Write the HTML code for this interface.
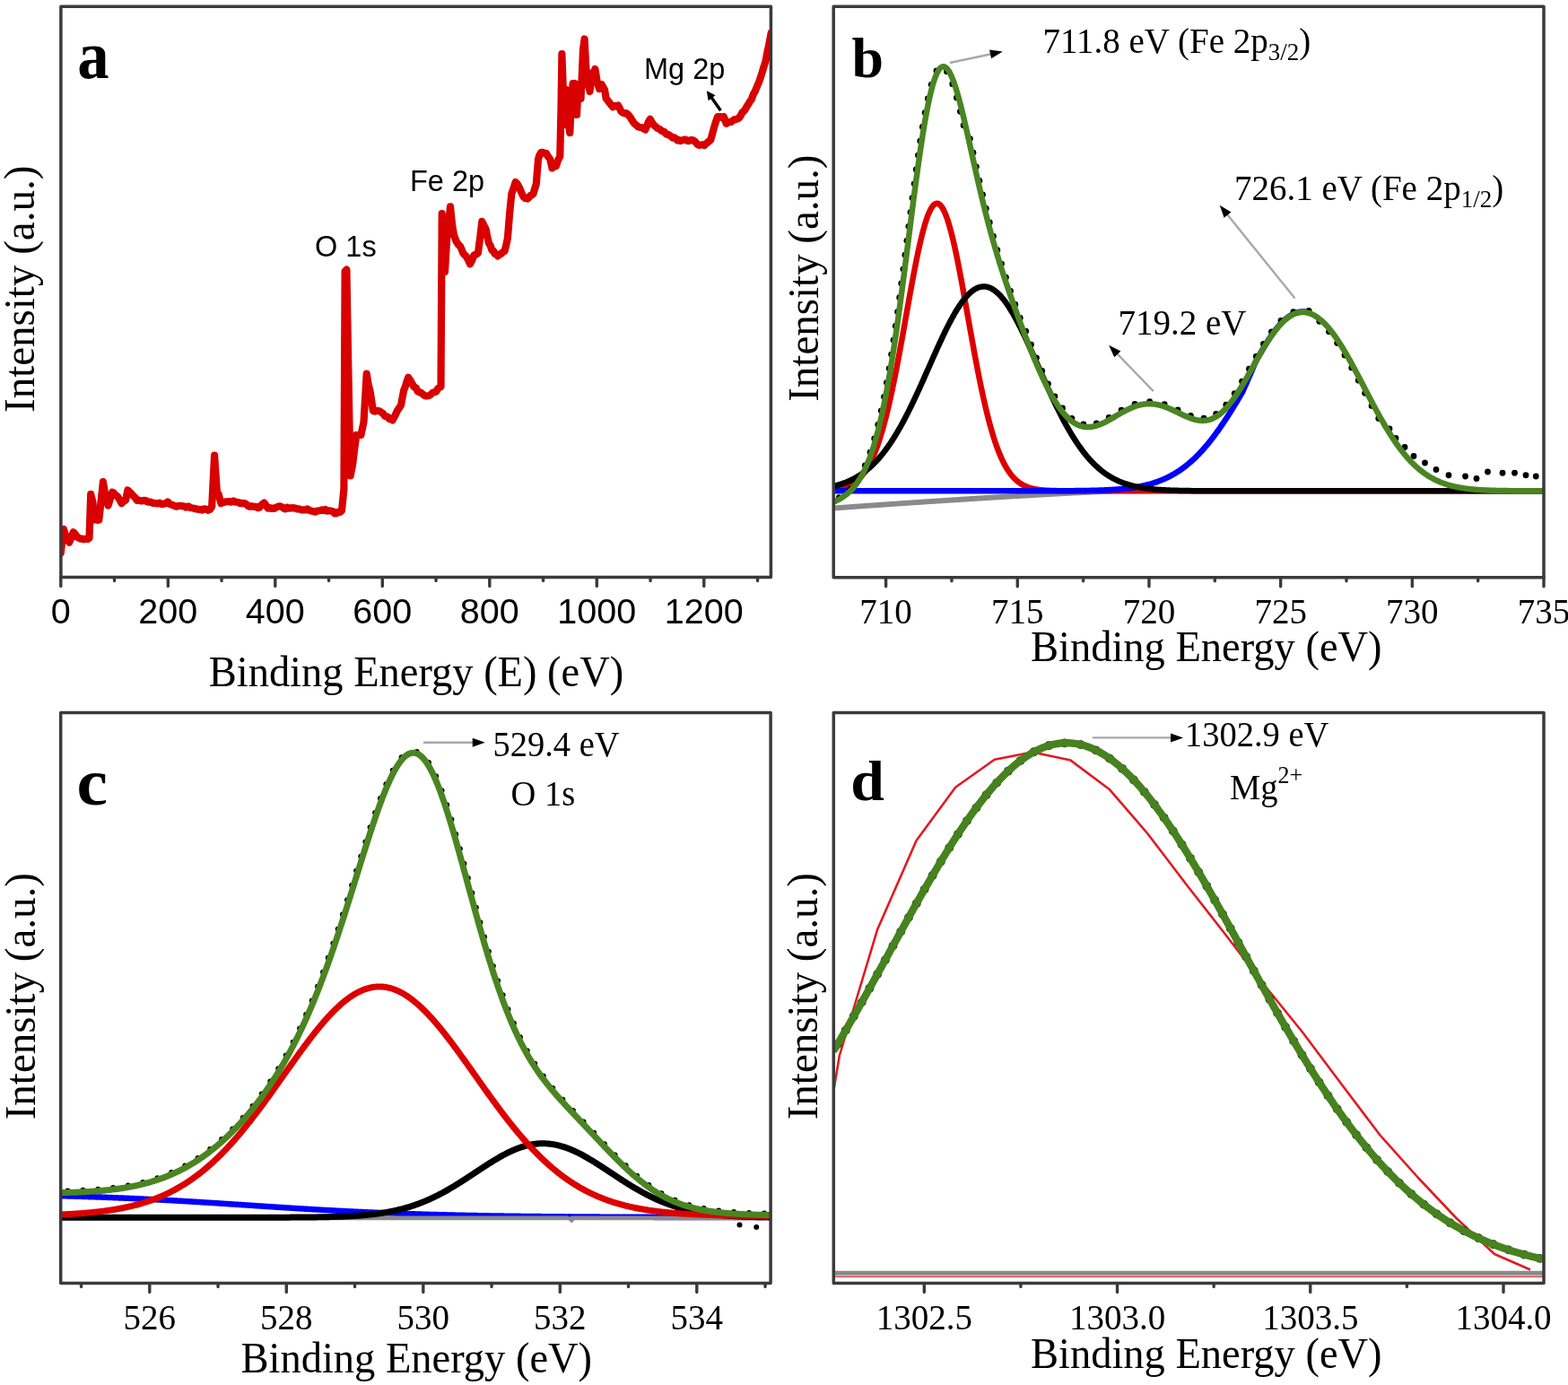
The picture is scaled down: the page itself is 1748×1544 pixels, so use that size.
<!DOCTYPE html>
<html><head><meta charset="utf-8"><title>XPS spectra</title>
<style>html,body{margin:0;padding:0;background:#fff;}body{width:1748px;height:1544px;overflow:hidden;}svg{display:block;}</style>
</head><body>
<svg width="1748" height="1544" viewBox="0 0 1748 1544">
<rect width="1748" height="1544" fill="#fff"/>
<path d="M67.8,643.6 V653.6 M187.3,643.6 V653.6 M306.8,643.6 V653.6 M426.3,643.6 V653.6 M545.8,643.6 V653.6 M665.3,643.6 V653.6 M784.8,643.6 V653.6 M127.55,643.6 V647.6 M247.05,643.6 V647.6 M366.55,643.6 V647.6 M486.05,643.6 V647.6 M605.55,643.6 V647.6 M725.05,643.6 V647.6 M844.55,643.6 V647.6" stroke="#3a3a3a" stroke-width="3.4" fill="none" stroke-linecap="round"/>
<text x="67.8" y="695" font-family="'Liberation Sans',Arial,sans-serif" font-size="39.5" text-anchor="middle">0</text>
<text x="187.3" y="695" font-family="'Liberation Sans',Arial,sans-serif" font-size="39.5" text-anchor="middle">200</text>
<text x="306.8" y="695" font-family="'Liberation Sans',Arial,sans-serif" font-size="39.5" text-anchor="middle">400</text>
<text x="426.3" y="695" font-family="'Liberation Sans',Arial,sans-serif" font-size="39.5" text-anchor="middle">600</text>
<text x="545.8" y="695" font-family="'Liberation Sans',Arial,sans-serif" font-size="39.5" text-anchor="middle">800</text>
<text x="665.3" y="695" font-family="'Liberation Sans',Arial,sans-serif" font-size="39.5" text-anchor="middle">1000</text>
<text x="784.8" y="695" font-family="'Liberation Sans',Arial,sans-serif" font-size="39.5" text-anchor="middle">1200</text>
<path d="M987.6,643.7 V653.7 M1134.28,643.7 V653.7 M1280.96,643.7 V653.7 M1427.64,643.7 V653.7 M1574.32,643.7 V653.7 M1721,643.7 V653.7 M1060.94,643.7 V647.7 M1207.62,643.7 V647.7 M1354.3,643.7 V647.7 M1500.98,643.7 V647.7 M1647.66,643.7 V647.7" stroke="#3a3a3a" stroke-width="3.4" fill="none" stroke-linecap="round"/>
<text transform="translate(987.6,695) scale(1,1.05)" font-family="'Liberation Serif','Times New Roman',serif" font-size="39" text-anchor="middle">710</text>
<text transform="translate(1134.28,695) scale(1,1.05)" font-family="'Liberation Serif','Times New Roman',serif" font-size="39" text-anchor="middle">715</text>
<text transform="translate(1280.96,695) scale(1,1.05)" font-family="'Liberation Serif','Times New Roman',serif" font-size="39" text-anchor="middle">720</text>
<text transform="translate(1427.64,695) scale(1,1.05)" font-family="'Liberation Serif','Times New Roman',serif" font-size="39" text-anchor="middle">725</text>
<text transform="translate(1574.32,695) scale(1,1.05)" font-family="'Liberation Serif','Times New Roman',serif" font-size="39" text-anchor="middle">730</text>
<text transform="translate(1721,695) scale(1,1.05)" font-family="'Liberation Serif','Times New Roman',serif" font-size="39" text-anchor="middle">735</text>
<path d="M166.8,1430.6 V1440.6 M319.3,1430.6 V1440.6 M471.8,1430.6 V1440.6 M624.3,1430.6 V1440.6 M776.8,1430.6 V1440.6 M90.55,1430.6 V1434.6 M243.05,1430.6 V1434.6 M395.55,1430.6 V1434.6 M548.05,1430.6 V1434.6 M700.55,1430.6 V1434.6 M853.05,1430.6 V1434.6" stroke="#3a3a3a" stroke-width="3.4" fill="none" stroke-linecap="round"/>
<text transform="translate(166.8,1482.3) scale(1,1.05)" font-family="'Liberation Serif','Times New Roman',serif" font-size="39" text-anchor="middle">526</text>
<text transform="translate(319.3,1482.3) scale(1,1.05)" font-family="'Liberation Serif','Times New Roman',serif" font-size="39" text-anchor="middle">528</text>
<text transform="translate(471.8,1482.3) scale(1,1.05)" font-family="'Liberation Serif','Times New Roman',serif" font-size="39" text-anchor="middle">530</text>
<text transform="translate(624.3,1482.3) scale(1,1.05)" font-family="'Liberation Serif','Times New Roman',serif" font-size="39" text-anchor="middle">532</text>
<text transform="translate(776.8,1482.3) scale(1,1.05)" font-family="'Liberation Serif','Times New Roman',serif" font-size="39" text-anchor="middle">534</text>
<path d="M1030.3,1430.6 V1440.6 M1245.53,1430.6 V1440.6 M1460.77,1430.6 V1440.6 M1676.01,1430.6 V1440.6 M1137.92,1430.6 V1434.6 M1353.15,1430.6 V1434.6 M1568.39,1430.6 V1434.6" stroke="#3a3a3a" stroke-width="3.4" fill="none" stroke-linecap="round"/>
<text transform="translate(1030.3,1482.3) scale(1,1.05)" font-family="'Liberation Serif','Times New Roman',serif" font-size="39" text-anchor="middle">1302.5</text>
<text transform="translate(1245.53,1482.3) scale(1,1.05)" font-family="'Liberation Serif','Times New Roman',serif" font-size="39" text-anchor="middle">1303.0</text>
<text transform="translate(1460.77,1482.3) scale(1,1.05)" font-family="'Liberation Serif','Times New Roman',serif" font-size="39" text-anchor="middle">1303.5</text>
<text transform="translate(1676.01,1482.3) scale(1,1.05)" font-family="'Liberation Serif','Times New Roman',serif" font-size="39" text-anchor="middle">1304.0</text>
<text transform="translate(464,765) scale(1,1.05)" font-family="'Liberation Serif','Times New Roman',serif" font-size="46.5" text-anchor="middle">Binding Energy (E) (eV)</text>
<text transform="translate(1149,736.5) scale(1,1.05)" font-family="'Liberation Serif','Times New Roman',serif" font-size="46.5" text-anchor="start">Binding Energy (eV)</text>
<text transform="translate(268.5,1529.5) scale(1,1.05)" font-family="'Liberation Serif','Times New Roman',serif" font-size="46.5" text-anchor="start">Binding Energy (eV)</text>
<text transform="translate(1149,1524.5) scale(1,1.05)" font-family="'Liberation Serif','Times New Roman',serif" font-size="46.5" text-anchor="start">Binding Energy (eV)</text>
<text transform="translate(37.5,460) rotate(-90) scale(1,1.05)" font-family="'Liberation Serif','Times New Roman',serif" font-size="47">Intensity (a.u.)</text>
<text transform="translate(912.3,447.8) rotate(-90) scale(1,1.05)" font-family="'Liberation Serif','Times New Roman',serif" font-size="47">Intensity (a.u.)</text>
<text transform="translate(38.8,1248.3) rotate(-90) scale(1,1.05)" font-family="'Liberation Serif','Times New Roman',serif" font-size="47">Intensity (a.u.)</text>
<text transform="translate(910.7,1248.3) rotate(-90) scale(1,1.05)" font-family="'Liberation Serif','Times New Roman',serif" font-size="47">Intensity (a.u.)</text>
<text transform="translate(86.2,86.8) scale(1.14,1.22)" font-family="'Liberation Serif','Times New Roman',serif" font-size="62" font-weight="bold">a</text>
<text transform="translate(949.5,86) scale(1.03,1.03)" font-family="'Liberation Serif','Times New Roman',serif" font-size="62" font-weight="bold">b</text>
<text transform="translate(85.6,897) scale(1.25,1.19)" font-family="'Liberation Serif','Times New Roman',serif" font-size="62" font-weight="bold">c</text>
<text transform="translate(948.2,892) scale(1.09,1.03)" font-family="'Liberation Serif','Times New Roman',serif" font-size="62" font-weight="bold">d</text>
<defs>
<clipPath id="clipa"><rect x="67.9" y="7.3" width="791.5" height="636.3"/></clipPath>
<clipPath id="clipb"><rect x="929.2" y="7.3" width="791.8" height="636.4"/></clipPath>
<clipPath id="clipc"><rect x="67.7" y="794.5" width="791.4" height="636.1"/></clipPath>
<clipPath id="clipd"><rect x="929.3" y="794.5" width="791.7" height="636.1"/></clipPath>
</defs>
<g clip-path="url(#clipa)"><path d="M67.8,616.2 L70.9,589.8 L73.5,598 L75.19,600.6 L77.2,604.7 L79.5,599.54 L81.7,593.3 L83.96,595.42 L86.3,599 L87.82,599.54 L89.52,600.57 L91.49,600.53 L93.2,601.3 L95.35,600.78 L97.67,600.93 L99.5,600.1 L101.2,550.9 L103.5,560 L105.2,579.5 L106.99,579.11 L108.48,579.85 L110.3,579.5 L112.5,560 L114.9,537.2 L117.8,554.4 L120.6,563.5 L123.18,555.15 L125.2,548.6 L126.99,549.77 L129.05,552.37 L130.9,553.2 L133.36,557.15 L135.5,561.2 L137.92,558.65 L140.1,557.8 L142.4,546.4 L144.45,548.42 L147,550.9 L149.16,553.49 L150.88,554.97 L152.7,557.8 L154.45,557.44 L155.73,558.2 L157.59,558.39 L159.29,558.13 L160.7,557.8 L162.57,558.1 L163.89,559.33 L165.77,559.7 L167.34,559.46 L169.14,560.28 L170.84,561.02 L172.63,560.89 L174.4,561.2 L175.94,561.46 L177.99,560.74 L179.6,561.83 L181.1,562.2 L183,561.5 L184.8,561.13 L187,559.5 L189.07,561.84 L191,562.5 L193.38,563.43 L195.37,564.48 L197.3,564.7 L198.85,563.9 L200.37,563.95 L202.4,564.18 L203.69,564.03 L205.65,564.69 L207.2,565.54 L208.7,564.7 L210.45,564.61 L211.88,565.92 L213.8,566.3 L215.7,566.56 L217.34,567.13 L218.87,567.35 L220.55,567.67 L222.5,568.1 L224.15,568.07 L225.69,568.59 L227.4,567.24 L229.16,567.57 L230.57,567.9 L232.21,568.84 L233.9,568.1 L236.2,564.7 L239.1,507.5 L241.9,548.6 L243.7,551 L246.4,561.1 L248.14,560.23 L249.82,559.87 L251.9,559.3 L253.79,559.2 L255.33,559.05 L257.03,559.56 L258.65,559.02 L260.1,558.4 L261.8,559.65 L263.71,559.72 L265.69,560 L267.5,561.1 L269.4,560.77 L270.93,561.25 L273,561.1 L274.73,562.23 L276.35,563.94 L278.4,564.8 L280.24,564.2 L282.17,564.63 L283.9,564.8 L285.55,564.8 L287.41,566.18 L289.4,565.7 L290.97,563.33 L292.64,561.94 L294.5,560.5 L296.81,563.62 L298.6,566.6 L300.38,565.93 L302.5,566.9 L304.1,566.6 L306.02,566.8 L308.6,565.27 L310.5,564.5 L312.39,564.4 L314.33,565.31 L316,566.6 L318.16,567.39 L320.01,565.72 L322.4,566.6 L324.43,566.45 L326.15,566.13 L327.73,566.43 L329.7,566.6 L331.18,567.42 L333.06,567.27 L334.67,567.94 L336.1,568.4 L337.54,568.43 L339.6,568.3 L341.3,568.52 L342.56,567.5 L344.3,568.4 L346.25,569.52 L348.06,569.78 L349.8,570.3 L351.75,570.6 L353.52,569.63 L355.21,569.46 L357.23,569.08 L359,568.4 L360.81,569.11 L362.66,567.95 L364.54,569.64 L366.21,569.46 L368.1,569.4 L369.86,569.92 L371.57,570.19 L373.25,572.4 L374.6,572.5 L376.5,570.81 L378.81,571.14 L381,569.4 L383.4,545 L384.6,302.5 L386.4,300.7 L388.2,404 L390.6,530.5 L393.1,518 L395.13,501.09 L397.3,485 L398.8,485.29 L400.8,484.98 L402.4,485 L405.5,470.5 L408.7,416.6 L410.46,427.4 L412.8,437.4 L415.9,458 L417.93,458.56 L420.07,457.88 L422.1,458 L423.99,458.86 L425.45,460 L427.15,461.18 L428.97,463.76 L430.4,464.3 L432.27,464.67 L433.82,467.06 L435.93,467.22 L437.6,468.4 L439.3,465.36 L441.17,461.72 L442.8,458 L444.99,454.64 L447,451.8 L450.1,435.3 L451.92,430.61 L453.4,425.65 L455.2,420.8 L457.52,424.12 L459.12,427.1 L461.4,431.1 L463.71,432.29 L465.44,436.11 L467.7,437.3 L469.16,437.72 L470.97,439.16 L472.45,440.4 L474.24,441.34 L475.9,441.5 L477.74,441.21 L479.22,440.56 L480.92,439.18 L482.54,437.58 L484.2,437.3 L486.27,436.52 L487.95,433.34 L489.46,432.34 L491.5,431.1 L492.7,238 L494,290 L496,303 L498.5,260 L500.43,244.55 L502,230.4 L504,250 L506,262 L508.6,269 L510.81,272.53 L513,274.4 L514.66,278.09 L516.3,282.2 L518.1,284.44 L519.6,285.5 L521.63,289.12 L524,294.3 L526.25,290.01 L528.5,284.4 L530.87,283.58 L532.9,282.2 L535.1,265.6 L537.3,246.9 L539.64,251.55 L541.7,255.7 L543.19,263.48 L545,271.1 L546.95,274.44 L548.3,278.9 L550.06,279.67 L551.44,282.89 L553.19,283.04 L554.9,285.5 L556.8,283.82 L559.02,282.62 L560.94,280.69 L562.6,280 L564.51,271.98 L565.9,265.6 L568.1,238.1 L570.3,216.1 L572.64,209.2 L574.7,202.9 L576.87,205.31 L579.1,209.5 L581.38,214.77 L583.5,219.4 L585.49,221.05 L587.9,221.6 L589.62,220.05 L591.4,218 L592.7,217.32 L594.5,216.1 L596.24,210.1 L597.8,205.1 L600,177.5 L601.5,172.84 L603.3,169.8 L605.02,169.81 L607.09,170.95 L608.9,170.9 L611.22,174.93 L613.3,177.5 L615.5,187.4 L617.59,185.93 L619.9,185.2 L621.95,179.02 L624.3,174.2 L625.5,120 L626.4,60 L627.8,100 L629.3,139 L630.5,110 L631.5,100 L633,125 L634,140 L635.3,148 L636.5,120 L637.5,110 L638.6,93 L640,100 L641,93 L642,120 L643,128 L644,108 L645,105 L646.5,95 L647.5,110 L648.5,90 L650,55 L651.6,43.5 L653,70 L654,88 L655,80 L656,95 L657.5,102 L658.5,95 L659.5,88 L661,85 L663.4,77 L665.5,90 L668,99 L670.6,94 L672.44,97.19 L674,100 L675.7,110 L677.26,111.63 L679,114 L681.38,117.15 L683.2,119.2 L684.91,117.89 L687.13,118.53 L689.1,117.5 L690.88,120.77 L692.5,124.3 L693.92,125.39 L696.12,126.38 L697.51,126.02 L699.2,126.8 L700.95,128.62 L702.62,130.74 L704.3,133.5 L706.1,136.29 L707.71,138.22 L709.7,139.7 L711.62,141.54 L714,142 L715.93,142.35 L717.37,143.38 L719.4,144.6 L721.38,139.96 L722.73,135.94 L724.8,132.9 L727.12,137.1 L729.1,139.7 L730.53,140.6 L732.51,142.63 L733.97,143.4 L735.85,144.28 L736.93,145.41 L738.8,146.5 L740.47,146.7 L742.11,148.85 L743.53,149.84 L745.13,150.13 L746.74,151.1 L748.5,152.3 L749.92,153.72 L751.9,153.41 L753.3,154.57 L755.27,156.42 L756.46,155.88 L758.3,157.2 L760.69,156.34 L763,155.5 L764.72,155.79 L766.52,156.95 L768,157.2 L770.09,156.14 L772,156 L773.64,156.9 L775.57,158.6 L777.7,161.1 L779.55,161.83 L781.52,161.54 L783.2,161.25 L785.4,162 L787.31,159.98 L788.75,158.81 L790.64,157.23 L792.2,156.2 L794.08,149.31 L796.1,141.7 L797.99,135.86 L800,130 L801.76,130.13 L803.64,130.14 L804.83,130.81 L806.8,130 L809.7,137.8 L811.12,136.86 L813.28,136.12 L814.84,135.95 L816.5,134.9 L818.64,133.18 L820.28,133.15 L822.07,132.49 L824.3,131 L826.17,128.01 L827.48,125.33 L829.53,123.73 L831.1,121.3 L832.52,118.79 L834.62,115.54 L836.02,113 L837.9,110.6 L839.69,105.17 L841.5,102.31 L843.7,97 L846.35,90.8 L848.5,84.4 L850,79.56 L851.54,74.27 L853.4,68.8 L855.21,59.1 L857.3,49.4 L859.6,37" fill="none" stroke="#d80000" stroke-width="8.2" stroke-linejoin="round" stroke-linecap="round"/></g>
<text x="351" y="286" font-family="'Liberation Sans',Arial,sans-serif" font-size="32.5">O 1s</text>
<text x="457" y="212.5" font-family="'Liberation Sans',Arial,sans-serif" font-size="32.5">Fe 2p</text>
<text x="718" y="88.3" font-family="'Liberation Sans',Arial,sans-serif" font-size="32.5">Mg 2p</text>
<path d="M803.4,123.2 L792,107" stroke="#000" stroke-width="3.4" fill="none"/>
<path d="M787.8,101.3 L797.5,106.3 L789.6,112.2 z" fill="#000"/>
<g clip-path="url(#clipb)" fill="none" stroke-linejoin="round">
<path d="M929,566.5 L929.88,566.44 L930.76,566.37 L931.64,566.31 L932.52,566.25 L933.4,566.18 L934.29,566.12 L935.17,566.06 L936.05,566 L936.93,565.93 L937.81,565.87 L938.69,565.81 L939.57,565.74 L940.45,565.68 L941.33,565.62 L942.21,565.56 L943.1,565.49 L943.98,565.43 L944.86,565.37 L945.74,565.3 L946.62,565.24 L947.5,565.18 L948.38,565.12 L949.26,565.05 L950.14,564.99 L951.02,564.93 L951.91,564.87 L952.79,564.81 L953.67,564.74 L954.55,564.68 L955.43,564.62 L956.31,564.56 L957.19,564.49 L958.07,564.43 L958.95,564.37 L959.83,564.31 L960.72,564.25 L961.6,564.18 L962.48,564.12 L963.36,564.06 L964.24,564 L965.12,563.94 L966,563.88 L966.88,563.81 L967.76,563.75 L968.64,563.69 L969.53,563.63 L970.41,563.57 L971.29,563.51 L972.17,563.44 L973.05,563.38 L973.93,563.32 L974.81,563.26 L975.69,563.2 L976.57,563.14 L977.45,563.08 L978.33,563.02 L979.22,562.95 L980.1,562.89 L980.98,562.83 L981.86,562.77 L982.74,562.71 L983.62,562.65 L984.5,562.59 L985.38,562.53 L986.26,562.47 L987.14,562.41 L988.03,562.35 L988.91,562.28 L989.79,562.22 L990.67,562.16 L991.55,562.1 L992.43,562.04 L993.31,561.98 L994.19,561.92 L995.07,561.86 L995.95,561.8 L996.84,561.74 L997.72,561.68 L998.6,561.62 L999.48,561.56 L1000.36,561.5 L1001.24,561.44 L1002.12,561.38 L1003,561.32 L1003.88,561.26 L1004.76,561.2 L1005.65,561.14 L1006.53,561.08 L1007.41,561.02 L1008.29,560.96 L1009.17,560.9 L1010.05,560.84 L1010.93,560.78 L1011.81,560.72 L1012.69,560.66 L1013.57,560.6 L1014.45,560.54 L1015.34,560.48 L1016.22,560.42 L1017.1,560.36 L1017.98,560.31 L1018.86,560.25 L1019.74,560.19 L1020.62,560.13 L1021.5,560.07 L1022.38,560.01 L1023.26,559.95 L1024.15,559.89 L1025.03,559.83 L1025.91,559.77 L1026.79,559.72 L1027.67,559.66 L1028.55,559.6 L1029.43,559.54 L1030.31,559.48 L1031.19,559.42 L1032.07,559.36 L1032.96,559.3 L1033.84,559.25 L1034.72,559.19 L1035.6,559.13 L1036.48,559.07 L1037.36,559.01 L1038.24,558.95 L1039.12,558.9 L1040,558.84 L1040.88,558.78 L1041.77,558.72 L1042.65,558.66 L1043.53,558.61 L1044.41,558.55 L1045.29,558.49 L1046.17,558.43 L1047.05,558.38 L1047.93,558.32 L1048.81,558.26 L1049.69,558.2 L1050.58,558.15 L1051.46,558.09 L1052.34,558.03 L1053.22,557.97 L1054.1,557.92 L1054.98,557.86 L1055.86,557.8 L1056.74,557.74 L1057.62,557.69 L1058.5,557.63 L1059.38,557.57 L1060.27,557.52 L1061.15,557.46 L1062.03,557.4 L1062.91,557.35 L1063.79,557.29 L1064.67,557.23 L1065.55,557.18 L1066.43,557.12 L1067.31,557.06 L1068.19,557.01 L1069.08,556.95 L1069.96,556.89 L1070.84,556.84 L1071.72,556.78 L1072.6,556.72 L1073.48,556.67 L1074.36,556.61 L1075.24,556.56 L1076.12,556.5 L1077,556.44 L1077.89,556.39 L1078.77,556.33 L1079.65,556.28 L1080.53,556.22 L1081.41,556.17 L1082.29,556.11 L1083.17,556.05 L1084.05,556 L1084.93,555.94 L1085.81,555.89 L1086.7,555.83 L1087.58,555.78 L1088.46,555.72 L1089.34,555.67 L1090.22,555.61 L1091.1,555.56 L1091.98,555.5 L1092.86,555.45 L1093.74,555.39 L1094.62,555.34 L1095.51,555.28 L1096.39,555.23 L1097.27,555.17 L1098.15,555.12 L1099.03,555.07 L1099.91,555.01 L1100.79,554.96 L1101.67,554.9 L1102.55,554.85 L1103.43,554.79 L1104.31,554.74 L1105.2,554.69 L1106.08,554.63 L1106.96,554.58 L1107.84,554.52 L1108.72,554.47 L1109.6,554.42 L1110.48,554.36 L1111.36,554.31 L1112.24,554.26 L1113.12,554.2 L1114.01,554.15 L1114.89,554.1 L1115.77,554.04 L1116.65,553.99 L1117.53,553.94 L1118.41,553.89 L1119.29,553.83 L1120.17,553.78 L1121.05,553.73 L1121.93,553.67 L1122.82,553.62 L1123.7,553.57 L1124.58,553.52 L1125.46,553.46 L1126.34,553.41 L1127.22,553.36 L1128.1,553.31 L1128.98,553.26 L1129.86,553.2 L1130.74,553.15 L1131.63,553.1 L1132.51,553.05 L1133.39,553 L1134.27,552.94 L1135.15,552.89 L1136.03,552.84 L1136.91,552.79 L1137.79,552.74 L1138.67,552.69 L1139.55,552.64 L1140.43,552.59 L1141.32,552.53 L1142.2,552.48 L1143.08,552.43 L1143.96,552.38 L1144.84,552.33 L1145.72,552.28 L1146.6,552.23 L1147.48,552.18 L1148.36,552.13 L1149.24,552.08 L1150.13,552.03 L1151.01,551.98 L1151.89,551.93 L1152.77,551.88 L1153.65,551.83 L1154.53,551.78 L1155.41,551.73 L1156.29,551.68 L1157.17,551.63 L1158.05,551.58 L1158.94,551.53 L1159.82,551.48 L1160.7,551.44 L1161.58,551.39 L1162.46,551.34 L1163.34,551.29 L1164.22,551.24 L1165.1,551.19 L1165.98,551.14 L1166.86,551.1 L1167.75,551.05 L1168.63,551 L1169.51,550.95 L1170.39,550.9 L1171.27,550.86 L1172.15,550.81 L1173.03,550.76 L1173.91,550.71 L1174.79,550.67 L1175.67,550.62 L1176.56,550.57 L1177.44,550.52 L1178.32,550.48 L1179.2,550.43 L1180.08,550.38 L1180.96,550.34 L1181.84,550.29 L1182.72,550.24 L1183.6,550.2 L1184.48,550.15 L1185.36,550.11 L1186.25,550.06 L1187.13,550.01 L1188.01,549.97 L1188.89,549.92 L1189.77,549.88 L1190.65,549.83 L1191.53,549.79 L1192.41,549.74 L1193.29,549.7 L1194.17,549.65 L1195.06,549.61 L1195.94,549.56 L1196.82,549.52 L1197.7,549.48 L1198.58,549.43 L1199.46,549.39 L1200.34,549.34 L1201.22,549.3 L1202.1,549.26 L1202.98,549.22 L1203.87,549.17 L1204.75,549.13 L1205.63,549.09 L1206.51,549.04 L1207.39,549 L1208.27,548.96 L1209.15,548.92 L1210.03,548.88 L1210.91,548.83 L1211.79,548.79 L1212.68,548.75 L1213.56,548.71 L1214.44,548.67 L1215.32,548.63 L1216.2,548.59 L1217.08,548.55 L1217.96,548.51 L1218.84,548.47 L1219.72,548.43 L1220.6,548.39 L1221.48,548.35 L1222.37,548.31 L1223.25,548.27 L1224.13,548.24 L1225.01,548.2 L1225.89,548.16 L1226.77,548.12 L1227.65,548.08 L1228.53,548.05 L1229.41,548.01 L1230.29,547.97 L1231.18,547.94 L1232.06,547.9 L1232.94,547.87 L1233.82,547.83 L1234.7,547.8 L1235.58,547.76 L1236.46,547.73 L1237.34,547.7 L1238.22,547.66 L1239.1,547.63 L1239.99,547.6 L1240.87,547.57 L1241.75,547.54 L1242.63,547.51 L1243.51,547.48 L1244.39,547.45 L1245.27,547.42 L1246.15,547.4 L1247.03,547.37 L1247.91,547.35 L1248.8,547.32 L1249.68,547.3 L1250.56,547.3 L1251.44,547.3 L1252.32,547.3 L1253.2,547.3 L1254.08,547.3 L1254.96,547.3 L1255.84,547.3 L1256.72,547.3 L1257.61,547.3 L1258.49,547.3 L1259.37,547.3 L1260.25,547.3 L1261.13,547.3 L1262.01,547.3 L1262.89,547.3 L1263.77,547.3 L1264.65,547.3 L1265.53,547.3 L1266.41,547.3 L1267.3,547.3 L1268.18,547.3 L1269.06,547.3 L1269.94,547.3 L1270.82,547.3 L1271.7,547.3 L1272.58,547.3 L1273.46,547.3 L1274.34,547.3 L1275.22,547.3 L1276.11,547.3 L1276.99,547.3 L1277.87,547.3 L1278.75,547.3 L1279.63,547.3 L1280.51,547.3 L1281.39,547.3 L1282.27,547.3 L1283.15,547.3 L1284.03,547.3 L1284.92,547.3 L1285.8,547.3 L1286.68,547.3 L1287.56,547.3 L1288.44,547.3 L1289.32,547.3 L1290.2,547.3 L1291.08,547.3 L1291.96,547.3 L1292.84,547.3 L1293.73,547.3 L1294.61,547.3 L1295.49,547.3 L1296.37,547.3 L1297.25,547.3 L1298.13,547.3 L1299.01,547.3 L1299.89,547.3 L1300.77,547.3 L1301.65,547.3 L1302.54,547.3 L1303.42,547.3 L1304.3,547.3 L1305.18,547.3 L1306.06,547.3 L1306.94,547.3 L1307.82,547.3 L1308.7,547.3 L1309.58,547.3 L1310.46,547.3 L1311.34,547.3 L1312.23,547.3 L1313.11,547.3 L1313.99,547.3 L1314.87,547.3 L1315.75,547.3 L1316.63,547.3 L1317.51,547.3 L1318.39,547.3 L1319.27,547.3 L1320.15,547.3 L1321.04,547.3 L1321.92,547.3 L1322.8,547.3 L1323.68,547.3 L1324.56,547.3 L1325.44,547.3 L1326.32,547.3 L1327.2,547.3 L1328.08,547.3 L1328.96,547.3 L1329.85,547.3 L1330.73,547.3 L1331.61,547.3 L1332.49,547.3 L1333.37,547.3 L1334.25,547.3 L1335.13,547.3 L1336.01,547.3 L1336.89,547.3 L1337.77,547.3 L1338.66,547.3 L1339.54,547.3 L1340.42,547.3 L1341.3,547.3 L1342.18,547.3 L1343.06,547.3 L1343.94,547.3 L1344.82,547.3 L1345.7,547.3 L1346.58,547.3 L1347.46,547.3 L1348.35,547.3 L1349.23,547.3 L1350.11,547.3 L1350.99,547.3 L1351.87,547.3 L1352.75,547.3 L1353.63,547.3 L1354.51,547.3 L1355.39,547.3 L1356.27,547.3 L1357.16,547.3 L1358.04,547.3 L1358.92,547.3 L1359.8,547.3 L1360.68,547.3 L1361.56,547.3 L1362.44,547.3 L1363.32,547.3 L1364.2,547.3 L1365.08,547.3 L1365.97,547.3 L1366.85,547.3 L1367.73,547.3 L1368.61,547.3 L1369.49,547.3 L1370.37,547.3 L1371.25,547.3 L1372.13,547.3 L1373.01,547.3 L1373.89,547.3 L1374.78,547.3 L1375.66,547.3 L1376.54,547.3 L1377.42,547.3 L1378.3,547.3 L1379.18,547.3 L1380.06,547.3 L1380.94,547.3 L1381.82,547.3 L1382.7,547.3 L1383.59,547.3 L1384.47,547.3 L1385.35,547.3 L1386.23,547.3 L1387.11,547.3 L1387.99,547.3 L1388.87,547.3 L1389.75,547.3 L1390.63,547.3 L1391.51,547.3 L1392.39,547.3 L1393.28,547.3 L1394.16,547.3 L1395.04,547.3 L1395.92,547.3 L1396.8,547.3 L1397.68,547.3 L1398.56,547.3 L1399.44,547.3 L1400.32,547.3 L1401.2,547.3 L1402.09,547.3 L1402.97,547.3 L1403.85,547.3 L1404.73,547.3 L1405.61,547.3 L1406.49,547.3 L1407.37,547.3 L1408.25,547.3 L1409.13,547.3 L1410.01,547.3 L1410.9,547.3 L1411.78,547.3 L1412.66,547.3 L1413.54,547.3 L1414.42,547.3 L1415.3,547.3 L1416.18,547.3 L1417.06,547.3 L1417.94,547.3 L1418.82,547.3 L1419.71,547.3 L1420.59,547.3 L1421.47,547.3 L1422.35,547.3 L1423.23,547.3 L1424.11,547.3 L1424.99,547.3 L1425.87,547.3 L1426.75,547.3 L1427.63,547.3 L1428.52,547.3 L1429.4,547.3 L1430.28,547.3 L1431.16,547.3 L1432.04,547.3 L1432.92,547.3 L1433.8,547.3 L1434.68,547.3 L1435.56,547.3 L1436.44,547.3 L1437.32,547.3 L1438.21,547.3 L1439.09,547.3 L1439.97,547.3 L1440.85,547.3 L1441.73,547.3 L1442.61,547.3 L1443.49,547.3 L1444.37,547.3 L1445.25,547.3 L1446.13,547.3 L1447.02,547.3 L1447.9,547.3 L1448.78,547.3 L1449.66,547.3 L1450.54,547.3 L1451.42,547.3 L1452.3,547.3 L1453.18,547.3 L1454.06,547.3 L1454.94,547.3 L1455.83,547.3 L1456.71,547.3 L1457.59,547.3 L1458.47,547.3 L1459.35,547.3 L1460.23,547.3 L1461.11,547.3 L1461.99,547.3 L1462.87,547.3 L1463.75,547.3 L1464.64,547.3 L1465.52,547.3 L1466.4,547.3 L1467.28,547.3 L1468.16,547.3 L1469.04,547.3 L1469.92,547.3 L1470.8,547.3 L1471.68,547.3 L1472.56,547.3 L1473.44,547.3 L1474.33,547.3 L1475.21,547.3 L1476.09,547.3 L1476.97,547.3 L1477.85,547.3 L1478.73,547.3 L1479.61,547.3 L1480.49,547.3 L1481.37,547.3 L1482.25,547.3 L1483.14,547.3 L1484.02,547.3 L1484.9,547.3 L1485.78,547.3 L1486.66,547.3 L1487.54,547.3 L1488.42,547.3 L1489.3,547.3 L1490.18,547.3 L1491.06,547.3 L1491.95,547.3 L1492.83,547.3 L1493.71,547.3 L1494.59,547.3 L1495.47,547.3 L1496.35,547.3 L1497.23,547.3 L1498.11,547.3 L1498.99,547.3 L1499.87,547.3 L1500.76,547.3 L1501.64,547.3 L1502.52,547.3 L1503.4,547.3 L1504.28,547.3 L1505.16,547.3 L1506.04,547.3 L1506.92,547.3 L1507.8,547.3 L1508.68,547.3 L1509.57,547.3 L1510.45,547.3 L1511.33,547.3 L1512.21,547.3 L1513.09,547.3 L1513.97,547.3 L1514.85,547.3 L1515.73,547.3 L1516.61,547.3 L1517.49,547.3 L1518.37,547.3 L1519.26,547.3 L1520.14,547.3 L1521.02,547.3 L1521.9,547.3 L1522.78,547.3 L1523.66,547.3 L1524.54,547.3 L1525.42,547.3 L1526.3,547.3 L1527.18,547.3 L1528.07,547.3 L1528.95,547.3 L1529.83,547.3 L1530.71,547.3 L1531.59,547.3 L1532.47,547.3 L1533.35,547.3 L1534.23,547.3 L1535.11,547.3 L1535.99,547.3 L1536.88,547.3 L1537.76,547.3 L1538.64,547.3 L1539.52,547.3 L1540.4,547.3 L1541.28,547.3 L1542.16,547.3 L1543.04,547.3 L1543.92,547.3 L1544.8,547.3 L1545.69,547.3 L1546.57,547.3 L1547.45,547.3 L1548.33,547.3 L1549.21,547.3 L1550.09,547.3 L1550.97,547.3 L1551.85,547.3 L1552.73,547.3 L1553.61,547.3 L1554.49,547.3 L1555.38,547.3 L1556.26,547.3 L1557.14,547.3 L1558.02,547.3 L1558.9,547.3 L1559.78,547.3 L1560.66,547.3 L1561.54,547.3 L1562.42,547.3 L1563.3,547.3 L1564.19,547.3 L1565.07,547.3 L1565.95,547.3 L1566.83,547.3 L1567.71,547.3 L1568.59,547.3 L1569.47,547.3 L1570.35,547.3 L1571.23,547.3 L1572.11,547.3 L1573,547.3 L1573.88,547.3 L1574.76,547.3 L1575.64,547.3 L1576.52,547.3 L1577.4,547.3 L1578.28,547.3 L1579.16,547.3 L1580.04,547.3 L1580.92,547.3 L1581.81,547.3 L1582.69,547.3 L1583.57,547.3 L1584.45,547.3 L1585.33,547.3 L1586.21,547.3 L1587.09,547.3 L1587.97,547.3 L1588.85,547.3 L1589.73,547.3 L1590.62,547.3 L1591.5,547.3 L1592.38,547.3 L1593.26,547.3 L1594.14,547.3 L1595.02,547.3 L1595.9,547.3 L1596.78,547.3 L1597.66,547.3 L1598.54,547.3 L1599.42,547.3 L1600.31,547.3 L1601.19,547.3 L1602.07,547.3 L1602.95,547.3 L1603.83,547.3 L1604.71,547.3 L1605.59,547.3 L1606.47,547.3 L1607.35,547.3 L1608.23,547.3 L1609.12,547.3 L1610,547.3 L1610.88,547.3 L1611.76,547.3 L1612.64,547.3 L1613.52,547.3 L1614.4,547.3 L1615.28,547.3 L1616.16,547.3 L1617.04,547.3 L1617.93,547.3 L1618.81,547.3 L1619.69,547.3 L1620.57,547.3 L1621.45,547.3 L1622.33,547.3 L1623.21,547.3 L1624.09,547.3 L1624.97,547.3 L1625.85,547.3 L1626.74,547.3 L1627.62,547.3 L1628.5,547.3 L1629.38,547.3 L1630.26,547.3 L1631.14,547.3 L1632.02,547.3 L1632.9,547.3 L1633.78,547.3 L1634.66,547.3 L1635.55,547.3 L1636.43,547.3 L1637.31,547.3 L1638.19,547.3 L1639.07,547.3 L1639.95,547.3 L1640.83,547.3 L1641.71,547.3 L1642.59,547.3 L1643.47,547.3 L1644.35,547.3 L1645.24,547.3 L1646.12,547.3 L1647,547.3 L1647.88,547.3 L1648.76,547.3 L1649.64,547.3 L1650.52,547.3 L1651.4,547.3 L1652.28,547.3 L1653.16,547.3 L1654.05,547.3 L1654.93,547.3 L1655.81,547.3 L1656.69,547.3 L1657.57,547.3 L1658.45,547.3 L1659.33,547.3 L1660.21,547.3 L1661.09,547.3 L1661.97,547.3 L1662.86,547.3 L1663.74,547.3 L1664.62,547.3 L1665.5,547.3 L1666.38,547.3 L1667.26,547.3 L1668.14,547.3 L1669.02,547.3 L1669.9,547.3 L1670.78,547.3 L1671.67,547.3 L1672.55,547.3 L1673.43,547.3 L1674.31,547.3 L1675.19,547.3 L1676.07,547.3 L1676.95,547.3 L1677.83,547.3 L1678.71,547.3 L1679.59,547.3 L1680.47,547.3 L1681.36,547.3 L1682.24,547.3 L1683.12,547.3 L1684,547.3 L1684.88,547.3 L1685.76,547.3 L1686.64,547.3 L1687.52,547.3 L1688.4,547.3 L1689.28,547.3 L1690.17,547.3 L1691.05,547.3 L1691.93,547.3 L1692.81,547.3 L1693.69,547.3 L1694.57,547.3 L1695.45,547.3 L1696.33,547.3 L1697.21,547.3 L1698.09,547.3 L1698.98,547.3 L1699.86,547.3 L1700.74,547.3 L1701.62,547.3 L1702.5,547.3 L1703.38,547.3 L1704.26,547.3 L1705.14,547.3 L1706.02,547.3 L1706.9,547.3 L1707.79,547.3 L1708.67,547.3 L1709.55,547.3 L1710.43,547.3 L1711.31,547.3 L1712.19,547.3 L1713.07,547.3 L1713.95,547.3 L1714.83,547.3 L1715.71,547.3 L1716.6,547.3 L1717.48,547.3 L1718.36,547.3 L1719.24,547.3 L1720.12,547.3 L1721,547.3" stroke="#8a8a8a" stroke-width="6"/>
<path d="M929,546.12 L929.88,546.01 L930.76,545.9 L931.64,545.78 L932.52,545.65 L933.4,545.5 L934.29,545.35 L935.17,545.19 L936.05,545.01 L936.93,544.82 L937.81,544.61 L938.69,544.39 L939.57,544.16 L940.45,543.91 L941.33,543.63 L942.21,543.35 L943.1,543.04 L943.98,542.7 L944.86,542.35 L945.74,541.97 L946.62,541.57 L947.5,541.14 L948.38,540.69 L949.26,540.2 L950.14,539.69 L951.02,539.14 L951.91,538.56 L952.79,537.94 L953.67,537.29 L954.55,536.59 L955.43,535.86 L956.31,535.08 L957.19,534.26 L958.07,533.4 L958.95,532.49 L959.83,531.52 L960.72,530.51 L961.6,529.44 L962.48,528.31 L963.36,527.13 L964.24,525.89 L965.12,524.59 L966,523.22 L966.88,521.79 L967.76,520.29 L968.64,518.72 L969.53,517.08 L970.41,515.37 L971.29,513.58 L972.17,511.71 L973.05,509.77 L973.93,507.74 L974.81,505.63 L975.69,503.44 L976.57,501.16 L977.45,498.8 L978.33,496.35 L979.22,493.81 L980.1,491.18 L980.98,488.46 L981.86,485.65 L982.74,482.74 L983.62,479.74 L984.5,476.65 L985.38,473.47 L986.26,470.19 L987.14,466.82 L988.03,463.36 L988.91,459.81 L989.79,456.16 L990.67,452.42 L991.55,448.6 L992.43,444.69 L993.31,440.69 L994.19,436.61 L995.07,432.45 L995.95,428.21 L996.84,423.89 L997.72,419.5 L998.6,415.04 L999.48,410.52 L1000.36,405.93 L1001.24,401.28 L1002.12,396.58 L1003,391.83 L1003.88,387.03 L1004.76,382.19 L1005.65,377.32 L1006.53,372.42 L1007.41,367.49 L1008.29,362.54 L1009.17,357.59 L1010.05,352.62 L1010.93,347.66 L1011.81,342.71 L1012.69,337.76 L1013.57,332.84 L1014.45,327.95 L1015.34,323.09 L1016.22,318.27 L1017.1,313.5 L1017.98,308.79 L1018.86,304.14 L1019.74,299.56 L1020.62,295.06 L1021.5,290.65 L1022.38,286.33 L1023.26,282.11 L1024.15,278 L1025.03,274 L1025.91,270.12 L1026.79,266.37 L1027.67,262.76 L1028.55,259.28 L1029.43,255.96 L1030.31,252.79 L1031.19,249.77 L1032.07,246.93 L1032.96,244.25 L1033.84,241.75 L1034.72,239.43 L1035.6,237.29 L1036.48,235.35 L1037.36,233.59 L1038.24,232.03 L1039.12,230.67 L1040,229.51 L1040.88,228.56 L1041.77,227.81 L1042.65,227.26 L1043.53,226.93 L1044.41,226.8 L1045.29,226.88 L1046.17,227.18 L1047.05,227.68 L1047.93,228.38 L1048.81,229.29 L1049.69,230.41 L1050.58,231.73 L1051.46,233.25 L1052.34,234.96 L1053.22,236.87 L1054.1,238.97 L1054.98,241.25 L1055.86,243.71 L1056.74,246.36 L1057.62,249.17 L1058.5,252.14 L1059.38,255.28 L1060.27,258.58 L1061.15,262.02 L1062.03,265.61 L1062.91,269.33 L1063.79,273.18 L1064.67,277.15 L1065.55,281.24 L1066.43,285.44 L1067.31,289.74 L1068.19,294.14 L1069.08,298.62 L1069.96,303.18 L1070.84,307.82 L1071.72,312.52 L1072.6,317.27 L1073.48,322.08 L1074.36,326.93 L1075.24,331.82 L1076.12,336.74 L1077,341.68 L1077.89,346.63 L1078.77,351.59 L1079.65,356.55 L1080.53,361.51 L1081.41,366.46 L1082.29,371.39 L1083.17,376.3 L1084.05,381.18 L1084.93,386.02 L1085.81,390.83 L1086.7,395.59 L1087.58,400.3 L1088.46,404.96 L1089.34,409.57 L1090.22,414.1 L1091.1,418.58 L1091.98,422.98 L1092.86,427.32 L1093.74,431.57 L1094.62,435.75 L1095.51,439.85 L1096.39,443.86 L1097.27,447.79 L1098.15,451.64 L1099.03,455.39 L1099.91,459.05 L1100.79,462.63 L1101.67,466.11 L1102.55,469.5 L1103.43,472.8 L1104.31,476 L1105.2,479.11 L1106.08,482.13 L1106.96,485.05 L1107.84,487.88 L1108.72,490.62 L1109.6,493.27 L1110.48,495.83 L1111.36,498.3 L1112.24,500.68 L1113.12,502.97 L1114.01,505.18 L1114.89,507.31 L1115.77,509.35 L1116.65,511.31 L1117.53,513.19 L1118.41,515 L1119.29,516.73 L1120.17,518.38 L1121.05,519.97 L1121.93,521.48 L1122.82,522.93 L1123.7,524.31 L1124.58,525.62 L1125.46,526.88 L1126.34,528.07 L1127.22,529.21 L1128.1,530.29 L1128.98,531.31 L1129.86,532.29 L1130.74,533.21 L1131.63,534.09 L1132.51,534.92 L1133.39,535.7 L1134.27,536.44 L1135.15,537.14 L1136.03,537.81 L1136.91,538.43 L1137.79,539.02 L1138.67,539.58 L1139.55,540.1 L1140.43,540.59 L1141.32,541.05 L1142.2,541.49 L1143.08,541.89 L1143.96,542.27 L1144.84,542.63 L1145.72,542.97 L1146.6,543.28 L1147.48,543.58 L1148.36,543.85 L1149.24,544.11 L1150.13,544.35 L1151.01,544.57 L1151.89,544.78 L1152.77,544.97 L1153.65,545.15 L1154.53,545.32 L1155.41,545.47 L1156.29,545.62 L1157.17,545.75 L1158.05,545.88 L1158.94,545.99 L1159.82,546.1 L1160.7,546.2 L1161.58,546.29 L1162.46,546.37 L1163.34,546.45 L1164.22,546.52 L1165.1,546.59 L1165.98,546.65 L1166.86,546.71 L1167.75,546.76 L1168.63,546.8 L1169.51,546.85 L1170.39,546.89 L1171.27,546.93 L1172.15,546.96 L1173.03,546.99 L1173.91,547.02 L1174.79,547.04 L1175.67,547.07 L1176.56,547.09 L1177.44,547.11 L1178.32,547.13 L1179.2,547.14 L1180.08,547.16 L1180.96,547.17 L1181.84,547.18 L1182.72,547.2 L1183.6,547.21 L1184.48,547.21 L1185.36,547.22 L1186.25,547.23 L1187.13,547.24 L1188.01,547.24 L1188.89,547.25 L1189.77,547.25 L1190.65,547.26 L1191.53,547.26 L1192.41,547.27 L1193.29,547.27 L1194.17,547.27 L1195.06,547.28 L1195.94,547.28 L1196.82,547.28 L1197.7,547.28 L1198.58,547.29 L1199.46,547.29 L1200.34,547.29 L1201.22,547.29 L1202.1,547.29 L1202.98,547.29 L1203.87,547.29 L1204.75,547.29 L1205.63,547.29 L1206.51,547.29 L1207.39,547.3 L1208.27,547.3 L1209.15,547.3 L1210.03,547.3 L1210.91,547.3 L1211.79,547.3 L1212.68,547.3 L1213.56,547.3 L1214.44,547.3 L1215.32,547.3 L1216.2,547.3 L1217.08,547.3 L1217.96,547.3 L1218.84,547.3 L1219.72,547.3 L1220.6,547.3 L1221.48,547.3 L1222.37,547.3 L1223.25,547.3 L1224.13,547.3 L1225.01,547.3 L1225.89,547.3 L1226.77,547.3 L1227.65,547.3 L1228.53,547.3 L1229.41,547.3 L1230.29,547.3 L1231.18,547.3 L1232.06,547.3 L1232.94,547.3 L1233.82,547.3 L1234.7,547.3 L1235.58,547.3 L1236.46,547.3 L1237.34,547.3 L1238.22,547.3 L1239.1,547.3 L1239.99,547.3 L1240.87,547.3 L1241.75,547.3 L1242.63,547.3 L1243.51,547.3 L1244.39,547.3 L1245.27,547.3 L1246.15,547.3 L1247.03,547.3 L1247.91,547.3 L1248.8,547.3 L1249.68,547.3 L1250.56,547.3 L1251.44,547.3 L1252.32,547.3 L1253.2,547.3 L1254.08,547.3 L1254.96,547.3 L1255.84,547.3 L1256.72,547.3 L1257.61,547.3 L1258.49,547.3 L1259.37,547.3 L1260.25,547.3 L1261.13,547.3 L1262.01,547.3 L1262.89,547.3 L1263.77,547.3 L1264.65,547.3 L1265.53,547.3 L1266.41,547.3 L1267.3,547.3 L1268.18,547.3 L1269.06,547.3 L1269.94,547.3 L1270.82,547.3 L1271.7,547.3 L1272.58,547.3 L1273.46,547.3 L1274.34,547.3 L1275.22,547.3 L1276.11,547.3 L1276.99,547.3 L1277.87,547.3 L1278.75,547.3 L1279.63,547.3 L1280.51,547.3 L1281.39,547.3 L1282.27,547.3 L1283.15,547.3 L1284.03,547.3 L1284.92,547.3 L1285.8,547.3 L1286.68,547.3 L1287.56,547.3 L1288.44,547.3 L1289.32,547.3 L1290.2,547.3 L1291.08,547.3 L1291.96,547.3 L1292.84,547.3 L1293.73,547.3 L1294.61,547.3 L1295.49,547.3 L1296.37,547.3 L1297.25,547.3 L1298.13,547.3 L1299.01,547.3 L1299.89,547.3 L1300.77,547.3 L1301.65,547.3 L1302.54,547.3 L1303.42,547.3 L1304.3,547.3 L1305.18,547.3 L1306.06,547.3 L1306.94,547.3 L1307.82,547.3 L1308.7,547.3 L1309.58,547.3 L1310.46,547.3 L1311.34,547.3 L1312.23,547.3 L1313.11,547.3 L1313.99,547.3 L1314.87,547.3 L1315.75,547.3 L1316.63,547.3 L1317.51,547.3 L1318.39,547.3 L1319.27,547.3 L1320.15,547.3 L1321.04,547.3 L1321.92,547.3 L1322.8,547.3 L1323.68,547.3 L1324.56,547.3 L1325.44,547.3 L1326.32,547.3 L1327.2,547.3 L1328.08,547.3 L1328.96,547.3 L1329.85,547.3 L1330.73,547.3 L1331.61,547.3 L1332.49,547.3 L1333.37,547.3 L1334.25,547.3 L1335.13,547.3 L1336.01,547.3 L1336.89,547.3 L1337.77,547.3 L1338.66,547.3 L1339.54,547.3 L1340.42,547.3 L1341.3,547.3 L1342.18,547.3 L1343.06,547.3 L1343.94,547.3 L1344.82,547.3 L1345.7,547.3 L1346.58,547.3 L1347.46,547.3 L1348.35,547.3 L1349.23,547.3 L1350.11,547.3 L1350.99,547.3 L1351.87,547.3 L1352.75,547.3 L1353.63,547.3 L1354.51,547.3 L1355.39,547.3 L1356.27,547.3 L1357.16,547.3 L1358.04,547.3 L1358.92,547.3 L1359.8,547.3 L1360.68,547.3 L1361.56,547.3 L1362.44,547.3 L1363.32,547.3 L1364.2,547.3 L1365.08,547.3 L1365.97,547.3 L1366.85,547.3 L1367.73,547.3 L1368.61,547.3 L1369.49,547.3 L1370.37,547.3 L1371.25,547.3 L1372.13,547.3 L1373.01,547.3 L1373.89,547.3 L1374.78,547.3 L1375.66,547.3 L1376.54,547.3 L1377.42,547.3 L1378.3,547.3 L1379.18,547.3 L1380.06,547.3 L1380.94,547.3 L1381.82,547.3 L1382.7,547.3 L1383.59,547.3 L1384.47,547.3 L1385.35,547.3 L1386.23,547.3 L1387.11,547.3 L1387.99,547.3 L1388.87,547.3 L1389.75,547.3 L1390.63,547.3 L1391.51,547.3 L1392.39,547.3 L1393.28,547.3 L1394.16,547.3 L1395.04,547.3 L1395.92,547.3 L1396.8,547.3 L1397.68,547.3 L1398.56,547.3 L1399.44,547.3 L1400.32,547.3 L1401.2,547.3 L1402.09,547.3 L1402.97,547.3 L1403.85,547.3 L1404.73,547.3 L1405.61,547.3 L1406.49,547.3 L1407.37,547.3 L1408.25,547.3 L1409.13,547.3 L1410.01,547.3 L1410.9,547.3 L1411.78,547.3 L1412.66,547.3 L1413.54,547.3 L1414.42,547.3 L1415.3,547.3 L1416.18,547.3 L1417.06,547.3 L1417.94,547.3 L1418.82,547.3 L1419.71,547.3 L1420.59,547.3 L1421.47,547.3 L1422.35,547.3 L1423.23,547.3 L1424.11,547.3 L1424.99,547.3 L1425.87,547.3 L1426.75,547.3 L1427.63,547.3 L1428.52,547.3 L1429.4,547.3 L1430.28,547.3 L1431.16,547.3 L1432.04,547.3 L1432.92,547.3 L1433.8,547.3 L1434.68,547.3 L1435.56,547.3 L1436.44,547.3 L1437.32,547.3 L1438.21,547.3 L1439.09,547.3 L1439.97,547.3 L1440.85,547.3 L1441.73,547.3 L1442.61,547.3 L1443.49,547.3 L1444.37,547.3 L1445.25,547.3 L1446.13,547.3 L1447.02,547.3 L1447.9,547.3 L1448.78,547.3 L1449.66,547.3 L1450.54,547.3 L1451.42,547.3 L1452.3,547.3 L1453.18,547.3 L1454.06,547.3 L1454.94,547.3 L1455.83,547.3 L1456.71,547.3 L1457.59,547.3 L1458.47,547.3 L1459.35,547.3 L1460.23,547.3 L1461.11,547.3 L1461.99,547.3 L1462.87,547.3 L1463.75,547.3 L1464.64,547.3 L1465.52,547.3 L1466.4,547.3 L1467.28,547.3 L1468.16,547.3 L1469.04,547.3 L1469.92,547.3 L1470.8,547.3 L1471.68,547.3 L1472.56,547.3 L1473.44,547.3 L1474.33,547.3 L1475.21,547.3 L1476.09,547.3 L1476.97,547.3 L1477.85,547.3 L1478.73,547.3 L1479.61,547.3 L1480.49,547.3 L1481.37,547.3 L1482.25,547.3 L1483.14,547.3 L1484.02,547.3 L1484.9,547.3 L1485.78,547.3 L1486.66,547.3 L1487.54,547.3 L1488.42,547.3 L1489.3,547.3 L1490.18,547.3 L1491.06,547.3 L1491.95,547.3 L1492.83,547.3 L1493.71,547.3 L1494.59,547.3 L1495.47,547.3 L1496.35,547.3 L1497.23,547.3 L1498.11,547.3 L1498.99,547.3 L1499.87,547.3 L1500.76,547.3 L1501.64,547.3 L1502.52,547.3 L1503.4,547.3 L1504.28,547.3 L1505.16,547.3 L1506.04,547.3 L1506.92,547.3 L1507.8,547.3 L1508.68,547.3 L1509.57,547.3 L1510.45,547.3 L1511.33,547.3 L1512.21,547.3 L1513.09,547.3 L1513.97,547.3 L1514.85,547.3 L1515.73,547.3 L1516.61,547.3 L1517.49,547.3 L1518.37,547.3 L1519.26,547.3 L1520.14,547.3 L1521.02,547.3 L1521.9,547.3 L1522.78,547.3 L1523.66,547.3 L1524.54,547.3 L1525.42,547.3 L1526.3,547.3 L1527.18,547.3 L1528.07,547.3 L1528.95,547.3 L1529.83,547.3 L1530.71,547.3 L1531.59,547.3 L1532.47,547.3 L1533.35,547.3 L1534.23,547.3 L1535.11,547.3 L1535.99,547.3 L1536.88,547.3 L1537.76,547.3 L1538.64,547.3 L1539.52,547.3 L1540.4,547.3 L1541.28,547.3 L1542.16,547.3 L1543.04,547.3 L1543.92,547.3 L1544.8,547.3 L1545.69,547.3 L1546.57,547.3 L1547.45,547.3 L1548.33,547.3 L1549.21,547.3 L1550.09,547.3 L1550.97,547.3 L1551.85,547.3 L1552.73,547.3 L1553.61,547.3 L1554.49,547.3 L1555.38,547.3 L1556.26,547.3 L1557.14,547.3 L1558.02,547.3 L1558.9,547.3 L1559.78,547.3 L1560.66,547.3 L1561.54,547.3 L1562.42,547.3 L1563.3,547.3 L1564.19,547.3 L1565.07,547.3 L1565.95,547.3 L1566.83,547.3 L1567.71,547.3 L1568.59,547.3 L1569.47,547.3 L1570.35,547.3 L1571.23,547.3 L1572.11,547.3 L1573,547.3 L1573.88,547.3 L1574.76,547.3 L1575.64,547.3 L1576.52,547.3 L1577.4,547.3 L1578.28,547.3 L1579.16,547.3 L1580.04,547.3 L1580.92,547.3 L1581.81,547.3 L1582.69,547.3 L1583.57,547.3 L1584.45,547.3 L1585.33,547.3 L1586.21,547.3 L1587.09,547.3 L1587.97,547.3 L1588.85,547.3 L1589.73,547.3 L1590.62,547.3 L1591.5,547.3 L1592.38,547.3 L1593.26,547.3 L1594.14,547.3 L1595.02,547.3 L1595.9,547.3 L1596.78,547.3 L1597.66,547.3 L1598.54,547.3 L1599.42,547.3 L1600.31,547.3 L1601.19,547.3 L1602.07,547.3 L1602.95,547.3 L1603.83,547.3 L1604.71,547.3 L1605.59,547.3 L1606.47,547.3 L1607.35,547.3 L1608.23,547.3 L1609.12,547.3 L1610,547.3 L1610.88,547.3 L1611.76,547.3 L1612.64,547.3 L1613.52,547.3 L1614.4,547.3 L1615.28,547.3 L1616.16,547.3 L1617.04,547.3 L1617.93,547.3 L1618.81,547.3 L1619.69,547.3 L1620.57,547.3 L1621.45,547.3 L1622.33,547.3 L1623.21,547.3 L1624.09,547.3 L1624.97,547.3 L1625.85,547.3 L1626.74,547.3 L1627.62,547.3 L1628.5,547.3 L1629.38,547.3 L1630.26,547.3 L1631.14,547.3 L1632.02,547.3 L1632.9,547.3 L1633.78,547.3 L1634.66,547.3 L1635.55,547.3 L1636.43,547.3 L1637.31,547.3 L1638.19,547.3 L1639.07,547.3 L1639.95,547.3 L1640.83,547.3 L1641.71,547.3 L1642.59,547.3 L1643.47,547.3 L1644.35,547.3 L1645.24,547.3 L1646.12,547.3 L1647,547.3 L1647.88,547.3 L1648.76,547.3 L1649.64,547.3 L1650.52,547.3 L1651.4,547.3 L1652.28,547.3 L1653.16,547.3 L1654.05,547.3 L1654.93,547.3 L1655.81,547.3 L1656.69,547.3 L1657.57,547.3 L1658.45,547.3 L1659.33,547.3 L1660.21,547.3 L1661.09,547.3 L1661.97,547.3 L1662.86,547.3 L1663.74,547.3 L1664.62,547.3 L1665.5,547.3 L1666.38,547.3 L1667.26,547.3 L1668.14,547.3 L1669.02,547.3 L1669.9,547.3 L1670.78,547.3 L1671.67,547.3 L1672.55,547.3 L1673.43,547.3 L1674.31,547.3 L1675.19,547.3 L1676.07,547.3 L1676.95,547.3 L1677.83,547.3 L1678.71,547.3 L1679.59,547.3 L1680.47,547.3 L1681.36,547.3 L1682.24,547.3 L1683.12,547.3 L1684,547.3 L1684.88,547.3 L1685.76,547.3 L1686.64,547.3 L1687.52,547.3 L1688.4,547.3 L1689.28,547.3 L1690.17,547.3 L1691.05,547.3 L1691.93,547.3 L1692.81,547.3 L1693.69,547.3 L1694.57,547.3 L1695.45,547.3 L1696.33,547.3 L1697.21,547.3 L1698.09,547.3 L1698.98,547.3 L1699.86,547.3 L1700.74,547.3 L1701.62,547.3 L1702.5,547.3 L1703.38,547.3 L1704.26,547.3 L1705.14,547.3 L1706.02,547.3 L1706.9,547.3 L1707.79,547.3 L1708.67,547.3 L1709.55,547.3 L1710.43,547.3 L1711.31,547.3 L1712.19,547.3 L1713.07,547.3 L1713.95,547.3 L1714.83,547.3 L1715.71,547.3 L1716.6,547.3 L1717.48,547.3 L1718.36,547.3 L1719.24,547.3 L1720.12,547.3 L1721,547.3" stroke="#dd0000" stroke-width="6.5"/>
<path d="M929,547.3 L929.88,547.3 L930.76,547.3 L931.64,547.3 L932.52,547.3 L933.4,547.3 L934.29,547.3 L935.17,547.3 L936.05,547.3 L936.93,547.3 L937.81,547.3 L938.69,547.3 L939.57,547.3 L940.45,547.3 L941.33,547.3 L942.21,547.3 L943.1,547.3 L943.98,547.3 L944.86,547.3 L945.74,547.3 L946.62,547.3 L947.5,547.3 L948.38,547.3 L949.26,547.3 L950.14,547.3 L951.02,547.3 L951.91,547.3 L952.79,547.3 L953.67,547.3 L954.55,547.3 L955.43,547.3 L956.31,547.3 L957.19,547.3 L958.07,547.3 L958.95,547.3 L959.83,547.3 L960.72,547.3 L961.6,547.3 L962.48,547.3 L963.36,547.3 L964.24,547.3 L965.12,547.3 L966,547.3 L966.88,547.3 L967.76,547.3 L968.64,547.3 L969.53,547.3 L970.41,547.3 L971.29,547.3 L972.17,547.3 L973.05,547.3 L973.93,547.3 L974.81,547.3 L975.69,547.3 L976.57,547.3 L977.45,547.3 L978.33,547.3 L979.22,547.3 L980.1,547.3 L980.98,547.3 L981.86,547.3 L982.74,547.3 L983.62,547.3 L984.5,547.3 L985.38,547.3 L986.26,547.3 L987.14,547.3 L988.03,547.3 L988.91,547.3 L989.79,547.3 L990.67,547.3 L991.55,547.3 L992.43,547.3 L993.31,547.3 L994.19,547.3 L995.07,547.3 L995.95,547.3 L996.84,547.3 L997.72,547.3 L998.6,547.3 L999.48,547.3 L1000.36,547.3 L1001.24,547.3 L1002.12,547.3 L1003,547.3 L1003.88,547.3 L1004.76,547.3 L1005.65,547.3 L1006.53,547.3 L1007.41,547.3 L1008.29,547.3 L1009.17,547.3 L1010.05,547.3 L1010.93,547.3 L1011.81,547.3 L1012.69,547.3 L1013.57,547.3 L1014.45,547.3 L1015.34,547.3 L1016.22,547.3 L1017.1,547.3 L1017.98,547.3 L1018.86,547.3 L1019.74,547.3 L1020.62,547.3 L1021.5,547.3 L1022.38,547.3 L1023.26,547.3 L1024.15,547.3 L1025.03,547.3 L1025.91,547.3 L1026.79,547.3 L1027.67,547.3 L1028.55,547.3 L1029.43,547.3 L1030.31,547.3 L1031.19,547.3 L1032.07,547.3 L1032.96,547.3 L1033.84,547.3 L1034.72,547.3 L1035.6,547.3 L1036.48,547.3 L1037.36,547.3 L1038.24,547.3 L1039.12,547.3 L1040,547.3 L1040.88,547.3 L1041.77,547.3 L1042.65,547.3 L1043.53,547.3 L1044.41,547.3 L1045.29,547.3 L1046.17,547.3 L1047.05,547.3 L1047.93,547.3 L1048.81,547.3 L1049.69,547.3 L1050.58,547.3 L1051.46,547.3 L1052.34,547.3 L1053.22,547.3 L1054.1,547.3 L1054.98,547.3 L1055.86,547.3 L1056.74,547.3 L1057.62,547.3 L1058.5,547.3 L1059.38,547.3 L1060.27,547.3 L1061.15,547.3 L1062.03,547.3 L1062.91,547.3 L1063.79,547.3 L1064.67,547.3 L1065.55,547.3 L1066.43,547.3 L1067.31,547.3 L1068.19,547.3 L1069.08,547.3 L1069.96,547.3 L1070.84,547.3 L1071.72,547.3 L1072.6,547.3 L1073.48,547.3 L1074.36,547.3 L1075.24,547.3 L1076.12,547.3 L1077,547.3 L1077.89,547.3 L1078.77,547.3 L1079.65,547.3 L1080.53,547.3 L1081.41,547.3 L1082.29,547.3 L1083.17,547.3 L1084.05,547.3 L1084.93,547.3 L1085.81,547.3 L1086.7,547.3 L1087.58,547.3 L1088.46,547.3 L1089.34,547.3 L1090.22,547.3 L1091.1,547.3 L1091.98,547.3 L1092.86,547.3 L1093.74,547.3 L1094.62,547.3 L1095.51,547.3 L1096.39,547.3 L1097.27,547.3 L1098.15,547.3 L1099.03,547.3 L1099.91,547.3 L1100.79,547.3 L1101.67,547.3 L1102.55,547.3 L1103.43,547.3 L1104.31,547.3 L1105.2,547.3 L1106.08,547.3 L1106.96,547.3 L1107.84,547.3 L1108.72,547.3 L1109.6,547.3 L1110.48,547.3 L1111.36,547.3 L1112.24,547.3 L1113.12,547.3 L1114.01,547.3 L1114.89,547.3 L1115.77,547.3 L1116.65,547.3 L1117.53,547.3 L1118.41,547.3 L1119.29,547.3 L1120.17,547.3 L1121.05,547.3 L1121.93,547.3 L1122.82,547.3 L1123.7,547.3 L1124.58,547.3 L1125.46,547.3 L1126.34,547.3 L1127.22,547.3 L1128.1,547.3 L1128.98,547.3 L1129.86,547.3 L1130.74,547.3 L1131.63,547.3 L1132.51,547.3 L1133.39,547.3 L1134.27,547.3 L1135.15,547.3 L1136.03,547.3 L1136.91,547.3 L1137.79,547.3 L1138.67,547.29 L1139.55,547.29 L1140.43,547.29 L1141.32,547.29 L1142.2,547.29 L1143.08,547.29 L1143.96,547.29 L1144.84,547.29 L1145.72,547.29 L1146.6,547.29 L1147.48,547.29 L1148.36,547.29 L1149.24,547.29 L1150.13,547.29 L1151.01,547.29 L1151.89,547.29 L1152.77,547.29 L1153.65,547.29 L1154.53,547.29 L1155.41,547.28 L1156.29,547.28 L1157.17,547.28 L1158.05,547.28 L1158.94,547.28 L1159.82,547.28 L1160.7,547.28 L1161.58,547.28 L1162.46,547.28 L1163.34,547.28 L1164.22,547.27 L1165.1,547.27 L1165.98,547.27 L1166.86,547.27 L1167.75,547.27 L1168.63,547.27 L1169.51,547.26 L1170.39,547.26 L1171.27,547.26 L1172.15,547.26 L1173.03,547.26 L1173.91,547.25 L1174.79,547.25 L1175.67,547.25 L1176.56,547.25 L1177.44,547.24 L1178.32,547.24 L1179.2,547.24 L1180.08,547.23 L1180.96,547.23 L1181.84,547.23 L1182.72,547.22 L1183.6,547.22 L1184.48,547.22 L1185.36,547.21 L1186.25,547.21 L1187.13,547.2 L1188.01,547.2 L1188.89,547.19 L1189.77,547.19 L1190.65,547.18 L1191.53,547.18 L1192.41,547.17 L1193.29,547.16 L1194.17,547.16 L1195.06,547.15 L1195.94,547.14 L1196.82,547.13 L1197.7,547.13 L1198.58,547.12 L1199.46,547.11 L1200.34,547.1 L1201.22,547.09 L1202.1,547.08 L1202.98,547.07 L1203.87,547.06 L1204.75,547.05 L1205.63,547.04 L1206.51,547.02 L1207.39,547.01 L1208.27,547 L1209.15,546.98 L1210.03,546.97 L1210.91,546.95 L1211.79,546.94 L1212.68,546.92 L1213.56,546.9 L1214.44,546.89 L1215.32,546.87 L1216.2,546.85 L1217.08,546.83 L1217.96,546.81 L1218.84,546.78 L1219.72,546.76 L1220.6,546.74 L1221.48,546.71 L1222.37,546.69 L1223.25,546.66 L1224.13,546.63 L1225.01,546.6 L1225.89,546.57 L1226.77,546.54 L1227.65,546.51 L1228.53,546.48 L1229.41,546.44 L1230.29,546.41 L1231.18,546.37 L1232.06,546.33 L1232.94,546.29 L1233.82,546.25 L1234.7,546.2 L1235.58,546.16 L1236.46,546.11 L1237.34,546.06 L1238.22,546.01 L1239.1,545.96 L1239.99,545.9 L1240.87,545.85 L1241.75,545.79 L1242.63,545.73 L1243.51,545.67 L1244.39,545.6 L1245.27,545.54 L1246.15,545.47 L1247.03,545.39 L1247.91,545.32 L1248.8,545.24 L1249.68,545.16 L1250.56,545.08 L1251.44,545 L1252.32,544.91 L1253.2,544.82 L1254.08,544.72 L1254.96,544.63 L1255.84,544.53 L1256.72,544.42 L1257.61,544.32 L1258.49,544.21 L1259.37,544.09 L1260.25,543.98 L1261.13,543.85 L1262.01,543.73 L1262.89,543.6 L1263.77,543.47 L1264.65,543.33 L1265.53,543.19 L1266.41,543.04 L1267.3,542.89 L1268.18,542.74 L1269.06,542.58 L1269.94,542.41 L1270.82,542.24 L1271.7,542.07 L1272.58,541.89 L1273.46,541.7 L1274.34,541.51 L1275.22,541.32 L1276.11,541.12 L1276.99,540.91 L1277.87,540.7 L1278.75,540.48 L1279.63,540.25 L1280.51,540.02 L1281.39,539.78 L1282.27,539.54 L1283.15,539.28 L1284.03,539.03 L1284.92,538.76 L1285.8,538.49 L1286.68,538.21 L1287.56,537.92 L1288.44,537.63 L1289.32,537.32 L1290.2,537.01 L1291.08,536.7 L1291.96,536.37 L1292.84,536.04 L1293.73,535.69 L1294.61,535.34 L1295.49,534.98 L1296.37,534.61 L1297.25,534.24 L1298.13,533.85 L1299.01,533.45 L1299.89,533.05 L1300.77,532.63 L1301.65,532.21 L1302.54,531.77 L1303.42,531.33 L1304.3,530.87 L1305.18,530.41 L1306.06,529.93 L1306.94,529.45 L1307.82,528.95 L1308.7,528.44 L1309.58,527.92 L1310.46,527.39 L1311.34,526.85 L1312.23,526.3 L1313.11,525.73 L1313.99,525.16 L1314.87,524.57 L1315.75,523.97 L1316.63,523.36 L1317.51,522.74 L1318.39,522.1 L1319.27,521.45 L1320.15,520.79 L1321.04,520.12 L1321.92,519.44 L1322.8,518.74 L1323.68,518.03 L1324.56,517.3 L1325.44,516.56 L1326.32,515.81 L1327.2,515.05 L1328.08,514.27 L1328.96,513.48 L1329.85,512.68 L1330.73,511.86 L1331.61,511.03 L1332.49,510.18 L1333.37,509.33 L1334.25,508.45 L1335.13,507.57 L1336.01,506.67 L1336.89,505.76 L1337.77,504.83 L1338.66,503.89 L1339.54,502.93 L1340.42,501.96 L1341.3,500.98 L1342.18,499.98 L1343.06,498.97 L1343.94,497.95 L1344.82,496.91 L1345.7,495.86 L1346.58,494.8 L1347.46,493.72 L1348.35,492.63 L1349.23,491.52 L1350.11,490.4 L1350.99,489.27 L1351.87,488.13 L1352.75,486.97 L1353.63,485.8 L1354.51,484.61 L1355.39,483.42 L1356.27,482.21 L1357.16,480.99 L1358.04,479.75 L1358.92,478.51 L1359.8,477.25 L1360.68,475.98 L1361.56,474.7 L1362.44,473.4 L1363.32,472.1 L1364.2,470.79 L1365.08,469.46 L1365.97,468.13 L1366.85,466.78 L1367.73,465.43 L1368.61,464.06 L1369.49,462.69 L1370.37,461.3 L1371.25,459.91 L1372.13,458.51 L1373.01,457.1 L1373.89,455.68 L1374.78,454.26 L1375.66,452.83 L1376.54,451.39 L1377.42,449.94 L1378.3,448.49 L1379.18,447.03 L1380.06,445.57 L1380.94,444.1 L1381.82,442.63 L1382.7,441.16 L1383.59,439.68 L1384.47,438.19 L1385.35,436.51 L1386.23,434.53 L1387.11,432.55 L1387.99,430.56 L1388.87,428.57 L1389.75,426.57 L1390.63,424.56 L1391.51,422.54 L1392.39,420.51 L1393.28,418.48 L1394.16,416.43 L1395.04,414.37 L1395.92,412.31 L1396.8,410.23 L1397.68,408.14 L1398.56,406.04 L1399.44,403.94 L1400.32,402.03 L1401.2,400.47 L1402.09,398.91 L1402.97,397.37 L1403.85,395.83 L1404.73,394.3 L1405.61,392.78 L1406.49,391.28 L1407.37,389.78 L1408.25,388.3 L1409.13,386.84 L1410.01,385.39 L1410.9,383.95 L1411.78,382.54 L1412.66,381.14 L1413.54,379.76 L1414.42,378.41 L1415.3,377.07 L1416.18,375.76 L1417.06,374.47 L1417.94,373.2 L1418.82,371.96 L1419.71,370.74 L1420.59,369.55 L1421.47,368.38 L1422.35,367.24 L1423.23,366.13 L1424.11,365.05 L1424.99,364 L1425.87,362.97 L1426.75,361.98 L1427.63,361.02 L1428.52,360.08 L1429.4,359.18 L1430.28,358.31 L1431.16,357.47 L1432.04,356.67 L1432.92,355.89 L1433.8,355.15 L1434.68,354.45 L1435.56,353.77 L1436.44,353.13 L1437.32,352.53 L1438.21,351.95 L1439.09,351.42 L1439.97,350.91 L1440.85,350.44 L1441.73,350.01 L1442.61,349.61 L1443.49,349.24 L1444.37,348.91 L1445.25,348.62 L1446.13,348.36 L1447.02,348.13 L1447.9,347.94 L1448.78,347.79 L1449.66,347.67 L1450.54,347.58 L1451.42,347.53 L1452.3,347.51 L1453.18,347.53 L1454.06,347.59 L1454.94,347.67 L1455.83,347.8" stroke="#0000ff" stroke-width="6.5"/>
<path d="M929,542.06 L929.88,541.85 L930.76,541.63 L931.64,541.4 L932.52,541.17 L933.4,540.93 L934.29,540.68 L935.17,540.42 L936.05,540.15 L936.93,539.87 L937.81,539.59 L938.69,539.3 L939.57,538.99 L940.45,538.68 L941.33,538.35 L942.21,538.02 L943.1,537.68 L943.98,537.32 L944.86,536.96 L945.74,536.58 L946.62,536.19 L947.5,535.79 L948.38,535.38 L949.26,534.96 L950.14,534.52 L951.02,534.07 L951.91,533.61 L952.79,533.13 L953.67,532.64 L954.55,532.14 L955.43,531.63 L956.31,531.1 L957.19,530.55 L958.07,529.99 L958.95,529.42 L959.83,528.83 L960.72,528.22 L961.6,527.6 L962.48,526.96 L963.36,526.31 L964.24,525.64 L965.12,524.95 L966,524.25 L966.88,523.53 L967.76,522.79 L968.64,522.04 L969.53,521.26 L970.41,520.47 L971.29,519.66 L972.17,518.83 L973.05,517.99 L973.93,517.12 L974.81,516.23 L975.69,515.33 L976.57,514.41 L977.45,513.46 L978.33,512.5 L979.22,511.52 L980.1,510.51 L980.98,509.49 L981.86,508.44 L982.74,507.38 L983.62,506.29 L984.5,505.19 L985.38,504.06 L986.26,502.91 L987.14,501.74 L988.03,500.55 L988.91,499.34 L989.79,498.11 L990.67,496.86 L991.55,495.58 L992.43,494.29 L993.31,492.97 L994.19,491.63 L995.07,490.27 L995.95,488.89 L996.84,487.49 L997.72,486.07 L998.6,484.63 L999.48,483.16 L1000.36,481.68 L1001.24,480.17 L1002.12,478.65 L1003,477.11 L1003.88,475.54 L1004.76,473.96 L1005.65,472.35 L1006.53,470.73 L1007.41,469.09 L1008.29,467.43 L1009.17,465.75 L1010.05,464.06 L1010.93,462.34 L1011.81,460.61 L1012.69,458.87 L1013.57,457.1 L1014.45,455.32 L1015.34,453.53 L1016.22,451.72 L1017.1,449.89 L1017.98,448.05 L1018.86,446.2 L1019.74,444.33 L1020.62,442.45 L1021.5,440.56 L1022.38,438.66 L1023.26,436.75 L1024.15,434.83 L1025.03,432.89 L1025.91,430.95 L1026.79,429 L1027.67,427.04 L1028.55,425.08 L1029.43,423.1 L1030.31,421.13 L1031.19,419.15 L1032.07,417.16 L1032.96,415.17 L1033.84,413.18 L1034.72,411.19 L1035.6,409.19 L1036.48,407.2 L1037.36,405.21 L1038.24,403.21 L1039.12,401.23 L1040,399.24 L1040.88,397.26 L1041.77,395.28 L1042.65,393.31 L1043.53,391.35 L1044.41,389.39 L1045.29,387.45 L1046.17,385.51 L1047.05,383.58 L1047.93,381.67 L1048.81,379.77 L1049.69,377.88 L1050.58,376 L1051.46,374.14 L1052.34,372.3 L1053.22,370.48 L1054.1,368.67 L1054.98,366.88 L1055.86,365.11 L1056.74,363.36 L1057.62,361.64 L1058.5,359.94 L1059.38,358.26 L1060.27,356.6 L1061.15,354.97 L1062.03,353.37 L1062.91,351.8 L1063.79,350.25 L1064.67,348.73 L1065.55,347.25 L1066.43,345.79 L1067.31,344.36 L1068.19,342.97 L1069.08,341.61 L1069.96,340.29 L1070.84,339 L1071.72,337.74 L1072.6,336.52 L1073.48,335.34 L1074.36,334.2 L1075.24,333.09 L1076.12,332.03 L1077,331 L1077.89,330.01 L1078.77,329.07 L1079.65,328.17 L1080.53,327.3 L1081.41,326.49 L1082.29,325.71 L1083.17,324.98 L1084.05,324.29 L1084.93,323.65 L1085.81,323.05 L1086.7,322.49 L1087.58,321.98 L1088.46,321.52 L1089.34,321.11 L1090.22,320.74 L1091.1,320.41 L1091.98,320.14 L1092.86,319.91 L1093.74,319.73 L1094.62,319.59 L1095.51,319.5 L1096.39,319.46 L1097.27,319.47 L1098.15,319.53 L1099.03,319.63 L1099.91,319.78 L1100.79,319.97 L1101.67,320.22 L1102.55,320.51 L1103.43,320.85 L1104.31,321.23 L1105.2,321.66 L1106.08,322.14 L1106.96,322.66 L1107.84,323.23 L1108.72,323.84 L1109.6,324.5 L1110.48,325.2 L1111.36,325.95 L1112.24,326.74 L1113.12,327.57 L1114.01,328.44 L1114.89,329.36 L1115.77,330.32 L1116.65,331.32 L1117.53,332.36 L1118.41,333.43 L1119.29,334.55 L1120.17,335.71 L1121.05,336.9 L1121.93,338.13 L1122.82,339.4 L1123.7,340.7 L1124.58,342.03 L1125.46,343.4 L1126.34,344.81 L1127.22,346.24 L1128.1,347.71 L1128.98,349.2 L1129.86,350.73 L1130.74,352.29 L1131.63,353.87 L1132.51,355.48 L1133.39,357.12 L1134.27,358.78 L1135.15,360.47 L1136.03,362.18 L1136.91,363.91 L1137.79,365.66 L1138.67,367.44 L1139.55,369.23 L1140.43,371.04 L1141.32,372.88 L1142.2,374.72 L1143.08,376.59 L1143.96,378.47 L1144.84,380.36 L1145.72,382.27 L1146.6,384.18 L1147.48,386.11 L1148.36,388.05 L1149.24,390 L1150.13,391.96 L1151.01,393.93 L1151.89,395.9 L1152.77,397.88 L1153.65,399.86 L1154.53,401.85 L1155.41,403.84 L1156.29,405.83 L1157.17,407.82 L1158.05,409.82 L1158.94,411.81 L1159.82,413.8 L1160.7,415.79 L1161.58,417.78 L1162.46,419.77 L1163.34,421.75 L1164.22,423.72 L1165.1,425.69 L1165.98,427.65 L1166.86,429.61 L1167.75,431.56 L1168.63,433.5 L1169.51,435.43 L1170.39,437.35 L1171.27,439.26 L1172.15,441.16 L1173.03,443.04 L1173.91,444.92 L1174.79,446.78 L1175.67,448.63 L1176.56,450.46 L1177.44,452.28 L1178.32,454.09 L1179.2,455.88 L1180.08,457.66 L1180.96,459.41 L1181.84,461.16 L1182.72,462.88 L1183.6,464.59 L1184.48,466.28 L1185.36,467.95 L1186.25,469.61 L1187.13,471.24 L1188.01,472.86 L1188.89,474.45 L1189.77,476.03 L1190.65,477.59 L1191.53,479.13 L1192.41,480.65 L1193.29,482.14 L1194.17,483.62 L1195.06,485.08 L1195.94,486.51 L1196.82,487.93 L1197.7,489.32 L1198.58,490.7 L1199.46,492.05 L1200.34,493.38 L1201.22,494.69 L1202.1,495.98 L1202.98,497.25 L1203.87,498.5 L1204.75,499.72 L1205.63,500.93 L1206.51,502.11 L1207.39,503.27 L1208.27,504.41 L1209.15,505.53 L1210.03,506.63 L1210.91,507.71 L1211.79,508.77 L1212.68,509.81 L1213.56,510.83 L1214.44,511.82 L1215.32,512.8 L1216.2,513.76 L1217.08,514.7 L1217.96,515.61 L1218.84,516.51 L1219.72,517.39 L1220.6,518.25 L1221.48,519.09 L1222.37,519.92 L1223.25,520.72 L1224.13,521.51 L1225.01,522.27 L1225.89,523.02 L1226.77,523.76 L1227.65,524.47 L1228.53,525.17 L1229.41,525.85 L1230.29,526.52 L1231.18,527.16 L1232.06,527.8 L1232.94,528.41 L1233.82,529.01 L1234.7,529.6 L1235.58,530.17 L1236.46,530.72 L1237.34,531.26 L1238.22,531.79 L1239.1,532.3 L1239.99,532.8 L1240.87,533.28 L1241.75,533.75 L1242.63,534.21 L1243.51,534.66 L1244.39,535.09 L1245.27,535.51 L1246.15,535.92 L1247.03,536.31 L1247.91,536.7 L1248.8,537.07 L1249.68,537.43 L1250.56,537.79 L1251.44,538.13 L1252.32,538.46 L1253.2,538.78 L1254.08,539.09 L1254.96,539.39 L1255.84,539.68 L1256.72,539.96 L1257.61,540.23 L1258.49,540.5 L1259.37,540.75 L1260.25,541 L1261.13,541.24 L1262.01,541.47 L1262.89,541.7 L1263.77,541.91 L1264.65,542.12 L1265.53,542.32 L1266.41,542.52 L1267.3,542.71 L1268.18,542.89 L1269.06,543.07 L1269.94,543.24 L1270.82,543.4 L1271.7,543.56 L1272.58,543.71 L1273.46,543.85 L1274.34,544 L1275.22,544.13 L1276.11,544.26 L1276.99,544.39 L1277.87,544.51 L1278.75,544.63 L1279.63,544.74 L1280.51,544.85 L1281.39,544.95 L1282.27,545.05 L1283.15,545.15 L1284.03,545.24 L1284.92,545.33 L1285.8,545.42 L1286.68,545.5 L1287.56,545.58 L1288.44,545.66 L1289.32,545.73 L1290.2,545.8 L1291.08,545.87 L1291.96,545.93 L1292.84,545.99 L1293.73,546.05 L1294.61,546.11 L1295.49,546.16 L1296.37,546.22 L1297.25,546.27 L1298.13,546.31 L1299.01,546.36 L1299.89,546.4 L1300.77,546.45 L1301.65,546.49 L1302.54,546.53 L1303.42,546.56 L1304.3,546.6 L1305.18,546.63 L1306.06,546.66 L1306.94,546.69 L1307.82,546.72 L1308.7,546.75 L1309.58,546.78 L1310.46,546.8 L1311.34,546.83 L1312.23,546.85 L1313.11,546.87 L1313.99,546.9 L1314.87,546.92 L1315.75,546.94 L1316.63,546.95 L1317.51,546.97 L1318.39,546.99 L1319.27,547 L1320.15,547.02 L1321.04,547.03 L1321.92,547.05 L1322.8,547.06 L1323.68,547.07 L1324.56,547.08 L1325.44,547.1 L1326.32,547.11 L1327.2,547.12 L1328.08,547.13 L1328.96,547.14 L1329.85,547.14 L1330.73,547.15 L1331.61,547.16 L1332.49,547.17 L1333.37,547.18 L1334.25,547.18 L1335.13,547.19 L1336.01,547.2 L1336.89,547.2 L1337.77,547.21 L1338.66,547.21 L1339.54,547.22 L1340.42,547.22 L1341.3,547.23 L1342.18,547.23 L1343.06,547.23 L1343.94,547.24 L1344.82,547.24 L1345.7,547.24 L1346.58,547.25 L1347.46,547.25 L1348.35,547.25 L1349.23,547.26 L1350.11,547.26 L1350.99,547.26 L1351.87,547.26 L1352.75,547.27 L1353.63,547.27 L1354.51,547.27 L1355.39,547.27 L1356.27,547.27 L1357.16,547.27 L1358.04,547.28 L1358.92,547.28 L1359.8,547.28 L1360.68,547.28 L1361.56,547.28 L1362.44,547.28 L1363.32,547.28 L1364.2,547.28 L1365.08,547.29 L1365.97,547.29 L1366.85,547.29 L1367.73,547.29 L1368.61,547.29 L1369.49,547.29 L1370.37,547.29 L1371.25,547.29 L1372.13,547.29 L1373.01,547.29 L1373.89,547.29 L1374.78,547.29 L1375.66,547.29 L1376.54,547.29 L1377.42,547.29 L1378.3,547.29 L1379.18,547.29 L1380.06,547.3 L1380.94,547.3 L1381.82,547.3 L1382.7,547.3 L1383.59,547.3 L1384.47,547.3 L1385.35,547.3 L1386.23,547.3 L1387.11,547.3 L1387.99,547.3 L1388.87,547.3 L1389.75,547.3 L1390.63,547.3 L1391.51,547.3 L1392.39,547.3 L1393.28,547.3 L1394.16,547.3 L1395.04,547.3 L1395.92,547.3 L1396.8,547.3 L1397.68,547.3 L1398.56,547.3 L1399.44,547.3 L1400.32,547.3 L1401.2,547.3 L1402.09,547.3 L1402.97,547.3 L1403.85,547.3 L1404.73,547.3 L1405.61,547.3 L1406.49,547.3 L1407.37,547.3 L1408.25,547.3 L1409.13,547.3 L1410.01,547.3 L1410.9,547.3 L1411.78,547.3 L1412.66,547.3 L1413.54,547.3 L1414.42,547.3 L1415.3,547.3 L1416.18,547.3 L1417.06,547.3 L1417.94,547.3 L1418.82,547.3 L1419.71,547.3 L1420.59,547.3 L1421.47,547.3 L1422.35,547.3 L1423.23,547.3 L1424.11,547.3 L1424.99,547.3 L1425.87,547.3 L1426.75,547.3 L1427.63,547.3 L1428.52,547.3 L1429.4,547.3 L1430.28,547.3 L1431.16,547.3 L1432.04,547.3 L1432.92,547.3 L1433.8,547.3 L1434.68,547.3 L1435.56,547.3 L1436.44,547.3 L1437.32,547.3 L1438.21,547.3 L1439.09,547.3 L1439.97,547.3 L1440.85,547.3 L1441.73,547.3 L1442.61,547.3 L1443.49,547.3 L1444.37,547.3 L1445.25,547.3 L1446.13,547.3 L1447.02,547.3 L1447.9,547.3 L1448.78,547.3 L1449.66,547.3 L1450.54,547.3 L1451.42,547.3 L1452.3,547.3 L1453.18,547.3 L1454.06,547.3 L1454.94,547.3 L1455.83,547.3 L1456.71,547.3 L1457.59,547.3 L1458.47,547.3 L1459.35,547.3 L1460.23,547.3 L1461.11,547.3 L1461.99,547.3 L1462.87,547.3 L1463.75,547.3 L1464.64,547.3 L1465.52,547.3 L1466.4,547.3 L1467.28,547.3 L1468.16,547.3 L1469.04,547.3 L1469.92,547.3 L1470.8,547.3 L1471.68,547.3 L1472.56,547.3 L1473.44,547.3 L1474.33,547.3 L1475.21,547.3 L1476.09,547.3 L1476.97,547.3 L1477.85,547.3 L1478.73,547.3 L1479.61,547.3 L1480.49,547.3 L1481.37,547.3 L1482.25,547.3 L1483.14,547.3 L1484.02,547.3 L1484.9,547.3 L1485.78,547.3 L1486.66,547.3 L1487.54,547.3 L1488.42,547.3 L1489.3,547.3 L1490.18,547.3 L1491.06,547.3 L1491.95,547.3 L1492.83,547.3 L1493.71,547.3 L1494.59,547.3 L1495.47,547.3 L1496.35,547.3 L1497.23,547.3 L1498.11,547.3 L1498.99,547.3 L1499.87,547.3 L1500.76,547.3 L1501.64,547.3 L1502.52,547.3 L1503.4,547.3 L1504.28,547.3 L1505.16,547.3 L1506.04,547.3 L1506.92,547.3 L1507.8,547.3 L1508.68,547.3 L1509.57,547.3 L1510.45,547.3 L1511.33,547.3 L1512.21,547.3 L1513.09,547.3 L1513.97,547.3 L1514.85,547.3 L1515.73,547.3 L1516.61,547.3 L1517.49,547.3 L1518.37,547.3 L1519.26,547.3 L1520.14,547.3 L1521.02,547.3 L1521.9,547.3 L1522.78,547.3 L1523.66,547.3 L1524.54,547.3 L1525.42,547.3 L1526.3,547.3 L1527.18,547.3 L1528.07,547.3 L1528.95,547.3 L1529.83,547.3 L1530.71,547.3 L1531.59,547.3 L1532.47,547.3 L1533.35,547.3 L1534.23,547.3 L1535.11,547.3 L1535.99,547.3 L1536.88,547.3 L1537.76,547.3 L1538.64,547.3 L1539.52,547.3 L1540.4,547.3 L1541.28,547.3 L1542.16,547.3 L1543.04,547.3 L1543.92,547.3 L1544.8,547.3 L1545.69,547.3 L1546.57,547.3 L1547.45,547.3 L1548.33,547.3 L1549.21,547.3 L1550.09,547.3 L1550.97,547.3 L1551.85,547.3 L1552.73,547.3 L1553.61,547.3 L1554.49,547.3 L1555.38,547.3 L1556.26,547.3 L1557.14,547.3 L1558.02,547.3 L1558.9,547.3 L1559.78,547.3 L1560.66,547.3 L1561.54,547.3 L1562.42,547.3 L1563.3,547.3 L1564.19,547.3 L1565.07,547.3 L1565.95,547.3 L1566.83,547.3 L1567.71,547.3 L1568.59,547.3 L1569.47,547.3 L1570.35,547.3 L1571.23,547.3 L1572.11,547.3 L1573,547.3 L1573.88,547.3 L1574.76,547.3 L1575.64,547.3 L1576.52,547.3 L1577.4,547.3 L1578.28,547.3 L1579.16,547.3 L1580.04,547.3 L1580.92,547.3 L1581.81,547.3 L1582.69,547.3 L1583.57,547.3 L1584.45,547.3 L1585.33,547.3 L1586.21,547.3 L1587.09,547.3 L1587.97,547.3 L1588.85,547.3 L1589.73,547.3 L1590.62,547.3 L1591.5,547.3 L1592.38,547.3 L1593.26,547.3 L1594.14,547.3 L1595.02,547.3 L1595.9,547.3 L1596.78,547.3 L1597.66,547.3 L1598.54,547.3 L1599.42,547.3 L1600.31,547.3 L1601.19,547.3 L1602.07,547.3 L1602.95,547.3 L1603.83,547.3 L1604.71,547.3 L1605.59,547.3 L1606.47,547.3 L1607.35,547.3 L1608.23,547.3 L1609.12,547.3 L1610,547.3 L1610.88,547.3 L1611.76,547.3 L1612.64,547.3 L1613.52,547.3 L1614.4,547.3 L1615.28,547.3 L1616.16,547.3 L1617.04,547.3 L1617.93,547.3 L1618.81,547.3 L1619.69,547.3 L1620.57,547.3 L1621.45,547.3 L1622.33,547.3 L1623.21,547.3 L1624.09,547.3 L1624.97,547.3 L1625.85,547.3 L1626.74,547.3 L1627.62,547.3 L1628.5,547.3 L1629.38,547.3 L1630.26,547.3 L1631.14,547.3 L1632.02,547.3 L1632.9,547.3 L1633.78,547.3 L1634.66,547.3 L1635.55,547.3 L1636.43,547.3 L1637.31,547.3 L1638.19,547.3 L1639.07,547.3 L1639.95,547.3 L1640.83,547.3 L1641.71,547.3 L1642.59,547.3 L1643.47,547.3 L1644.35,547.3 L1645.24,547.3 L1646.12,547.3 L1647,547.3 L1647.88,547.3 L1648.76,547.3 L1649.64,547.3 L1650.52,547.3 L1651.4,547.3 L1652.28,547.3 L1653.16,547.3 L1654.05,547.3 L1654.93,547.3 L1655.81,547.3 L1656.69,547.3 L1657.57,547.3 L1658.45,547.3 L1659.33,547.3 L1660.21,547.3 L1661.09,547.3 L1661.97,547.3 L1662.86,547.3 L1663.74,547.3 L1664.62,547.3 L1665.5,547.3 L1666.38,547.3 L1667.26,547.3 L1668.14,547.3 L1669.02,547.3 L1669.9,547.3 L1670.78,547.3 L1671.67,547.3 L1672.55,547.3 L1673.43,547.3 L1674.31,547.3 L1675.19,547.3 L1676.07,547.3 L1676.95,547.3 L1677.83,547.3 L1678.71,547.3 L1679.59,547.3 L1680.47,547.3 L1681.36,547.3 L1682.24,547.3 L1683.12,547.3 L1684,547.3 L1684.88,547.3 L1685.76,547.3 L1686.64,547.3 L1687.52,547.3 L1688.4,547.3 L1689.28,547.3 L1690.17,547.3 L1691.05,547.3 L1691.93,547.3 L1692.81,547.3 L1693.69,547.3 L1694.57,547.3 L1695.45,547.3 L1696.33,547.3 L1697.21,547.3 L1698.09,547.3 L1698.98,547.3 L1699.86,547.3 L1700.74,547.3 L1701.62,547.3 L1702.5,547.3 L1703.38,547.3 L1704.26,547.3 L1705.14,547.3 L1706.02,547.3 L1706.9,547.3 L1707.79,547.3 L1708.67,547.3 L1709.55,547.3 L1710.43,547.3 L1711.31,547.3 L1712.19,547.3 L1713.07,547.3 L1713.95,547.3 L1714.83,547.3 L1715.71,547.3 L1716.6,547.3 L1717.48,547.3 L1718.36,547.3 L1719.24,547.3 L1720.12,547.3 L1721,547.3" stroke="#000" stroke-width="6.5"/>
</g>
<g fill="#000" clip-path="url(#clipb)"><circle cx="935.33" cy="554.74" r="3.4"/><circle cx="947.58" cy="545.27" r="3.4"/><circle cx="957.08" cy="532.9" r="3.4"/><circle cx="964.31" cy="518.9" r="3.4"/><circle cx="970.01" cy="504.12" r="3.4"/><circle cx="974.72" cy="488.93" r="3.4"/><circle cx="978.75" cy="473.51" r="3.4"/><circle cx="982.29" cy="457.96" r="3.4"/><circle cx="985.48" cy="442.31" r="3.4"/><circle cx="988.39" cy="426.6" r="3.4"/><circle cx="991.09" cy="410.85" r="3.4"/><circle cx="993.63" cy="395.07" r="3.4"/><circle cx="996.03" cy="379.26" r="3.4"/><circle cx="998.33" cy="363.44" r="3.4"/><circle cx="1000.54" cy="347.61" r="3.4"/><circle cx="1002.69" cy="331.76" r="3.4"/><circle cx="1004.78" cy="315.9" r="3.4"/><circle cx="1006.84" cy="300.03" r="3.4"/><circle cx="1008.87" cy="284.17" r="3.4"/><circle cx="1010.89" cy="268.29" r="3.4"/><circle cx="1012.9" cy="252.42" r="3.4"/><circle cx="1014.93" cy="236.55" r="3.4"/><circle cx="1016.98" cy="220.68" r="3.4"/><circle cx="1019.08" cy="204.81" r="3.4"/><circle cx="1021.23" cy="188.95" r="3.4"/><circle cx="1023.47" cy="173.09" r="3.4"/><circle cx="1025.83" cy="157.26" r="3.4"/><circle cx="1028.36" cy="141.44" r="3.4"/><circle cx="1031.14" cy="125.65" r="3.4"/><circle cx="1034.31" cy="109.91" r="3.4"/><circle cx="1038.19" cy="94.29" r="3.4"/><circle cx="1043.98" cy="78.95" r="3.4"/><circle cx="1055.43" cy="79.7" r="3.4"/><circle cx="1061.73" cy="93.71" r="3.4"/><circle cx="1066.37" cy="108.88" r="3.4"/><circle cx="1070.37" cy="124.32" r="3.4"/><circle cx="1074.06" cy="139.85" r="3.4"/><circle cx="1081.4" cy="154.59" r="3.4"/><circle cx="1084.88" cy="170.21" r="3.4"/><circle cx="1088.36" cy="185.82" r="3.4"/><circle cx="1091.89" cy="201.42" r="3.4"/><circle cx="1095.52" cy="216.99" r="3.4"/><circle cx="1099.3" cy="232.52" r="3.4"/><circle cx="1103.26" cy="248" r="3.4"/><circle cx="1107.43" cy="263.42" r="3.4"/><circle cx="1111.85" cy="278.77" r="3.4"/><circle cx="1116.5" cy="294.05" r="3.4"/><circle cx="1121.4" cy="309.25" r="3.4"/><circle cx="1126.51" cy="324.39" r="3.4"/><circle cx="1131.81" cy="339.47" r="3.4"/><circle cx="1137.26" cy="354.49" r="3.4"/><circle cx="1143.7" cy="369.14" r="3.4"/><circle cx="1149.46" cy="384.03" r="3.4"/><circle cx="1155.44" cy="398.82" r="3.4"/><circle cx="1161.72" cy="413.46" r="3.4"/><circle cx="1168.47" cy="427.85" r="3.4"/><circle cx="1175.92" cy="441.82" r="3.4"/><circle cx="1184.49" cy="454.97" r="3.4"/><circle cx="1194.9" cy="466.28" r="3.4"/><circle cx="1207.87" cy="472.96" r="3.4"/><circle cx="1222.3" cy="471.83" r="3.4"/><circle cx="1236.26" cy="465.31" r="3.4"/><circle cx="1250.13" cy="457.23" r="3.4"/><circle cx="1265.07" cy="450.42" r="3.4"/><circle cx="1281.63" cy="447.56" r="3.4"/><circle cx="1298.12" cy="450.56" r="3.4"/><circle cx="1313.09" cy="457.01" r="3.4"/><circle cx="1327.42" cy="463.52" r="3.4"/><circle cx="1342.03" cy="466.26" r="3.4"/><circle cx="1355.63" cy="461.46" r="3.4"/><circle cx="1366.8" cy="451.15" r="3.4"/><circle cx="1376.17" cy="438.58" r="3.4"/><circle cx="1384.53" cy="425.1" r="3.4"/><circle cx="1392.44" cy="411.26" r="3.4"/><circle cx="1400.3" cy="397.3" r="3.4"/><circle cx="1408.47" cy="383.44" r="3.4"/><circle cx="1417.43" cy="369.95" r="3.4"/><circle cx="1428" cy="357.4" r="3.4"/><circle cx="1441.79" cy="347.63" r="3.4"/><circle cx="1459.08" cy="346.34" r="3.4"/><circle cx="1470.83" cy="358.36" r="3.4"/><circle cx="1481.52" cy="369.63" r="3.4"/><circle cx="1490.72" cy="382.47" r="3.4"/><circle cx="1499.01" cy="396.01" r="3.4"/><circle cx="1506.77" cy="409.93" r="3.4"/><circle cx="1514.25" cy="424.04" r="3.4"/><circle cx="1521.64" cy="438.23" r="3.4"/><circle cx="1529.09" cy="452.41" r="3.4"/><circle cx="1536.78" cy="466.5" r="3.4"/><circle cx="1548.98" cy="477.88" r="3.4"/><circle cx="1556" cy="488.5" r="3.4"/><circle cx="1566" cy="498.5" r="3.4"/><circle cx="1576" cy="508.5" r="3.4"/><circle cx="1588.5" cy="516" r="3.4"/><circle cx="1601" cy="523.5" r="3.4"/><circle cx="1615" cy="529.75" r="3.4"/><circle cx="1633.5" cy="531" r="3.4"/><circle cx="1646" cy="533.5" r="3.4"/><circle cx="1658.5" cy="526" r="3.4"/><circle cx="1675" cy="527.25" r="3.4"/><circle cx="1688.5" cy="527.25" r="3.4"/><circle cx="1701" cy="529.75" r="3.4"/><circle cx="1712.25" cy="531" r="3.4"/></g>
<g clip-path="url(#clipb)"><path d="M929,559.73 L929.88,559.35 L930.76,558.96 L931.64,558.56 L932.52,558.14 L933.4,557.7 L934.29,557.25 L935.17,556.78 L936.05,556.29 L936.93,555.78 L937.81,555.25 L938.69,554.69 L939.57,554.12 L940.45,553.52 L941.33,552.9 L942.21,552.25 L943.1,551.58 L943.98,550.87 L944.86,550.14 L945.74,549.37 L946.62,548.58 L947.5,547.75 L948.38,546.88 L949.26,545.98 L950.14,545.04 L951.02,544.05 L951.91,543.03 L952.79,541.96 L953.67,540.85 L954.55,539.69 L955.43,538.48 L956.31,537.21 L957.19,535.9 L958.07,534.53 L958.95,533.1 L959.83,531.61 L960.72,530.05 L961.6,528.43 L962.48,526.75 L963.36,524.99 L964.24,523.17 L965.12,521.27 L966,519.29 L966.88,517.23 L967.76,515.09 L968.64,512.86 L969.53,510.55 L970.41,508.15 L971.29,505.66 L972.17,503.07 L973.05,500.39 L973.93,497.61 L974.81,494.72 L975.69,491.73 L976.57,488.64 L977.45,485.44 L978.33,482.13 L979.22,478.71 L980.1,475.17 L980.98,471.52 L981.86,467.75 L982.74,463.87 L983.62,459.86 L984.5,455.74 L985.38,451.49 L986.26,447.13 L987.14,442.64 L988.03,438.03 L988.91,433.3 L989.79,428.45 L990.67,423.48 L991.55,418.38 L992.43,413.17 L993.31,407.84 L994.19,402.4 L995.07,396.84 L995.95,391.16 L996.84,385.38 L997.72,379.5 L998.6,373.51 L999.48,367.42 L1000.36,361.24 L1001.24,354.96 L1002.12,348.6 L1003,342.15 L1003.88,335.63 L1004.76,329.04 L1005.65,322.38 L1006.53,315.67 L1007.41,308.9 L1008.29,302.08 L1009.17,295.23 L1010.05,288.34 L1010.93,281.42 L1011.81,274.49 L1012.69,267.55 L1013.57,260.61 L1014.45,253.68 L1015.34,246.76 L1016.22,239.87 L1017.1,233.01 L1017.98,226.19 L1018.86,219.42 L1019.74,212.71 L1020.62,206.07 L1021.5,199.51 L1022.38,193.03 L1023.26,186.65 L1024.15,180.38 L1025.03,174.21 L1025.91,168.17 L1026.79,162.26 L1027.67,156.48 L1028.55,150.85 L1029.43,145.38 L1030.31,140.06 L1031.19,134.92 L1032.07,129.95 L1032.96,125.16 L1033.84,120.57 L1034.72,116.16 L1035.6,111.96 L1036.48,107.96 L1037.36,104.17 L1038.24,100.6 L1039.12,97.24 L1040,94.11 L1040.88,91.2 L1041.77,88.52 L1042.65,86.07 L1043.53,83.84 L1044.41,81.85 L1045.29,80.09 L1046.17,78.57 L1047.05,77.27 L1047.93,76.21 L1048.81,75.37 L1049.69,74.76 L1050.58,74.38 L1051.46,74.22 L1052.34,74.28 L1053.22,74.55 L1054.1,75.04 L1054.98,75.74 L1055.86,76.63 L1056.74,77.73 L1057.62,79.02 L1058.5,80.49 L1059.38,82.15 L1060.27,83.98 L1061.15,85.98 L1062.03,88.14 L1062.91,90.46 L1063.79,92.93 L1064.67,95.53 L1065.55,98.27 L1066.43,101.14 L1067.31,104.13 L1068.19,107.23 L1069.08,110.43 L1069.96,113.74 L1070.84,117.13 L1071.72,120.61 L1072.6,124.16 L1073.48,127.78 L1074.36,131.47 L1075.24,135.21 L1076.12,139 L1077,142.83 L1077.89,146.7 L1078.77,150.6 L1079.65,154.52 L1080.53,158.46 L1081.41,162.42 L1082.29,166.39 L1083.17,170.35 L1084.05,174.32 L1084.93,178.29 L1085.81,182.24 L1086.7,186.18 L1087.58,190.1 L1088.46,194.01 L1089.34,197.89 L1090.22,201.74 L1091.1,205.57 L1091.98,209.36 L1092.86,213.12 L1093.74,216.85 L1094.62,220.54 L1095.51,224.2 L1096.39,227.81 L1097.27,231.39 L1098.15,234.92 L1099.03,238.41 L1099.91,241.87 L1100.79,245.28 L1101.67,248.65 L1102.55,251.98 L1103.43,255.26 L1104.31,258.51 L1105.2,261.72 L1106.08,264.88 L1106.96,268.01 L1107.84,271.1 L1108.72,274.15 L1109.6,277.17 L1110.48,280.15 L1111.36,283.1 L1112.24,286.01 L1113.12,288.9 L1114.01,291.75 L1114.89,294.57 L1115.77,297.36 L1116.65,300.13 L1117.53,302.87 L1118.41,305.59 L1119.29,308.28 L1120.17,310.95 L1121.05,313.6 L1121.93,316.22 L1122.82,318.83 L1123.7,321.42 L1124.58,323.99 L1125.46,326.54 L1126.34,329.08 L1127.22,331.6 L1128.1,334.11 L1128.98,336.6 L1129.86,339.08 L1130.74,341.54 L1131.63,344 L1132.51,346.44 L1133.39,348.87 L1134.27,351.28 L1135.15,353.69 L1136.03,356.08 L1136.91,358.46 L1137.79,360.83 L1138.67,363.19 L1139.55,365.54 L1140.43,367.88 L1141.32,370.2 L1142.2,372.51 L1143.08,374.81 L1143.96,377.1 L1144.84,379.37 L1145.72,381.63 L1146.6,383.88 L1147.48,386.11 L1148.36,388.33 L1149.24,390.53 L1150.13,392.72 L1151.01,394.89 L1151.89,397.05 L1152.77,399.18 L1153.65,401.3 L1154.53,403.4 L1155.41,405.48 L1156.29,407.54 L1157.17,409.58 L1158.05,411.6 L1158.94,413.59 L1159.82,415.57 L1160.7,417.52 L1161.58,419.44 L1162.46,421.34 L1163.34,423.22 L1164.22,425.07 L1165.1,426.89 L1165.98,428.69 L1166.86,430.46 L1167.75,432.2 L1168.63,433.91 L1169.51,435.59 L1170.39,437.24 L1171.27,438.86 L1172.15,440.45 L1173.03,442.01 L1173.91,443.54 L1174.79,445.03 L1175.67,446.49 L1176.56,447.92 L1177.44,449.31 L1178.32,450.67 L1179.2,452 L1180.08,453.29 L1180.96,454.54 L1181.84,455.76 L1182.72,456.95 L1183.6,458.1 L1184.48,459.21 L1185.36,460.29 L1186.25,461.33 L1187.13,462.33 L1188.01,463.3 L1188.89,464.23 L1189.77,465.12 L1190.65,465.98 L1191.53,466.8 L1192.41,467.59 L1193.29,468.33 L1194.17,469.05 L1195.06,469.72 L1195.94,470.36 L1196.82,470.97 L1197.7,471.53 L1198.58,472.07 L1199.46,472.57 L1200.34,473.03 L1201.22,473.46 L1202.1,473.85 L1202.98,474.21 L1203.87,474.54 L1204.75,474.83 L1205.63,475.09 L1206.51,475.32 L1207.39,475.52 L1208.27,475.69 L1209.15,475.82 L1210.03,475.93 L1210.91,476 L1211.79,476.05 L1212.68,476.06 L1213.56,476.05 L1214.44,476.01 L1215.32,475.95 L1216.2,475.86 L1217.08,475.74 L1217.96,475.6 L1218.84,475.43 L1219.72,475.24 L1220.6,475.03 L1221.48,474.79 L1222.37,474.54 L1223.25,474.26 L1224.13,473.96 L1225.01,473.65 L1225.89,473.32 L1226.77,472.96 L1227.65,472.6 L1228.53,472.21 L1229.41,471.82 L1230.29,471.4 L1231.18,470.98 L1232.06,470.54 L1232.94,470.09 L1233.82,469.63 L1234.7,469.16 L1235.58,468.68 L1236.46,468.19 L1237.34,467.69 L1238.22,467.19 L1239.1,466.68 L1239.99,466.17 L1240.87,465.65 L1241.75,465.13 L1242.63,464.61 L1243.51,464.08 L1244.39,463.56 L1245.27,463.03 L1246.15,462.51 L1247.03,461.99 L1247.91,461.47 L1248.8,460.96 L1249.68,460.45 L1250.56,459.96 L1251.44,459.48 L1252.32,459.01 L1253.2,458.54 L1254.08,458.08 L1254.96,457.63 L1255.84,457.18 L1256.72,456.75 L1257.61,456.32 L1258.49,455.91 L1259.37,455.5 L1260.25,455.11 L1261.13,454.72 L1262.01,454.35 L1262.89,454 L1263.77,453.65 L1264.65,453.32 L1265.53,453.01 L1266.41,452.71 L1267.3,452.42 L1268.18,452.15 L1269.06,451.9 L1269.94,451.66 L1270.82,451.44 L1271.7,451.23 L1272.58,451.05 L1273.46,450.88 L1274.34,450.72 L1275.22,450.59 L1276.11,450.47 L1276.99,450.38 L1277.87,450.29 L1278.75,450.23 L1279.63,450.19 L1280.51,450.16 L1281.39,450.16 L1282.27,450.17 L1283.15,450.2 L1284.03,450.25 L1284.92,450.31 L1285.8,450.39 L1286.68,450.5 L1287.56,450.62 L1288.44,450.75 L1289.32,450.91 L1290.2,451.08 L1291.08,451.26 L1291.96,451.47 L1292.84,451.69 L1293.73,451.92 L1294.61,452.17 L1295.49,452.43 L1296.37,452.71 L1297.25,453 L1298.13,453.31 L1299.01,453.63 L1299.89,453.96 L1300.77,454.3 L1301.65,454.65 L1302.54,455.01 L1303.42,455.39 L1304.3,455.77 L1305.18,456.16 L1306.06,456.55 L1306.94,456.96 L1307.82,457.37 L1308.7,457.78 L1309.58,458.2 L1310.46,458.62 L1311.34,459.05 L1312.23,459.48 L1313.11,459.91 L1313.99,460.34 L1314.87,460.77 L1315.75,461.2 L1316.63,461.62 L1317.51,462.04 L1318.39,462.46 L1319.27,462.87 L1320.15,463.28 L1321.04,463.68 L1321.92,464.08 L1322.8,464.46 L1323.68,464.83 L1324.56,465.2 L1325.44,465.55 L1326.32,465.89 L1327.2,466.22 L1328.08,466.53 L1328.96,466.82 L1329.85,467.11 L1330.73,467.37 L1331.61,467.61 L1332.49,467.84 L1333.37,468.05 L1334.25,468.24 L1335.13,468.4 L1336.01,468.54 L1336.89,468.66 L1337.77,468.76 L1338.66,468.83 L1339.54,468.88 L1340.42,468.9 L1341.3,468.89 L1342.18,468.86 L1343.06,468.8 L1343.94,468.7 L1344.82,468.58 L1345.7,468.44 L1346.58,468.25 L1347.46,468.04 L1348.35,467.8 L1349.23,467.53 L1350.11,467.22 L1350.99,466.88 L1351.87,466.51 L1352.75,466.1 L1353.63,465.67 L1354.51,465.19 L1355.39,464.69 L1356.27,464.15 L1357.16,463.57 L1358.04,462.97 L1358.92,462.32 L1359.8,461.65 L1360.68,460.94 L1361.56,460.19 L1362.44,459.41 L1363.32,458.6 L1364.2,457.76 L1365.08,456.88 L1365.97,455.97 L1366.85,455.03 L1367.73,454.05 L1368.61,453.05 L1369.49,452.01 L1370.37,450.94 L1371.25,449.84 L1372.13,448.72 L1373.01,447.56 L1373.89,446.38 L1374.78,445.17 L1375.66,443.93 L1376.54,442.67 L1377.42,441.38 L1378.3,440.07 L1379.18,438.74 L1380.06,437.38 L1380.94,436 L1381.82,434.61 L1382.7,433.19 L1383.59,431.76 L1384.47,430.3 L1385.35,428.84 L1386.23,427.35 L1387.11,425.86 L1387.99,424.35 L1388.87,422.82 L1389.75,421.29 L1390.63,419.75 L1391.51,418.2 L1392.39,416.65 L1393.28,415.09 L1394.16,413.52 L1395.04,411.95 L1395.92,410.38 L1396.8,408.81 L1397.68,407.23 L1398.56,405.66 L1399.44,404.09 L1400.32,402.53 L1401.2,400.97 L1402.09,399.41 L1402.97,397.87 L1403.85,396.33 L1404.73,394.8 L1405.61,393.28 L1406.49,391.78 L1407.37,390.28 L1408.25,388.8 L1409.13,387.34 L1410.01,385.89 L1410.9,384.45 L1411.78,383.04 L1412.66,381.64 L1413.54,380.26 L1414.42,378.91 L1415.3,377.57 L1416.18,376.26 L1417.06,374.97 L1417.94,373.7 L1418.82,372.46 L1419.71,371.24 L1420.59,370.05 L1421.47,368.88 L1422.35,367.74 L1423.23,366.63 L1424.11,365.55 L1424.99,364.5 L1425.87,363.47 L1426.75,362.48 L1427.63,361.52 L1428.52,360.58 L1429.4,359.68 L1430.28,358.81 L1431.16,357.97 L1432.04,357.17 L1432.92,356.39 L1433.8,355.65 L1434.68,354.95 L1435.56,354.27 L1436.44,353.63 L1437.32,353.03 L1438.21,352.45 L1439.09,351.92 L1439.97,351.41 L1440.85,350.94 L1441.73,350.51 L1442.61,350.11 L1443.49,349.74 L1444.37,349.41 L1445.25,349.12 L1446.13,348.86 L1447.02,348.63 L1447.9,348.44 L1448.78,348.29 L1449.66,348.17 L1450.54,348.08 L1451.42,348.03 L1452.3,348.01 L1453.18,348.03 L1454.06,348.09 L1454.94,348.17 L1455.83,348.3 L1456.71,348.45 L1457.59,348.64 L1458.47,348.87 L1459.35,349.13 L1460.23,349.42 L1461.11,349.74 L1461.99,350.1 L1462.87,350.49 L1463.75,350.92 L1464.64,351.38 L1465.52,351.87 L1466.4,352.39 L1467.28,352.95 L1468.16,353.53 L1469.04,354.15 L1469.92,354.8 L1470.8,355.48 L1471.68,356.2 L1472.56,356.94 L1473.44,357.71 L1474.33,358.52 L1475.21,359.35 L1476.09,360.21 L1476.97,361.1 L1477.85,362.02 L1478.73,362.97 L1479.61,363.95 L1480.49,364.95 L1481.37,365.98 L1482.25,367.04 L1483.14,368.13 L1484.02,369.24 L1484.9,370.37 L1485.78,371.53 L1486.66,372.72 L1487.54,373.93 L1488.42,375.17 L1489.3,376.42 L1490.18,377.7 L1491.06,379 L1491.95,380.33 L1492.83,381.67 L1493.71,383.04 L1494.59,384.43 L1495.47,385.83 L1496.35,387.26 L1497.23,388.7 L1498.11,390.16 L1498.99,391.64 L1499.87,393.13 L1500.76,394.64 L1501.64,396.17 L1502.52,397.71 L1503.4,399.26 L1504.28,400.83 L1505.16,402.41 L1506.04,404 L1506.92,405.61 L1507.8,407.22 L1508.68,408.85 L1509.57,410.48 L1510.45,412.12 L1511.33,413.77 L1512.21,415.43 L1513.09,417.1 L1513.97,418.77 L1514.85,420.45 L1515.73,422.13 L1516.61,423.81 L1517.49,425.5 L1518.37,427.19 L1519.26,428.88 L1520.14,430.58 L1521.02,432.27 L1521.9,433.97 L1522.78,435.66 L1523.66,437.35 L1524.54,439.04 L1525.42,440.73 L1526.3,442.41 L1527.18,444.09 L1528.07,445.77 L1528.95,447.44 L1529.83,449.1 L1530.71,450.76 L1531.59,452.41 L1532.47,454.06 L1533.35,455.69 L1534.23,457.32 L1535.11,458.94 L1535.99,460.54 L1536.88,462.14 L1537.76,463.73 L1538.64,465.31 L1539.52,466.87 L1540.4,468.42 L1541.28,469.96 L1542.16,471.49 L1543.04,473 L1543.92,474.5 L1544.8,475.99 L1545.69,477.46 L1546.57,478.92 L1547.45,480.36 L1548.33,481.78 L1549.21,483.19 L1550.09,484.59 L1550.97,485.96 L1551.85,487.33 L1552.73,488.67 L1553.61,490 L1554.49,491.31 L1555.38,492.6 L1556.26,493.88 L1557.14,495.13 L1558.02,496.37 L1558.9,497.59 L1559.78,498.8 L1560.66,499.98 L1561.54,501.15 L1562.42,502.3 L1563.3,503.43 L1564.19,504.54 L1565.07,505.63 L1565.95,506.71 L1566.83,507.76 L1567.71,508.8 L1568.59,509.82 L1569.47,510.82 L1570.35,511.8 L1571.23,512.76 L1572.11,513.71 L1573,514.64 L1573.88,515.54 L1574.76,516.43 L1575.64,517.31 L1576.52,518.16 L1577.4,519 L1578.28,519.82 L1579.16,520.62 L1580.04,521.4 L1580.92,522.17 L1581.81,522.92 L1582.69,523.65 L1583.57,524.37 L1584.45,525.07 L1585.33,525.75 L1586.21,526.42 L1587.09,527.07 L1587.97,527.71 L1588.85,528.33 L1589.73,528.93 L1590.62,529.52 L1591.5,530.09 L1592.38,530.65 L1593.26,531.2 L1594.14,531.73 L1595.02,532.25 L1595.9,532.75 L1596.78,533.24 L1597.66,533.72 L1598.54,534.18 L1599.42,534.63 L1600.31,535.07 L1601.19,535.49 L1602.07,535.91 L1602.95,536.31 L1603.83,536.7 L1604.71,537.08 L1605.59,537.44 L1606.47,537.8 L1607.35,538.15 L1608.23,538.48 L1609.12,538.81 L1610,539.12 L1610.88,539.42 L1611.76,539.72 L1612.64,540.01 L1613.52,540.28 L1614.4,540.55 L1615.28,540.81 L1616.16,541.06 L1617.04,541.3 L1617.93,541.54 L1618.81,541.76 L1619.69,541.98 L1620.57,542.19 L1621.45,542.4 L1622.33,542.59 L1623.21,542.78 L1624.09,542.97 L1624.97,543.14 L1625.85,543.31 L1626.74,543.48 L1627.62,543.64 L1628.5,543.79 L1629.38,543.94 L1630.26,544.08 L1631.14,544.22 L1632.02,544.35 L1632.9,544.47 L1633.78,544.6 L1634.66,544.71 L1635.55,544.83 L1636.43,544.93 L1637.31,545.04 L1638.19,545.14 L1639.07,545.23 L1639.95,545.33 L1640.83,545.41 L1641.71,545.5 L1642.59,545.58 L1643.47,545.66 L1644.35,545.73 L1645.24,545.81 L1646.12,545.88 L1647,545.94 L1647.88,546 L1648.76,546.07 L1649.64,546.12 L1650.52,546.18 L1651.4,546.23 L1652.28,546.28 L1653.16,546.33 L1654.05,546.38 L1654.93,546.42 L1655.81,546.47 L1656.69,546.51 L1657.57,546.55 L1658.45,546.58 L1659.33,546.62 L1660.21,546.65 L1661.09,546.68 L1661.97,546.72 L1662.86,546.74 L1663.74,546.77 L1664.62,546.8 L1665.5,546.83 L1666.38,546.85 L1667.26,546.87 L1668.14,546.89 L1669.02,546.92 L1669.9,546.94 L1670.78,546.96 L1671.67,546.97 L1672.55,546.99 L1673.43,547.01 L1674.31,547.02 L1675.19,547.04 L1676.07,547.05 L1676.95,547.06 L1677.83,547.08 L1678.71,547.09 L1679.59,547.1 L1680.47,547.11 L1681.36,547.12 L1682.24,547.13 L1683.12,547.14 L1684,547.15 L1684.88,547.16 L1685.76,547.17 L1686.64,547.17 L1687.52,547.18 L1688.4,547.19 L1689.28,547.19 L1690.17,547.2 L1691.05,547.21 L1691.93,547.21 L1692.81,547.22 L1693.69,547.22 L1694.57,547.23 L1695.45,547.23 L1696.33,547.23 L1697.21,547.24 L1698.09,547.24 L1698.98,547.25 L1699.86,547.25 L1700.74,547.25 L1701.62,547.25 L1702.5,547.26 L1703.38,547.26 L1704.26,547.26 L1705.14,547.26 L1706.02,547.27 L1706.9,547.27 L1707.79,547.27 L1708.67,547.27 L1709.55,547.27 L1710.43,547.28 L1711.31,547.28 L1712.19,547.28 L1713.07,547.28 L1713.95,547.28 L1714.83,547.28 L1715.71,547.28 L1716.6,547.28 L1717.48,547.29 L1718.36,547.29 L1719.24,547.29 L1720.12,547.29 L1721,547.29" stroke="#4a8522" stroke-width="6.5" fill="none" stroke-linejoin="round"/></g>
<text transform="translate(1162.5,58.8) scale(1,1.05)" font-family="'Liberation Serif','Times New Roman',serif" font-size="39">711.8 eV (Fe 2p<tspan font-size="27" dy="8">3/2</tspan><tspan dy="-8">)</tspan></text>
<text transform="translate(1376,222.5) scale(1,1.05)" font-family="'Liberation Serif','Times New Roman',serif" font-size="39">726.1 eV (Fe 2p<tspan font-size="27" dy="8">1/2</tspan><tspan dy="-8">)</tspan></text>
<text transform="translate(1246.5,372.5) scale(1,1.05)" font-family="'Liberation Serif','Times New Roman',serif" font-size="39">719.2 eV</text>
<path d="M1059.00,70.00 L1106.01,60.00" stroke="#a8a8a8" stroke-width="2.4"/>
<path d="M1117.75,57.50 L1105.10,65.30 L1103.02,55.52 z" fill="#000"/>
<path d="M1443.50,332.50 L1367.29,238.09" stroke="#a8a8a8" stroke-width="2.4"/>
<path d="M1359.75,228.75 L1372.43,236.50 L1364.65,242.78 z" fill="#000"/>
<path d="M1285.80,436.10 L1244.45,393.42" stroke="#a8a8a8" stroke-width="2.4"/>
<path d="M1236.10,384.80 L1249.43,391.38 L1242.25,398.33 z" fill="#000"/>
<g clip-path="url(#clipc)" fill="none" stroke-linejoin="round">
<path d="M67,1333.18 L67.88,1333.2 L68.76,1333.23 L69.64,1333.25 L70.53,1333.28 L71.41,1333.3 L72.29,1333.32 L73.17,1333.35 L74.05,1333.37 L74.93,1333.4 L75.82,1333.42 L76.7,1333.45 L77.58,1333.47 L78.46,1333.5 L79.34,1333.52 L80.22,1333.55 L81.1,1333.58 L81.99,1333.6 L82.87,1333.63 L83.75,1333.65 L84.63,1333.68 L85.51,1333.71 L86.39,1333.73 L87.28,1333.76 L88.16,1333.79 L89.04,1333.82 L89.92,1333.84 L90.8,1333.87 L91.68,1333.9 L92.56,1333.93 L93.45,1333.96 L94.33,1333.98 L95.21,1334.01 L96.09,1334.04 L96.97,1334.07 L97.85,1334.1 L98.74,1334.13 L99.62,1334.16 L100.5,1334.19 L101.38,1334.22 L102.26,1334.25 L103.14,1334.28 L104.02,1334.31 L104.91,1334.34 L105.79,1334.37 L106.67,1334.4 L107.55,1334.43 L108.43,1334.47 L109.31,1334.5 L110.2,1334.53 L111.08,1334.56 L111.96,1334.59 L112.84,1334.62 L113.72,1334.66 L114.6,1334.69 L115.48,1334.72 L116.37,1334.76 L117.25,1334.79 L118.13,1334.82 L119.01,1334.86 L119.89,1334.89 L120.77,1334.92 L121.66,1334.96 L122.54,1334.99 L123.42,1335.03 L124.3,1335.06 L125.18,1335.1 L126.06,1335.13 L126.94,1335.17 L127.83,1335.2 L128.71,1335.24 L129.59,1335.27 L130.47,1335.31 L131.35,1335.35 L132.23,1335.38 L133.12,1335.42 L134,1335.46 L134.88,1335.49 L135.76,1335.53 L136.64,1335.57 L137.52,1335.61 L138.4,1335.64 L139.29,1335.68 L140.17,1335.72 L141.05,1335.76 L141.93,1335.8 L142.81,1335.84 L143.69,1335.87 L144.58,1335.91 L145.46,1335.95 L146.34,1335.99 L147.22,1336.03 L148.1,1336.07 L148.98,1336.11 L149.86,1336.15 L150.75,1336.19 L151.63,1336.23 L152.51,1336.28 L153.39,1336.32 L154.27,1336.36 L155.15,1336.4 L156.04,1336.44 L156.92,1336.48 L157.8,1336.52 L158.68,1336.57 L159.56,1336.61 L160.44,1336.65 L161.32,1336.7 L162.21,1336.74 L163.09,1336.78 L163.97,1336.82 L164.85,1336.87 L165.73,1336.91 L166.61,1336.96 L167.49,1337 L168.38,1337.04 L169.26,1337.09 L170.14,1337.13 L171.02,1337.18 L171.9,1337.22 L172.78,1337.27 L173.67,1337.31 L174.55,1337.36 L175.43,1337.41 L176.31,1337.45 L177.19,1337.5 L178.07,1337.55 L178.95,1337.59 L179.84,1337.64 L180.72,1337.69 L181.6,1337.73 L182.48,1337.78 L183.36,1337.83 L184.24,1337.87 L185.13,1337.92 L186.01,1337.97 L186.89,1338.02 L187.77,1338.07 L188.65,1338.12 L189.53,1338.16 L190.41,1338.21 L191.3,1338.26 L192.18,1338.31 L193.06,1338.36 L193.94,1338.41 L194.82,1338.46 L195.7,1338.51 L196.59,1338.56 L197.47,1338.61 L198.35,1338.66 L199.23,1338.71 L200.11,1338.76 L200.99,1338.81 L201.87,1338.86 L202.76,1338.91 L203.64,1338.97 L204.52,1339.02 L205.4,1339.07 L206.28,1339.12 L207.16,1339.17 L208.05,1339.22 L208.93,1339.28 L209.81,1339.33 L210.69,1339.38 L211.57,1339.43 L212.45,1339.49 L213.33,1339.54 L214.22,1339.59 L215.1,1339.65 L215.98,1339.7 L216.86,1339.75 L217.74,1339.81 L218.62,1339.86 L219.51,1339.91 L220.39,1339.97 L221.27,1340.02 L222.15,1340.08 L223.03,1340.13 L223.91,1340.19 L224.79,1340.24 L225.68,1340.3 L226.56,1340.35 L227.44,1340.41 L228.32,1340.46 L229.2,1340.52 L230.08,1340.57 L230.97,1340.63 L231.85,1340.68 L232.73,1340.74 L233.61,1340.79 L234.49,1340.85 L235.37,1340.9 L236.25,1340.96 L237.14,1341.02 L238.02,1341.07 L238.9,1341.13 L239.78,1341.19 L240.66,1341.24 L241.54,1341.3 L242.43,1341.36 L243.31,1341.41 L244.19,1341.47 L245.07,1341.53 L245.95,1341.58 L246.83,1341.64 L247.71,1341.7 L248.6,1341.75 L249.48,1341.81 L250.36,1341.87 L251.24,1341.93 L252.12,1341.98 L253,1342.04 L253.89,1342.1 L254.77,1342.16 L255.65,1342.21 L256.53,1342.27 L257.41,1342.33 L258.29,1342.39 L259.17,1342.45 L260.06,1342.5 L260.94,1342.56 L261.82,1342.62 L262.7,1342.68 L263.58,1342.74 L264.46,1342.79 L265.35,1342.85 L266.23,1342.91 L267.11,1342.97 L267.99,1343.03 L268.87,1343.09 L269.75,1343.14 L270.63,1343.2 L271.52,1343.26 L272.4,1343.32 L273.28,1343.38 L274.16,1343.44 L275.04,1343.49 L275.92,1343.55 L276.81,1343.61 L277.69,1343.67 L278.57,1343.73 L279.45,1343.79 L280.33,1343.84 L281.21,1343.9 L282.09,1343.96 L282.98,1344.02 L283.86,1344.08 L284.74,1344.14 L285.62,1344.19 L286.5,1344.25 L287.38,1344.31 L288.27,1344.37 L289.15,1344.43 L290.03,1344.49 L290.91,1344.54 L291.79,1344.6 L292.67,1344.66 L293.55,1344.72 L294.44,1344.78 L295.32,1344.83 L296.2,1344.89 L297.08,1344.95 L297.96,1345.01 L298.84,1345.07 L299.73,1345.12 L300.61,1345.18 L301.49,1345.24 L302.37,1345.3 L303.25,1345.35 L304.13,1345.41 L305.01,1345.47 L305.9,1345.53 L306.78,1345.58 L307.66,1345.64 L308.54,1345.7 L309.42,1345.75 L310.3,1345.81 L311.19,1345.87 L312.07,1345.93 L312.95,1345.98 L313.83,1346.04 L314.71,1346.1 L315.59,1346.15 L316.47,1346.21 L317.36,1346.26 L318.24,1346.32 L319.12,1346.38 L320,1346.43 L320.88,1346.49 L321.76,1346.54 L322.65,1346.6 L323.53,1346.66 L324.41,1346.71 L325.29,1346.77 L326.17,1346.82 L327.05,1346.88 L327.93,1346.93 L328.82,1346.99 L329.7,1347.04 L330.58,1347.1 L331.46,1347.15 L332.34,1347.21 L333.22,1347.26 L334.11,1347.31 L334.99,1347.37 L335.87,1347.42 L336.75,1347.48 L337.63,1347.53 L338.51,1347.58 L339.39,1347.64 L340.28,1347.69 L341.16,1347.74 L342.04,1347.8 L342.92,1347.85 L343.8,1347.9 L344.68,1347.95 L345.57,1348.01 L346.45,1348.06 L347.33,1348.11 L348.21,1348.16 L349.09,1348.22 L349.97,1348.27 L350.85,1348.32 L351.74,1348.37 L352.62,1348.42 L353.5,1348.47 L354.38,1348.52 L355.26,1348.57 L356.14,1348.63 L357.03,1348.68 L357.91,1348.73 L358.79,1348.78 L359.67,1348.83 L360.55,1348.88 L361.43,1348.93 L362.31,1348.98 L363.2,1349.02 L364.08,1349.07 L364.96,1349.12 L365.84,1349.17 L366.72,1349.22 L367.6,1349.27 L368.48,1349.32 L369.37,1349.36 L370.25,1349.41 L371.13,1349.46 L372.01,1349.51 L372.89,1349.56 L373.77,1349.6 L374.66,1349.65 L375.54,1349.7 L376.42,1349.74 L377.3,1349.79 L378.18,1349.84 L379.06,1349.88 L379.94,1349.93 L380.83,1349.97 L381.71,1350.02 L382.59,1350.07 L383.47,1350.11 L384.35,1350.16 L385.23,1350.2 L386.12,1350.25 L387,1350.29 L387.88,1350.33 L388.76,1350.38 L389.64,1350.42 L390.52,1350.47 L391.4,1350.51 L392.29,1350.55 L393.17,1350.6 L394.05,1350.64 L394.93,1350.68 L395.81,1350.72 L396.69,1350.77 L397.58,1350.81 L398.46,1350.85 L399.34,1350.89 L400.22,1350.93 L401.1,1350.98 L401.98,1351.02 L402.86,1351.06 L403.75,1351.1 L404.63,1351.14 L405.51,1351.18 L406.39,1351.22 L407.27,1351.26 L408.15,1351.3 L409.04,1351.34 L409.92,1351.38 L410.8,1351.42 L411.68,1351.46 L412.56,1351.5 L413.44,1351.54 L414.32,1351.57 L415.21,1351.61 L416.09,1351.65 L416.97,1351.69 L417.85,1351.73 L418.73,1351.76 L419.61,1351.8 L420.5,1351.84 L421.38,1351.88 L422.26,1351.91 L423.14,1351.95 L424.02,1351.99 L424.9,1352.02 L425.78,1352.06 L426.67,1352.09 L427.55,1352.13 L428.43,1352.17 L429.31,1352.2 L430.19,1352.24 L431.07,1352.27 L431.96,1352.3 L432.84,1352.34 L433.72,1352.37 L434.6,1352.41 L435.48,1352.44 L436.36,1352.48 L437.24,1352.51 L438.13,1352.54 L439.01,1352.58 L439.89,1352.61 L440.77,1352.64 L441.65,1352.67 L442.53,1352.71 L443.42,1352.74 L444.3,1352.77 L445.18,1352.8 L446.06,1352.83 L446.94,1352.87 L447.82,1352.9 L448.7,1352.93 L449.59,1352.96 L450.47,1352.99 L451.35,1353.02 L452.23,1353.05 L453.11,1353.08 L453.99,1353.11 L454.88,1353.14 L455.76,1353.17 L456.64,1353.2 L457.52,1353.23 L458.4,1353.26 L459.28,1353.29 L460.16,1353.32 L461.05,1353.35 L461.93,1353.37 L462.81,1353.4 L463.69,1353.43 L464.57,1353.46 L465.45,1353.49 L466.34,1353.51 L467.22,1353.54 L468.1,1353.57 L468.98,1353.59 L469.86,1353.62 L470.74,1353.65 L471.62,1353.67 L472.51,1353.7 L473.39,1353.73 L474.27,1353.75 L475.15,1353.78 L476.03,1353.81 L476.91,1353.83 L477.8,1353.86 L478.68,1353.88 L479.56,1353.91 L480.44,1353.93 L481.32,1353.96 L482.2,1353.98 L483.08,1354 L483.97,1354.03 L484.85,1354.05 L485.73,1354.08 L486.61,1354.1 L487.49,1354.12 L488.37,1354.15 L489.26,1354.17 L490.14,1354.19 L491.02,1354.22 L491.9,1354.24 L492.78,1354.26 L493.66,1354.29 L494.54,1354.31 L495.43,1354.33 L496.31,1354.35 L497.19,1354.37 L498.07,1354.4 L498.95,1354.42 L499.83,1354.44 L500.72,1354.46 L501.6,1354.48 L502.48,1354.5 L503.36,1354.52 L504.24,1354.54 L505.12,1354.56 L506,1354.58 L506.89,1354.61 L507.77,1354.63 L508.65,1354.65 L509.53,1354.67 L510.41,1354.69 L511.29,1354.7 L512.18,1354.72 L513.06,1354.74 L513.94,1354.76 L514.82,1354.78 L515.7,1354.8 L516.58,1354.82 L517.46,1354.84 L518.35,1354.86 L519.23,1354.88 L520.11,1354.89 L520.99,1354.91 L521.87,1354.93 L522.75,1354.95 L523.64,1354.97 L524.52,1354.98 L525.4,1355 L526.28,1355.02 L527.16,1355.03 L528.04,1355.05 L528.92,1355.07 L529.81,1355.09 L530.69,1355.1 L531.57,1355.12 L532.45,1355.14 L533.33,1355.15 L534.21,1355.17 L535.1,1355.18 L535.98,1355.2 L536.86,1355.22 L537.74,1355.23 L538.62,1355.25 L539.5,1355.26 L540.38,1355.28 L541.27,1355.29 L542.15,1355.31 L543.03,1355.32 L543.91,1355.34 L544.79,1355.35 L545.67,1355.37 L546.56,1355.38 L547.44,1355.4 L548.32,1355.41 L549.2,1355.43 L550.08,1355.44 L550.96,1355.46 L551.84,1355.47 L552.73,1355.48 L553.61,1355.5 L554.49,1355.51 L555.37,1355.52 L556.25,1355.54 L557.13,1355.55 L558.02,1355.57 L558.9,1355.58 L559.78,1355.59 L560.66,1355.6 L561.54,1355.62 L562.42,1355.63 L563.3,1355.64 L564.19,1355.66 L565.07,1355.67 L565.95,1355.68 L566.83,1355.69 L567.71,1355.71 L568.59,1355.72 L569.47,1355.73 L570.36,1355.74 L571.24,1355.75 L572.12,1355.76 L573,1355.78 L573.88,1355.79 L574.76,1355.8 L575.65,1355.81 L576.53,1355.82 L577.41,1355.83 L578.29,1355.84 L579.17,1355.86 L580.05,1355.87 L580.93,1355.88 L581.82,1355.89 L582.7,1355.9 L583.58,1355.91 L584.46,1355.92 L585.34,1355.93 L586.22,1355.94 L587.11,1355.95 L587.99,1355.96 L588.87,1355.97 L589.75,1355.98 L590.63,1355.99 L591.51,1356 L592.39,1356.01 L593.28,1356.02 L594.16,1356.03 L595.04,1356.04 L595.92,1356.05 L596.8,1356.06 L597.68,1356.07 L598.57,1356.08 L599.45,1356.09 L600.33,1356.1 L601.21,1356.11 L602.09,1356.12 L602.97,1356.12 L603.85,1356.13 L604.74,1356.14 L605.62,1356.15 L606.5,1356.16 L607.38,1356.17 L608.26,1356.18 L609.14,1356.18 L610.03,1356.19 L610.91,1356.2 L611.79,1356.21 L612.67,1356.22 L613.55,1356.23 L614.43,1356.23 L615.31,1356.24 L616.2,1356.25 L617.08,1356.26 L617.96,1356.27 L618.84,1356.27 L619.72,1356.28 L620.6,1356.29 L621.49,1356.3 L622.37,1356.3 L623.25,1356.31 L624.13,1356.32 L625.01,1356.33 L625.89,1356.33 L626.77,1356.34 L627.66,1356.35 L628.54,1356.35 L629.42,1356.36 L630.3,1356.37 L631.18,1356.38 L632.06,1356.38 L632.95,1356.39 L633.83,1356.4 L634.71,1356.4 L635.59,1356.41 L636.47,1356.42 L637.35,1356.42 L638.23,1356.43 L639.12,1356.44 L640,1356.44 L640.88,1356.45 L641.76,1356.45 L642.64,1356.46 L643.52,1356.47 L644.41,1356.47 L645.29,1356.48 L646.17,1356.49 L647.05,1356.49 L647.93,1356.5 L648.81,1356.5 L649.69,1356.51 L650.58,1356.51 L651.46,1356.52 L652.34,1356.53 L653.22,1356.53 L654.1,1356.54 L654.98,1356.54 L655.87,1356.55 L656.75,1356.55 L657.63,1356.56 L658.51,1356.56 L659.39,1356.57 L660.27,1356.58 L661.15,1356.58 L662.04,1356.59 L662.92,1356.59 L663.8,1356.6 L664.68,1356.6 L665.56,1356.61 L666.44,1356.61 L667.33,1356.62 L668.21,1356.62 L669.09,1356.63 L669.97,1356.63 L670.85,1356.64 L671.73,1356.64 L672.61,1356.64 L673.5,1356.65 L674.38,1356.65 L675.26,1356.66 L676.14,1356.66 L677.02,1356.67 L677.9,1356.67 L678.79,1356.68 L679.67,1356.68 L680.55,1356.69 L681.43,1356.69 L682.31,1356.69 L683.19,1356.7 L684.07,1356.7 L684.96,1356.71 L685.84,1356.71 L686.72,1356.72 L687.6,1356.72 L688.48,1356.72 L689.36,1356.73 L690.25,1356.73 L691.13,1356.74 L692.01,1356.74 L692.89,1356.74 L693.77,1356.75 L694.65,1356.75 L695.53,1356.75 L696.42,1356.76 L697.3,1356.76 L698.18,1356.77 L699.06,1356.77 L699.94,1356.77 L700.82,1356.78 L701.71,1356.78 L702.59,1356.78 L703.47,1356.79 L704.35,1356.79 L705.23,1356.79 L706.11,1356.8 L706.99,1356.8 L707.88,1356.8 L708.76,1356.81 L709.64,1356.81 L710.52,1356.81 L711.4,1356.82 L712.28,1356.82 L713.17,1356.82 L714.05,1356.83 L714.93,1356.83 L715.81,1356.83 L716.69,1356.84 L717.57,1356.84 L718.45,1356.84 L719.34,1356.85 L720.22,1356.85 L721.1,1356.85 L721.98,1356.85 L722.86,1356.86 L723.74,1356.86 L724.63,1356.86 L725.51,1356.87 L726.39,1356.87 L727.27,1356.87 L728.15,1356.87 L729.03,1356.88 L729.91,1356.88 L730.8,1356.88 L731.68,1356.89 L732.56,1356.89 L733.44,1356.89 L734.32,1356.89 L735.2,1356.9 L736.09,1356.9 L736.97,1356.9 L737.85,1356.9 L738.73,1356.91 L739.61,1356.91 L740.49,1356.91 L741.37,1356.91 L742.26,1356.92 L743.14,1356.92 L744.02,1356.92 L744.9,1356.92 L745.78,1356.93 L746.66,1356.93 L747.55,1356.93 L748.43,1356.93 L749.31,1356.94 L750.19,1356.94 L751.07,1356.94 L751.95,1356.94 L752.83,1356.94 L753.72,1356.95 L754.6,1356.95 L755.48,1356.95 L756.36,1356.95 L757.24,1356.95 L758.12,1356.96 L759.01,1356.96 L759.89,1356.96 L760.77,1356.96 L761.65,1356.96 L762.53,1356.97 L763.41,1356.97 L764.29,1356.97 L765.18,1356.97 L766.06,1356.97 L766.94,1356.98 L767.82,1356.98 L768.7,1356.98 L769.58,1356.98 L770.46,1356.98 L771.35,1356.99 L772.23,1356.99 L773.11,1356.99 L773.99,1356.99 L774.87,1356.99 L775.75,1357 L776.64,1357 L777.52,1357 L778.4,1357 L779.28,1357 L780.16,1357 L781.04,1357.01 L781.92,1357.01 L782.81,1357.01 L783.69,1357.01 L784.57,1357.01 L785.45,1357.01 L786.33,1357.02 L787.21,1357.02 L788.1,1357.02 L788.98,1357.02 L789.86,1357.02 L790.74,1357.02 L791.62,1357.02 L792.5,1357.03 L793.38,1357.03 L794.27,1357.03 L795.15,1357.03 L796.03,1357.03 L796.91,1357.03 L797.79,1357.03 L798.67,1357.04 L799.56,1357.04 L800.44,1357.04 L801.32,1357.04 L802.2,1357.04 L803.08,1357.04 L803.96,1357.04 L804.84,1357.05 L805.73,1357.05 L806.61,1357.05 L807.49,1357.05 L808.37,1357.05 L809.25,1357.05 L810.13,1357.05 L811.02,1357.05 L811.9,1357.06 L812.78,1357.06 L813.66,1357.06 L814.54,1357.06 L815.42,1357.06 L816.3,1357.06 L817.19,1357.06 L818.07,1357.06 L818.95,1357.07 L819.83,1357.07 L820.71,1357.07 L821.59,1357.07 L822.48,1357.07 L823.36,1357.07 L824.24,1357.07 L825.12,1357.07 L826,1357.07 L826.88,1357.08 L827.76,1357.08 L828.65,1357.08 L829.53,1357.08 L830.41,1357.08 L831.29,1357.08 L832.17,1357.08 L833.05,1357.08 L833.94,1357.08 L834.82,1357.08 L835.7,1357.09 L836.58,1357.09 L837.46,1357.09 L838.34,1357.09 L839.22,1357.09 L840.11,1357.09 L840.99,1357.09 L841.87,1357.09 L842.75,1357.09 L843.63,1357.09 L844.51,1357.1 L845.4,1357.1 L846.28,1357.1 L847.16,1357.1 L848.04,1357.1 L848.92,1357.1 L849.8,1357.1 L850.68,1357.1 L851.57,1357.1 L852.45,1357.1 L853.33,1357.1 L854.21,1357.1 L855.09,1357.11 L855.97,1357.11 L856.86,1357.11 L857.74,1357.11 L858.62,1357.11 L859.5,1357.11" stroke="#0000ff" stroke-width="6.5"/>
<path d="M67,1357.9 H859.5" stroke="#8a8a8a" stroke-width="4.8"/>
<path d="M632,1358.5 L642,1358.5 L637.5,1363.5 z" fill="#8a8a8a" stroke="none"/>
<circle cx="635" cy="1354.8" r="1.8" fill="#0000ff"/>
<path d="M67,1357.2 L67.88,1357.2 L68.76,1357.2 L69.64,1357.2 L70.53,1357.2 L71.41,1357.2 L72.29,1357.2 L73.17,1357.2 L74.05,1357.2 L74.93,1357.2 L75.82,1357.2 L76.7,1357.2 L77.58,1357.2 L78.46,1357.2 L79.34,1357.2 L80.22,1357.2 L81.1,1357.2 L81.99,1357.2 L82.87,1357.2 L83.75,1357.2 L84.63,1357.2 L85.51,1357.2 L86.39,1357.2 L87.28,1357.2 L88.16,1357.2 L89.04,1357.2 L89.92,1357.2 L90.8,1357.2 L91.68,1357.2 L92.56,1357.2 L93.45,1357.2 L94.33,1357.2 L95.21,1357.2 L96.09,1357.2 L96.97,1357.2 L97.85,1357.2 L98.74,1357.2 L99.62,1357.2 L100.5,1357.2 L101.38,1357.2 L102.26,1357.2 L103.14,1357.2 L104.02,1357.2 L104.91,1357.2 L105.79,1357.2 L106.67,1357.2 L107.55,1357.2 L108.43,1357.2 L109.31,1357.2 L110.2,1357.2 L111.08,1357.2 L111.96,1357.2 L112.84,1357.2 L113.72,1357.2 L114.6,1357.2 L115.48,1357.2 L116.37,1357.2 L117.25,1357.2 L118.13,1357.2 L119.01,1357.2 L119.89,1357.2 L120.77,1357.2 L121.66,1357.2 L122.54,1357.2 L123.42,1357.2 L124.3,1357.2 L125.18,1357.2 L126.06,1357.2 L126.94,1357.2 L127.83,1357.2 L128.71,1357.2 L129.59,1357.2 L130.47,1357.2 L131.35,1357.2 L132.23,1357.2 L133.12,1357.2 L134,1357.2 L134.88,1357.2 L135.76,1357.2 L136.64,1357.2 L137.52,1357.2 L138.4,1357.2 L139.29,1357.2 L140.17,1357.2 L141.05,1357.2 L141.93,1357.2 L142.81,1357.2 L143.69,1357.2 L144.58,1357.2 L145.46,1357.2 L146.34,1357.2 L147.22,1357.2 L148.1,1357.2 L148.98,1357.2 L149.86,1357.2 L150.75,1357.2 L151.63,1357.2 L152.51,1357.2 L153.39,1357.2 L154.27,1357.2 L155.15,1357.2 L156.04,1357.2 L156.92,1357.2 L157.8,1357.2 L158.68,1357.2 L159.56,1357.2 L160.44,1357.2 L161.32,1357.2 L162.21,1357.2 L163.09,1357.2 L163.97,1357.2 L164.85,1357.2 L165.73,1357.2 L166.61,1357.2 L167.49,1357.2 L168.38,1357.2 L169.26,1357.2 L170.14,1357.2 L171.02,1357.2 L171.9,1357.2 L172.78,1357.2 L173.67,1357.2 L174.55,1357.2 L175.43,1357.2 L176.31,1357.2 L177.19,1357.2 L178.07,1357.2 L178.95,1357.2 L179.84,1357.2 L180.72,1357.2 L181.6,1357.2 L182.48,1357.2 L183.36,1357.2 L184.24,1357.2 L185.13,1357.2 L186.01,1357.2 L186.89,1357.2 L187.77,1357.2 L188.65,1357.2 L189.53,1357.2 L190.41,1357.2 L191.3,1357.2 L192.18,1357.2 L193.06,1357.2 L193.94,1357.2 L194.82,1357.2 L195.7,1357.2 L196.59,1357.2 L197.47,1357.2 L198.35,1357.2 L199.23,1357.2 L200.11,1357.2 L200.99,1357.2 L201.87,1357.2 L202.76,1357.2 L203.64,1357.2 L204.52,1357.2 L205.4,1357.2 L206.28,1357.2 L207.16,1357.2 L208.05,1357.2 L208.93,1357.2 L209.81,1357.2 L210.69,1357.2 L211.57,1357.2 L212.45,1357.2 L213.33,1357.2 L214.22,1357.2 L215.1,1357.2 L215.98,1357.2 L216.86,1357.2 L217.74,1357.2 L218.62,1357.2 L219.51,1357.2 L220.39,1357.2 L221.27,1357.2 L222.15,1357.2 L223.03,1357.2 L223.91,1357.2 L224.79,1357.2 L225.68,1357.2 L226.56,1357.2 L227.44,1357.2 L228.32,1357.2 L229.2,1357.2 L230.08,1357.2 L230.97,1357.2 L231.85,1357.2 L232.73,1357.2 L233.61,1357.2 L234.49,1357.2 L235.37,1357.2 L236.25,1357.2 L237.14,1357.2 L238.02,1357.2 L238.9,1357.2 L239.78,1357.2 L240.66,1357.2 L241.54,1357.2 L242.43,1357.2 L243.31,1357.2 L244.19,1357.2 L245.07,1357.2 L245.95,1357.2 L246.83,1357.2 L247.71,1357.2 L248.6,1357.2 L249.48,1357.2 L250.36,1357.2 L251.24,1357.2 L252.12,1357.2 L253,1357.2 L253.89,1357.2 L254.77,1357.2 L255.65,1357.2 L256.53,1357.2 L257.41,1357.2 L258.29,1357.2 L259.17,1357.2 L260.06,1357.2 L260.94,1357.2 L261.82,1357.2 L262.7,1357.2 L263.58,1357.2 L264.46,1357.2 L265.35,1357.2 L266.23,1357.2 L267.11,1357.2 L267.99,1357.2 L268.87,1357.2 L269.75,1357.2 L270.63,1357.2 L271.52,1357.2 L272.4,1357.2 L273.28,1357.19 L274.16,1357.19 L275.04,1357.19 L275.92,1357.19 L276.81,1357.19 L277.69,1357.19 L278.57,1357.19 L279.45,1357.19 L280.33,1357.19 L281.21,1357.19 L282.09,1357.19 L282.98,1357.19 L283.86,1357.19 L284.74,1357.19 L285.62,1357.19 L286.5,1357.19 L287.38,1357.19 L288.27,1357.19 L289.15,1357.19 L290.03,1357.19 L290.91,1357.19 L291.79,1357.19 L292.67,1357.18 L293.55,1357.18 L294.44,1357.18 L295.32,1357.18 L296.2,1357.18 L297.08,1357.18 L297.96,1357.18 L298.84,1357.18 L299.73,1357.18 L300.61,1357.18 L301.49,1357.17 L302.37,1357.17 L303.25,1357.17 L304.13,1357.17 L305.01,1357.17 L305.9,1357.17 L306.78,1357.17 L307.66,1357.17 L308.54,1357.16 L309.42,1357.16 L310.3,1357.16 L311.19,1357.16 L312.07,1357.16 L312.95,1357.15 L313.83,1357.15 L314.71,1357.15 L315.59,1357.15 L316.47,1357.15 L317.36,1357.14 L318.24,1357.14 L319.12,1357.14 L320,1357.13 L320.88,1357.13 L321.76,1357.13 L322.65,1357.13 L323.53,1357.12 L324.41,1357.12 L325.29,1357.11 L326.17,1357.11 L327.05,1357.11 L327.93,1357.1 L328.82,1357.1 L329.7,1357.09 L330.58,1357.09 L331.46,1357.09 L332.34,1357.08 L333.22,1357.08 L334.11,1357.07 L334.99,1357.06 L335.87,1357.06 L336.75,1357.05 L337.63,1357.05 L338.51,1357.04 L339.39,1357.03 L340.28,1357.03 L341.16,1357.02 L342.04,1357.01 L342.92,1357 L343.8,1356.99 L344.68,1356.99 L345.57,1356.98 L346.45,1356.97 L347.33,1356.96 L348.21,1356.95 L349.09,1356.94 L349.97,1356.93 L350.85,1356.92 L351.74,1356.91 L352.62,1356.89 L353.5,1356.88 L354.38,1356.87 L355.26,1356.86 L356.14,1356.84 L357.03,1356.83 L357.91,1356.82 L358.79,1356.8 L359.67,1356.78 L360.55,1356.77 L361.43,1356.75 L362.31,1356.73 L363.2,1356.72 L364.08,1356.7 L364.96,1356.68 L365.84,1356.66 L366.72,1356.64 L367.6,1356.62 L368.48,1356.6 L369.37,1356.57 L370.25,1356.55 L371.13,1356.53 L372.01,1356.5 L372.89,1356.48 L373.77,1356.45 L374.66,1356.42 L375.54,1356.4 L376.42,1356.37 L377.3,1356.34 L378.18,1356.31 L379.06,1356.27 L379.94,1356.24 L380.83,1356.21 L381.71,1356.17 L382.59,1356.14 L383.47,1356.1 L384.35,1356.06 L385.23,1356.02 L386.12,1355.98 L387,1355.94 L387.88,1355.89 L388.76,1355.85 L389.64,1355.8 L390.52,1355.76 L391.4,1355.71 L392.29,1355.66 L393.17,1355.61 L394.05,1355.55 L394.93,1355.5 L395.81,1355.44 L396.69,1355.38 L397.58,1355.32 L398.46,1355.26 L399.34,1355.2 L400.22,1355.14 L401.1,1355.07 L401.98,1355 L402.86,1354.93 L403.75,1354.86 L404.63,1354.79 L405.51,1354.71 L406.39,1354.63 L407.27,1354.55 L408.15,1354.47 L409.04,1354.39 L409.92,1354.3 L410.8,1354.21 L411.68,1354.12 L412.56,1354.03 L413.44,1353.93 L414.32,1353.83 L415.21,1353.73 L416.09,1353.63 L416.97,1353.52 L417.85,1353.41 L418.73,1353.3 L419.61,1353.19 L420.5,1353.07 L421.38,1352.95 L422.26,1352.83 L423.14,1352.7 L424.02,1352.58 L424.9,1352.45 L425.78,1352.31 L426.67,1352.17 L427.55,1352.03 L428.43,1351.89 L429.31,1351.74 L430.19,1351.59 L431.07,1351.44 L431.96,1351.28 L432.84,1351.12 L433.72,1350.96 L434.6,1350.79 L435.48,1350.62 L436.36,1350.45 L437.24,1350.27 L438.13,1350.09 L439.01,1349.9 L439.89,1349.71 L440.77,1349.52 L441.65,1349.32 L442.53,1349.12 L443.42,1348.91 L444.3,1348.7 L445.18,1348.49 L446.06,1348.27 L446.94,1348.05 L447.82,1347.82 L448.7,1347.59 L449.59,1347.36 L450.47,1347.12 L451.35,1346.87 L452.23,1346.63 L453.11,1346.37 L453.99,1346.12 L454.88,1345.86 L455.76,1345.59 L456.64,1345.32 L457.52,1345.04 L458.4,1344.76 L459.28,1344.48 L460.16,1344.19 L461.05,1343.89 L461.93,1343.6 L462.81,1343.29 L463.69,1342.98 L464.57,1342.67 L465.45,1342.35 L466.34,1342.03 L467.22,1341.7 L468.1,1341.36 L468.98,1341.03 L469.86,1340.68 L470.74,1340.33 L471.62,1339.98 L472.51,1339.62 L473.39,1339.26 L474.27,1338.89 L475.15,1338.52 L476.03,1338.14 L476.91,1337.76 L477.8,1337.37 L478.68,1336.97 L479.56,1336.57 L480.44,1336.17 L481.32,1335.76 L482.2,1335.35 L483.08,1334.93 L483.97,1334.51 L484.85,1334.08 L485.73,1333.65 L486.61,1333.21 L487.49,1332.77 L488.37,1332.32 L489.26,1331.87 L490.14,1331.41 L491.02,1330.95 L491.9,1330.48 L492.78,1330.01 L493.66,1329.54 L494.54,1329.06 L495.43,1328.57 L496.31,1328.08 L497.19,1327.59 L498.07,1327.09 L498.95,1326.59 L499.83,1326.09 L500.72,1325.58 L501.6,1325.07 L502.48,1324.55 L503.36,1324.03 L504.24,1323.5 L505.12,1322.98 L506,1322.44 L506.89,1321.91 L507.77,1321.37 L508.65,1320.83 L509.53,1320.28 L510.41,1319.74 L511.29,1319.18 L512.18,1318.63 L513.06,1318.07 L513.94,1317.51 L514.82,1316.95 L515.7,1316.39 L516.58,1315.82 L517.46,1315.25 L518.35,1314.68 L519.23,1314.11 L520.11,1313.54 L520.99,1312.96 L521.87,1312.38 L522.75,1311.81 L523.64,1311.23 L524.52,1310.65 L525.4,1310.06 L526.28,1309.48 L527.16,1308.9 L528.04,1308.31 L528.92,1307.73 L529.81,1307.15 L530.69,1306.56 L531.57,1305.98 L532.45,1305.4 L533.33,1304.81 L534.21,1304.23 L535.1,1303.65 L535.98,1303.07 L536.86,1302.49 L537.74,1301.91 L538.62,1301.34 L539.5,1300.76 L540.38,1300.19 L541.27,1299.62 L542.15,1299.05 L543.03,1298.48 L543.91,1297.92 L544.79,1297.36 L545.67,1296.8 L546.56,1296.25 L547.44,1295.69 L548.32,1295.15 L549.2,1294.6 L550.08,1294.06 L550.96,1293.52 L551.84,1292.99 L552.73,1292.46 L553.61,1291.94 L554.49,1291.42 L555.37,1290.91 L556.25,1290.4 L557.13,1289.9 L558.02,1289.4 L558.9,1288.91 L559.78,1288.42 L560.66,1287.94 L561.54,1287.46 L562.42,1287 L563.3,1286.53 L564.19,1286.08 L565.07,1285.63 L565.95,1285.19 L566.83,1284.76 L567.71,1284.33 L568.59,1283.91 L569.47,1283.5 L570.36,1283.1 L571.24,1282.7 L572.12,1282.31 L573,1281.93 L573.88,1281.56 L574.76,1281.2 L575.65,1280.85 L576.53,1280.5 L577.41,1280.17 L578.29,1279.84 L579.17,1279.52 L580.05,1279.21 L580.93,1278.91 L581.82,1278.62 L582.7,1278.35 L583.58,1278.08 L584.46,1277.82 L585.34,1277.57 L586.22,1277.33 L587.11,1277.1 L587.99,1276.88 L588.87,1276.67 L589.75,1276.47 L590.63,1276.28 L591.51,1276.1 L592.39,1275.94 L593.28,1275.78 L594.16,1275.64 L595.04,1275.5 L595.92,1275.38 L596.8,1275.27 L597.68,1275.17 L598.57,1275.08 L599.45,1275 L600.33,1274.93 L601.21,1274.87 L602.09,1274.83 L602.97,1274.79 L603.85,1274.77 L604.74,1274.76 L605.62,1274.76 L606.5,1274.77 L607.38,1274.79 L608.26,1274.82 L609.14,1274.87 L610.03,1274.92 L610.91,1274.99 L611.79,1275.07 L612.67,1275.16 L613.55,1275.26 L614.43,1275.37 L615.31,1275.49 L616.2,1275.62 L617.08,1275.77 L617.96,1275.92 L618.84,1276.09 L619.72,1276.26 L620.6,1276.45 L621.49,1276.65 L622.37,1276.86 L623.25,1277.08 L624.13,1277.3 L625.01,1277.54 L625.89,1277.79 L626.77,1278.05 L627.66,1278.32 L628.54,1278.6 L629.42,1278.89 L630.3,1279.18 L631.18,1279.49 L632.06,1279.81 L632.95,1280.14 L633.83,1280.47 L634.71,1280.81 L635.59,1281.17 L636.47,1281.53 L637.35,1281.9 L638.23,1282.28 L639.12,1282.66 L640,1283.06 L640.88,1283.46 L641.76,1283.87 L642.64,1284.29 L643.52,1284.72 L644.41,1285.15 L645.29,1285.59 L646.17,1286.04 L647.05,1286.49 L647.93,1286.95 L648.81,1287.42 L649.69,1287.89 L650.58,1288.37 L651.46,1288.86 L652.34,1289.35 L653.22,1289.85 L654.1,1290.35 L654.98,1290.86 L655.87,1291.37 L656.75,1291.89 L657.63,1292.42 L658.51,1292.94 L659.39,1293.47 L660.27,1294.01 L661.15,1294.55 L662.04,1295.1 L662.92,1295.64 L663.8,1296.19 L664.68,1296.75 L665.56,1297.31 L666.44,1297.87 L667.33,1298.43 L668.21,1299 L669.09,1299.56 L669.97,1300.14 L670.85,1300.71 L671.73,1301.28 L672.61,1301.86 L673.5,1302.44 L674.38,1303.02 L675.26,1303.6 L676.14,1304.18 L677.02,1304.76 L677.9,1305.34 L678.79,1305.93 L679.67,1306.51 L680.55,1307.09 L681.43,1307.68 L682.31,1308.26 L683.19,1308.84 L684.07,1309.43 L684.96,1310.01 L685.84,1310.59 L686.72,1311.17 L687.6,1311.75 L688.48,1312.33 L689.36,1312.91 L690.25,1313.48 L691.13,1314.06 L692.01,1314.63 L692.89,1315.2 L693.77,1315.77 L694.65,1316.34 L695.53,1316.9 L696.42,1317.46 L697.3,1318.02 L698.18,1318.58 L699.06,1319.13 L699.94,1319.68 L700.82,1320.23 L701.71,1320.78 L702.59,1321.32 L703.47,1321.86 L704.35,1322.39 L705.23,1322.93 L706.11,1323.46 L706.99,1323.98 L707.88,1324.5 L708.76,1325.02 L709.64,1325.53 L710.52,1326.04 L711.4,1326.55 L712.28,1327.05 L713.17,1327.55 L714.05,1328.04 L714.93,1328.53 L715.81,1329.01 L716.69,1329.49 L717.57,1329.97 L718.45,1330.44 L719.34,1330.91 L720.22,1331.37 L721.1,1331.82 L721.98,1332.28 L722.86,1332.73 L723.74,1333.17 L724.63,1333.61 L725.51,1334.04 L726.39,1334.47 L727.27,1334.89 L728.15,1335.31 L729.03,1335.72 L729.91,1336.13 L730.8,1336.54 L731.68,1336.94 L732.56,1337.33 L733.44,1337.72 L734.32,1338.1 L735.2,1338.48 L736.09,1338.86 L736.97,1339.23 L737.85,1339.59 L738.73,1339.95 L739.61,1340.3 L740.49,1340.65 L741.37,1340.99 L742.26,1341.33 L743.14,1341.67 L744.02,1342 L744.9,1342.32 L745.78,1342.64 L746.66,1342.95 L747.55,1343.26 L748.43,1343.57 L749.31,1343.87 L750.19,1344.16 L751.07,1344.45 L751.95,1344.74 L752.83,1345.02 L753.72,1345.29 L754.6,1345.56 L755.48,1345.83 L756.36,1346.09 L757.24,1346.35 L758.12,1346.6 L759.01,1346.85 L759.89,1347.1 L760.77,1347.34 L761.65,1347.57 L762.53,1347.8 L763.41,1348.03 L764.29,1348.25 L765.18,1348.47 L766.06,1348.68 L766.94,1348.89 L767.82,1349.1 L768.7,1349.3 L769.58,1349.5 L770.46,1349.69 L771.35,1349.88 L772.23,1350.07 L773.11,1350.25 L773.99,1350.43 L774.87,1350.6 L775.75,1350.78 L776.64,1350.94 L777.52,1351.11 L778.4,1351.27 L779.28,1351.43 L780.16,1351.58 L781.04,1351.73 L781.92,1351.88 L782.81,1352.02 L783.69,1352.16 L784.57,1352.3 L785.45,1352.43 L786.33,1352.56 L787.21,1352.69 L788.1,1352.82 L788.98,1352.94 L789.86,1353.06 L790.74,1353.18 L791.62,1353.29 L792.5,1353.4 L793.38,1353.51 L794.27,1353.62 L795.15,1353.72 L796.03,1353.82 L796.91,1353.92 L797.79,1354.02 L798.67,1354.11 L799.56,1354.2 L800.44,1354.29 L801.32,1354.38 L802.2,1354.46 L803.08,1354.54 L803.96,1354.62 L804.84,1354.7 L805.73,1354.78 L806.61,1354.85 L807.49,1354.93 L808.37,1355 L809.25,1355.06 L810.13,1355.13 L811.02,1355.19 L811.9,1355.26 L812.78,1355.32 L813.66,1355.38 L814.54,1355.44 L815.42,1355.49 L816.3,1355.55 L817.19,1355.6 L818.07,1355.65 L818.95,1355.7 L819.83,1355.75 L820.71,1355.8 L821.59,1355.85 L822.48,1355.89 L823.36,1355.93 L824.24,1355.98 L825.12,1356.02 L826,1356.06 L826.88,1356.09 L827.76,1356.13 L828.65,1356.17 L829.53,1356.2 L830.41,1356.24 L831.29,1356.27 L832.17,1356.3 L833.05,1356.33 L833.94,1356.36 L834.82,1356.39 L835.7,1356.42 L836.58,1356.45 L837.46,1356.47 L838.34,1356.5 L839.22,1356.52 L840.11,1356.55 L840.99,1356.57 L841.87,1356.59 L842.75,1356.62 L843.63,1356.64 L844.51,1356.66 L845.4,1356.68 L846.28,1356.7 L847.16,1356.72 L848.04,1356.73 L848.92,1356.75 L849.8,1356.77 L850.68,1356.78 L851.57,1356.8 L852.45,1356.81 L853.33,1356.83 L854.21,1356.84 L855.09,1356.86 L855.97,1356.87 L856.86,1356.88 L857.74,1356.89 L858.62,1356.91 L859.5,1356.92" stroke="#000" stroke-width="7"/>
<path d="M67,1354 L67.88,1353.96 L68.76,1353.92 L69.64,1353.88 L70.53,1353.84 L71.41,1353.8 L72.29,1353.75 L73.17,1353.71 L74.05,1353.66 L74.93,1353.62 L75.82,1353.57 L76.7,1353.52 L77.58,1353.47 L78.46,1353.42 L79.34,1353.37 L80.22,1353.32 L81.1,1353.27 L81.99,1353.21 L82.87,1353.16 L83.75,1353.1 L84.63,1353.04 L85.51,1352.98 L86.39,1352.92 L87.28,1352.86 L88.16,1352.8 L89.04,1352.74 L89.92,1352.67 L90.8,1352.61 L91.68,1352.54 L92.56,1352.47 L93.45,1352.4 L94.33,1352.33 L95.21,1352.26 L96.09,1352.18 L96.97,1352.11 L97.85,1352.03 L98.74,1351.95 L99.62,1351.87 L100.5,1351.79 L101.38,1351.7 L102.26,1351.62 L103.14,1351.53 L104.02,1351.44 L104.91,1351.35 L105.79,1351.26 L106.67,1351.17 L107.55,1351.07 L108.43,1350.98 L109.31,1350.88 L110.2,1350.78 L111.08,1350.67 L111.96,1350.57 L112.84,1350.46 L113.72,1350.35 L114.6,1350.24 L115.48,1350.13 L116.37,1350.02 L117.25,1349.9 L118.13,1349.78 L119.01,1349.66 L119.89,1349.53 L120.77,1349.41 L121.66,1349.28 L122.54,1349.15 L123.42,1349.02 L124.3,1348.88 L125.18,1348.74 L126.06,1348.6 L126.94,1348.46 L127.83,1348.31 L128.71,1348.17 L129.59,1348.01 L130.47,1347.86 L131.35,1347.7 L132.23,1347.55 L133.12,1347.38 L134,1347.22 L134.88,1347.05 L135.76,1346.88 L136.64,1346.71 L137.52,1346.53 L138.4,1346.35 L139.29,1346.17 L140.17,1345.98 L141.05,1345.79 L141.93,1345.6 L142.81,1345.4 L143.69,1345.2 L144.58,1345 L145.46,1344.8 L146.34,1344.59 L147.22,1344.37 L148.1,1344.16 L148.98,1343.94 L149.86,1343.71 L150.75,1343.49 L151.63,1343.26 L152.51,1343.02 L153.39,1342.78 L154.27,1342.54 L155.15,1342.29 L156.04,1342.04 L156.92,1341.79 L157.8,1341.53 L158.68,1341.27 L159.56,1341 L160.44,1340.73 L161.32,1340.45 L162.21,1340.17 L163.09,1339.89 L163.97,1339.6 L164.85,1339.31 L165.73,1339.01 L166.61,1338.71 L167.49,1338.4 L168.38,1338.09 L169.26,1337.78 L170.14,1337.46 L171.02,1337.13 L171.9,1336.8 L172.78,1336.46 L173.67,1336.12 L174.55,1335.78 L175.43,1335.43 L176.31,1335.07 L177.19,1334.71 L178.07,1334.35 L178.95,1333.98 L179.84,1333.6 L180.72,1333.22 L181.6,1332.83 L182.48,1332.44 L183.36,1332.04 L184.24,1331.64 L185.13,1331.23 L186.01,1330.82 L186.89,1330.4 L187.77,1329.97 L188.65,1329.54 L189.53,1329.1 L190.41,1328.66 L191.3,1328.21 L192.18,1327.75 L193.06,1327.29 L193.94,1326.82 L194.82,1326.35 L195.7,1325.87 L196.59,1325.39 L197.47,1324.89 L198.35,1324.4 L199.23,1323.89 L200.11,1323.38 L200.99,1322.86 L201.87,1322.34 L202.76,1321.81 L203.64,1321.27 L204.52,1320.73 L205.4,1320.18 L206.28,1319.63 L207.16,1319.06 L208.05,1318.49 L208.93,1317.92 L209.81,1317.34 L210.69,1316.75 L211.57,1316.15 L212.45,1315.55 L213.33,1314.94 L214.22,1314.32 L215.1,1313.69 L215.98,1313.06 L216.86,1312.43 L217.74,1311.78 L218.62,1311.13 L219.51,1310.47 L220.39,1309.8 L221.27,1309.13 L222.15,1308.45 L223.03,1307.76 L223.91,1307.07 L224.79,1306.37 L225.68,1305.66 L226.56,1304.94 L227.44,1304.22 L228.32,1303.49 L229.2,1302.75 L230.08,1302 L230.97,1301.25 L231.85,1300.49 L232.73,1299.72 L233.61,1298.95 L234.49,1298.17 L235.37,1297.38 L236.25,1296.58 L237.14,1295.78 L238.02,1294.97 L238.9,1294.15 L239.78,1293.32 L240.66,1292.49 L241.54,1291.65 L242.43,1290.8 L243.31,1289.95 L244.19,1289.08 L245.07,1288.21 L245.95,1287.34 L246.83,1286.45 L247.71,1285.56 L248.6,1284.66 L249.48,1283.76 L250.36,1282.85 L251.24,1281.93 L252.12,1281 L253,1280.07 L253.89,1279.13 L254.77,1278.18 L255.65,1277.22 L256.53,1276.26 L257.41,1275.29 L258.29,1274.32 L259.17,1273.34 L260.06,1272.35 L260.94,1271.35 L261.82,1270.35 L262.7,1269.34 L263.58,1268.32 L264.46,1267.3 L265.35,1266.27 L266.23,1265.24 L267.11,1264.2 L267.99,1263.15 L268.87,1262.09 L269.75,1261.03 L270.63,1259.97 L271.52,1258.89 L272.4,1257.82 L273.28,1256.73 L274.16,1255.64 L275.04,1254.55 L275.92,1253.44 L276.81,1252.34 L277.69,1251.22 L278.57,1250.11 L279.45,1248.98 L280.33,1247.85 L281.21,1246.72 L282.09,1245.58 L282.98,1244.43 L283.86,1243.29 L284.74,1242.13 L285.62,1240.97 L286.5,1239.81 L287.38,1238.64 L288.27,1237.47 L289.15,1236.29 L290.03,1235.11 L290.91,1233.93 L291.79,1232.74 L292.67,1231.55 L293.55,1230.35 L294.44,1229.15 L295.32,1227.94 L296.2,1226.74 L297.08,1225.53 L297.96,1224.31 L298.84,1223.1 L299.73,1221.88 L300.61,1220.66 L301.49,1219.43 L302.37,1218.2 L303.25,1216.97 L304.13,1215.74 L305.01,1214.51 L305.9,1213.27 L306.78,1212.03 L307.66,1210.79 L308.54,1209.55 L309.42,1208.31 L310.3,1207.07 L311.19,1205.82 L312.07,1204.58 L312.95,1203.33 L313.83,1202.08 L314.71,1200.84 L315.59,1199.59 L316.47,1198.34 L317.36,1197.09 L318.24,1195.85 L319.12,1194.6 L320,1193.35 L320.88,1192.11 L321.76,1190.86 L322.65,1189.62 L323.53,1188.37 L324.41,1187.13 L325.29,1185.89 L326.17,1184.65 L327.05,1183.42 L327.93,1182.18 L328.82,1180.95 L329.7,1179.72 L330.58,1178.49 L331.46,1177.27 L332.34,1176.05 L333.22,1174.83 L334.11,1173.62 L334.99,1172.4 L335.87,1171.2 L336.75,1169.99 L337.63,1168.79 L338.51,1167.6 L339.39,1166.41 L340.28,1165.22 L341.16,1164.04 L342.04,1162.86 L342.92,1161.69 L343.8,1160.53 L344.68,1159.37 L345.57,1158.21 L346.45,1157.06 L347.33,1155.92 L348.21,1154.79 L349.09,1153.66 L349.97,1152.53 L350.85,1151.42 L351.74,1150.31 L352.62,1149.21 L353.5,1148.11 L354.38,1147.03 L355.26,1145.95 L356.14,1144.88 L357.03,1143.82 L357.91,1142.76 L358.79,1141.72 L359.67,1140.68 L360.55,1139.66 L361.43,1138.64 L362.31,1137.63 L363.2,1136.63 L364.08,1135.64 L364.96,1134.66 L365.84,1133.7 L366.72,1132.74 L367.6,1131.79 L368.48,1130.85 L369.37,1129.93 L370.25,1129.01 L371.13,1128.11 L372.01,1127.21 L372.89,1126.33 L373.77,1125.46 L374.66,1124.61 L375.54,1123.76 L376.42,1122.93 L377.3,1122.11 L378.18,1121.3 L379.06,1120.5 L379.94,1119.72 L380.83,1118.95 L381.71,1118.2 L382.59,1117.45 L383.47,1116.72 L384.35,1116.01 L385.23,1115.31 L386.12,1114.62 L387,1113.95 L387.88,1113.29 L388.76,1112.64 L389.64,1112.01 L390.52,1111.4 L391.4,1110.8 L392.29,1110.21 L393.17,1109.64 L394.05,1109.09 L394.93,1108.55 L395.81,1108.02 L396.69,1107.51 L397.58,1107.02 L398.46,1106.54 L399.34,1106.08 L400.22,1105.64 L401.1,1105.21 L401.98,1104.8 L402.86,1104.4 L403.75,1104.02 L404.63,1103.66 L405.51,1103.31 L406.39,1102.98 L407.27,1102.67 L408.15,1102.37 L409.04,1102.09 L409.92,1101.83 L410.8,1101.58 L411.68,1101.35 L412.56,1101.14 L413.44,1100.94 L414.32,1100.77 L415.21,1100.61 L416.09,1100.46 L416.97,1100.34 L417.85,1100.23 L418.73,1100.14 L419.61,1100.06 L420.5,1100.01 L421.38,1099.97 L422.26,1099.95 L423.14,1099.94 L424.02,1099.96 L424.9,1099.99 L425.78,1100.04 L426.67,1100.1 L427.55,1100.18 L428.43,1100.29 L429.31,1100.4 L430.19,1100.54 L431.07,1100.69 L431.96,1100.86 L432.84,1101.05 L433.72,1101.25 L434.6,1101.47 L435.48,1101.71 L436.36,1101.97 L437.24,1102.24 L438.13,1102.53 L439.01,1102.83 L439.89,1103.16 L440.77,1103.5 L441.65,1103.85 L442.53,1104.22 L443.42,1104.61 L444.3,1105.02 L445.18,1105.44 L446.06,1105.88 L446.94,1106.33 L447.82,1106.8 L448.7,1107.29 L449.59,1107.79 L450.47,1108.31 L451.35,1108.84 L452.23,1109.39 L453.11,1109.95 L453.99,1110.53 L454.88,1111.12 L455.76,1111.73 L456.64,1112.35 L457.52,1112.99 L458.4,1113.64 L459.28,1114.31 L460.16,1114.99 L461.05,1115.69 L461.93,1116.39 L462.81,1117.12 L463.69,1117.85 L464.57,1118.6 L465.45,1119.37 L466.34,1120.14 L467.22,1120.93 L468.1,1121.73 L468.98,1122.55 L469.86,1123.38 L470.74,1124.22 L471.62,1125.07 L472.51,1125.93 L473.39,1126.81 L474.27,1127.7 L475.15,1128.59 L476.03,1129.51 L476.91,1130.43 L477.8,1131.36 L478.68,1132.3 L479.56,1133.26 L480.44,1134.22 L481.32,1135.19 L482.2,1136.18 L483.08,1137.17 L483.97,1138.18 L484.85,1139.19 L485.73,1140.21 L486.61,1141.24 L487.49,1142.29 L488.37,1143.33 L489.26,1144.39 L490.14,1145.46 L491.02,1146.53 L491.9,1147.62 L492.78,1148.71 L493.66,1149.8 L494.54,1150.91 L495.43,1152.02 L496.31,1153.14 L497.19,1154.27 L498.07,1155.4 L498.95,1156.54 L499.83,1157.69 L500.72,1158.84 L501.6,1159.99 L502.48,1161.16 L503.36,1162.33 L504.24,1163.5 L505.12,1164.68 L506,1165.86 L506.89,1167.05 L507.77,1168.25 L508.65,1169.44 L509.53,1170.65 L510.41,1171.85 L511.29,1173.06 L512.18,1174.27 L513.06,1175.49 L513.94,1176.71 L514.82,1177.93 L515.7,1179.16 L516.58,1180.39 L517.46,1181.62 L518.35,1182.85 L519.23,1184.09 L520.11,1185.32 L520.99,1186.56 L521.87,1187.8 L522.75,1189.05 L523.64,1190.29 L524.52,1191.53 L525.4,1192.78 L526.28,1194.03 L527.16,1195.27 L528.04,1196.52 L528.92,1197.77 L529.81,1199.02 L530.69,1200.26 L531.57,1201.51 L532.45,1202.76 L533.33,1204.01 L534.21,1205.25 L535.1,1206.5 L535.98,1207.74 L536.86,1208.98 L537.74,1210.23 L538.62,1211.47 L539.5,1212.7 L540.38,1213.94 L541.27,1215.18 L542.15,1216.41 L543.03,1217.64 L543.91,1218.87 L544.79,1220.09 L545.67,1221.32 L546.56,1222.54 L547.44,1223.76 L548.32,1224.97 L549.2,1226.18 L550.08,1227.39 L550.96,1228.6 L551.84,1229.8 L552.73,1231 L553.61,1232.19 L554.49,1233.38 L555.37,1234.57 L556.25,1235.75 L557.13,1236.93 L558.02,1238.11 L558.9,1239.28 L559.78,1240.44 L560.66,1241.6 L561.54,1242.76 L562.42,1243.91 L563.3,1245.06 L564.19,1246.2 L565.07,1247.33 L565.95,1248.47 L566.83,1249.59 L567.71,1250.71 L568.59,1251.83 L569.47,1252.94 L570.36,1254.04 L571.24,1255.14 L572.12,1256.23 L573,1257.32 L573.88,1258.4 L574.76,1259.48 L575.65,1260.55 L576.53,1261.61 L577.41,1262.67 L578.29,1263.72 L579.17,1264.76 L580.05,1265.8 L580.93,1266.83 L581.82,1267.86 L582.7,1268.87 L583.58,1269.89 L584.46,1270.89 L585.34,1271.89 L586.22,1272.88 L587.11,1273.87 L587.99,1274.85 L588.87,1275.82 L589.75,1276.78 L590.63,1277.74 L591.51,1278.69 L592.39,1279.64 L593.28,1280.57 L594.16,1281.5 L595.04,1282.43 L595.92,1283.34 L596.8,1284.25 L597.68,1285.15 L598.57,1286.05 L599.45,1286.93 L600.33,1287.81 L601.21,1288.69 L602.09,1289.55 L602.97,1290.41 L603.85,1291.26 L604.74,1292.1 L605.62,1292.94 L606.5,1293.77 L607.38,1294.59 L608.26,1295.41 L609.14,1296.21 L610.03,1297.01 L610.91,1297.81 L611.79,1298.59 L612.67,1299.37 L613.55,1300.14 L614.43,1300.9 L615.31,1301.66 L616.2,1302.41 L617.08,1303.15 L617.96,1303.88 L618.84,1304.61 L619.72,1305.33 L620.6,1306.04 L621.49,1306.75 L622.37,1307.44 L623.25,1308.14 L624.13,1308.82 L625.01,1309.5 L625.89,1310.17 L626.77,1310.83 L627.66,1311.48 L628.54,1312.13 L629.42,1312.77 L630.3,1313.41 L631.18,1314.03 L632.06,1314.65 L632.95,1315.27 L633.83,1315.87 L634.71,1316.47 L635.59,1317.07 L636.47,1317.65 L637.35,1318.23 L638.23,1318.8 L639.12,1319.37 L640,1319.93 L640.88,1320.48 L641.76,1321.03 L642.64,1321.57 L643.52,1322.1 L644.41,1322.63 L645.29,1323.15 L646.17,1323.66 L647.05,1324.17 L647.93,1324.67 L648.81,1325.16 L649.69,1325.65 L650.58,1326.13 L651.46,1326.61 L652.34,1327.08 L653.22,1327.54 L654.1,1328 L654.98,1328.45 L655.87,1328.9 L656.75,1329.34 L657.63,1329.77 L658.51,1330.2 L659.39,1330.62 L660.27,1331.04 L661.15,1331.45 L662.04,1331.86 L662.92,1332.26 L663.8,1332.65 L664.68,1333.04 L665.56,1333.43 L666.44,1333.81 L667.33,1334.18 L668.21,1334.55 L669.09,1334.91 L669.97,1335.27 L670.85,1335.62 L671.73,1335.97 L672.61,1336.31 L673.5,1336.65 L674.38,1336.98 L675.26,1337.31 L676.14,1337.63 L677.02,1337.95 L677.9,1338.26 L678.79,1338.57 L679.67,1338.87 L680.55,1339.17 L681.43,1339.47 L682.31,1339.76 L683.19,1340.04 L684.07,1340.33 L684.96,1340.6 L685.84,1340.88 L686.72,1341.15 L687.6,1341.41 L688.48,1341.67 L689.36,1341.93 L690.25,1342.18 L691.13,1342.43 L692.01,1342.67 L692.89,1342.91 L693.77,1343.15 L694.65,1343.38 L695.53,1343.61 L696.42,1343.84 L697.3,1344.06 L698.18,1344.28 L699.06,1344.49 L699.94,1344.7 L700.82,1344.91 L701.71,1345.11 L702.59,1345.31 L703.47,1345.51 L704.35,1345.7 L705.23,1345.89 L706.11,1346.08 L706.99,1346.27 L707.88,1346.45 L708.76,1346.63 L709.64,1346.8 L710.52,1346.97 L711.4,1347.14 L712.28,1347.31 L713.17,1347.47 L714.05,1347.63 L714.93,1347.79 L715.81,1347.94 L716.69,1348.1 L717.57,1348.25 L718.45,1348.39 L719.34,1348.54 L720.22,1348.68 L721.1,1348.82 L721.98,1348.95 L722.86,1349.09 L723.74,1349.22 L724.63,1349.35 L725.51,1349.48 L726.39,1349.6 L727.27,1349.72 L728.15,1349.84 L729.03,1349.96 L729.91,1350.08 L730.8,1350.19 L731.68,1350.3 L732.56,1350.41 L733.44,1350.52 L734.32,1350.63 L735.2,1350.73 L736.09,1350.83 L736.97,1350.93 L737.85,1351.03 L738.73,1351.13 L739.61,1351.22 L740.49,1351.31 L741.37,1351.4 L742.26,1351.49 L743.14,1351.58 L744.02,1351.67 L744.9,1351.75 L745.78,1351.83 L746.66,1351.91 L747.55,1351.99 L748.43,1352.07 L749.31,1352.15 L750.19,1352.22 L751.07,1352.3 L751.95,1352.37 L752.83,1352.44 L753.72,1352.51 L754.6,1352.58 L755.48,1352.64 L756.36,1352.71 L757.24,1352.77 L758.12,1352.83 L759.01,1352.9 L759.89,1352.96 L760.77,1353.02 L761.65,1353.07 L762.53,1353.13 L763.41,1353.19 L764.29,1353.24 L765.18,1353.29 L766.06,1353.35 L766.94,1353.4 L767.82,1353.45 L768.7,1353.5 L769.58,1353.55 L770.46,1353.6 L771.35,1353.64 L772.23,1353.69 L773.11,1353.73 L773.99,1353.78 L774.87,1353.82 L775.75,1353.86 L776.64,1353.9 L777.52,1353.94 L778.4,1353.98 L779.28,1354.02 L780.16,1354.06 L781.04,1354.1 L781.92,1354.14 L782.81,1354.17 L783.69,1354.21 L784.57,1354.24 L785.45,1354.28 L786.33,1354.31 L787.21,1354.34 L788.1,1354.37 L788.98,1354.4 L789.86,1354.44 L790.74,1354.47 L791.62,1354.49 L792.5,1354.52 L793.38,1354.55 L794.27,1354.58 L795.15,1354.61 L796.03,1354.63 L796.91,1354.66 L797.79,1354.69 L798.67,1354.71 L799.56,1354.74 L800.44,1354.76 L801.32,1354.78 L802.2,1354.81 L803.08,1354.83 L803.96,1354.85 L804.84,1354.88 L805.73,1354.9 L806.61,1354.92 L807.49,1354.94 L808.37,1354.96 L809.25,1354.98 L810.13,1355 L811.02,1355.02 L811.9,1355.04 L812.78,1355.06 L813.66,1355.07 L814.54,1355.09 L815.42,1355.11 L816.3,1355.13 L817.19,1355.14 L818.07,1355.16 L818.95,1355.18 L819.83,1355.19 L820.71,1355.21 L821.59,1355.22 L822.48,1355.24 L823.36,1355.25 L824.24,1355.27 L825.12,1355.28 L826,1355.3 L826.88,1355.31 L827.76,1355.32 L828.65,1355.34 L829.53,1355.35 L830.41,1355.36 L831.29,1355.38 L832.17,1355.39 L833.05,1355.4 L833.94,1355.41 L834.82,1355.43 L835.7,1355.44 L836.58,1355.45 L837.46,1355.46 L838.34,1355.47 L839.22,1355.48 L840.11,1355.49 L840.99,1355.5 L841.87,1355.52 L842.75,1355.53 L843.63,1355.54 L844.51,1355.55 L845.4,1355.56 L846.28,1355.57 L847.16,1355.57 L848.04,1355.58 L848.92,1355.59 L849.8,1355.6 L850.68,1355.61 L851.57,1355.62 L852.45,1355.63 L853.33,1355.64 L854.21,1355.65 L855.09,1355.65 L855.97,1355.66 L856.86,1355.67 L857.74,1355.68 L858.62,1355.69 L859.5,1355.69" stroke="#dd0000" stroke-width="7"/>
</g>
<g fill="#000" clip-path="url(#clipc)"><circle cx="75.44" cy="1327.44" r="3"/><circle cx="92.39" cy="1326.79" r="3"/><circle cx="109.29" cy="1325.69" r="3"/><circle cx="126.11" cy="1323.98" r="3"/><circle cx="142.81" cy="1321.46" r="3"/><circle cx="159.29" cy="1317.92" r="3"/><circle cx="175.44" cy="1313.15" r="3"/><circle cx="191.12" cy="1307.06" r="3"/><circle cx="206.2" cy="1299.61" r="3"/><circle cx="220.58" cy="1290.88" r="3"/><circle cx="234.21" cy="1280.99" r="3"/><circle cx="247.1" cy="1270.12" r="3"/><circle cx="259.26" cy="1258.42" r="3"/><circle cx="270.73" cy="1246.03" r="3"/><circle cx="281.54" cy="1233.05" r="3"/><circle cx="291.73" cy="1219.55" r="3"/><circle cx="301.31" cy="1205.61" r="3"/><circle cx="310.32" cy="1191.28" r="3"/><circle cx="318.76" cy="1176.62" r="3"/><circle cx="326.69" cy="1161.66" r="3"/><circle cx="334.14" cy="1146.45" r="3"/><circle cx="341.16" cy="1131.03" r="3"/><circle cx="347.79" cy="1115.42" r="3"/><circle cx="354.08" cy="1099.67" r="3"/><circle cx="360.08" cy="1083.8" r="3"/><circle cx="365.82" cy="1067.84" r="3"/><circle cx="371.36" cy="1051.79" r="3"/><circle cx="376.72" cy="1035.68" r="3"/><circle cx="381.95" cy="1019.52" r="3"/><circle cx="387.08" cy="1003.32" r="3"/><circle cx="392.15" cy="987.1" r="3"/><circle cx="397.2" cy="970.86" r="3"/><circle cx="402.26" cy="954.63" r="3"/><circle cx="407.39" cy="938.41" r="3"/><circle cx="412.65" cy="922.22" r="3"/><circle cx="418.13" cy="906.1" r="3"/><circle cx="423.96" cy="890.07" r="3"/><circle cx="430.37" cy="874.22" r="3"/><circle cx="437.81" cy="858.75" r="3"/><circle cx="447.63" cy="844.32" r="3"/><circle cx="464.65" cy="837.94" r="3"/><circle cx="477.91" cy="850.11" r="3"/><circle cx="486.07" cy="865.36" r="3"/><circle cx="492.53" cy="881.22" r="3"/><circle cx="498.17" cy="897.33" r="3"/><circle cx="503.33" cy="913.58" r="3"/><circle cx="508.18" cy="929.91" r="3"/><circle cx="512.84" cy="946.27" r="3"/><circle cx="517.38" cy="962.67" r="3"/><circle cx="521.86" cy="979.07" r="3"/><circle cx="526.32" cy="995.48" r="3"/><circle cx="530.8" cy="1011.87" r="3"/><circle cx="535.35" cy="1028.24" r="3"/><circle cx="540" cy="1044.57" r="3"/><circle cx="544.79" cy="1060.86" r="3"/><circle cx="549.77" cy="1077.09" r="3"/><circle cx="555" cy="1093.23" r="3"/><circle cx="560.54" cy="1109.26" r="3"/><circle cx="566.46" cy="1125.13" r="3"/><circle cx="572.87" cy="1140.8" r="3"/><circle cx="579.89" cy="1156.19" r="3"/><circle cx="587.64" cy="1171.2" r="3"/><circle cx="596.24" cy="1185.7" r="3"/><circle cx="605.78" cy="1199.61" r="3"/><circle cx="616.2" cy="1212.88" r="3"/><circle cx="627.32" cy="1225.64" r="3"/><circle cx="638.83" cy="1238.09" r="3"/><circle cx="650.49" cy="1250.46" r="3"/><circle cx="662.14" cy="1262.84" r="3"/><circle cx="673.8" cy="1275.21" r="3"/><circle cx="685.56" cy="1287.44" r="3"/><circle cx="697.6" cy="1299.34" r="3"/><circle cx="710.11" cy="1310.67" r="3"/><circle cx="723.33" cy="1321.09" r="3"/><circle cx="737.42" cy="1330.22" r="3"/><circle cx="752.42" cy="1337.68" r="3"/><circle cx="768.21" cy="1343.27" r="3"/><circle cx="784.56" cy="1347.1" r="3"/><circle cx="801.24" cy="1349.54" r="3"/><circle cx="818.09" cy="1351" r="3"/><circle cx="835.01" cy="1351.88" r="3"/><circle cx="851.97" cy="1352.41" r="3"/><circle cx="824.5" cy="1365.5" r="3"/><circle cx="843.25" cy="1368" r="3"/></g>
<g clip-path="url(#clipc)"><path d="M67,1329.65 L67.88,1329.63 L68.76,1329.61 L69.64,1329.59 L70.53,1329.57 L71.41,1329.55 L72.29,1329.53 L73.17,1329.51 L74.05,1329.48 L74.93,1329.46 L75.82,1329.43 L76.7,1329.41 L77.58,1329.38 L78.46,1329.35 L79.34,1329.32 L80.22,1329.29 L81.1,1329.26 L81.99,1329.23 L82.87,1329.2 L83.75,1329.17 L84.63,1329.13 L85.51,1329.1 L86.39,1329.06 L87.28,1329.02 L88.16,1328.99 L89.04,1328.95 L89.92,1328.91 L90.8,1328.87 L91.68,1328.82 L92.56,1328.78 L93.45,1328.73 L94.33,1328.69 L95.21,1328.64 L96.09,1328.59 L96.97,1328.54 L97.85,1328.49 L98.74,1328.44 L99.62,1328.38 L100.5,1328.33 L101.38,1328.27 L102.26,1328.21 L103.14,1328.15 L104.02,1328.09 L104.91,1328.03 L105.79,1327.97 L106.67,1327.9 L107.55,1327.83 L108.43,1327.77 L109.31,1327.7 L110.2,1327.62 L111.08,1327.55 L111.96,1327.47 L112.84,1327.4 L113.72,1327.32 L114.6,1327.24 L115.48,1327.15 L116.37,1327.07 L117.25,1326.98 L118.13,1326.89 L119.01,1326.8 L119.89,1326.71 L120.77,1326.62 L121.66,1326.52 L122.54,1326.42 L123.42,1326.32 L124.3,1326.22 L125.18,1326.11 L126.06,1326.01 L126.94,1325.9 L127.83,1325.78 L128.71,1325.67 L129.59,1325.55 L130.47,1325.43 L131.35,1325.31 L132.23,1325.19 L133.12,1325.06 L134,1324.93 L134.88,1324.8 L135.76,1324.67 L136.64,1324.53 L137.52,1324.39 L138.4,1324.25 L139.29,1324.1 L140.17,1323.96 L141.05,1323.81 L141.93,1323.65 L142.81,1323.5 L143.69,1323.34 L144.58,1323.17 L145.46,1323.01 L146.34,1322.84 L147.22,1322.67 L148.1,1322.49 L148.98,1322.31 L149.86,1322.13 L150.75,1321.95 L151.63,1321.76 L152.51,1321.57 L153.39,1321.37 L154.27,1321.18 L155.15,1320.97 L156.04,1320.77 L156.92,1320.56 L157.8,1320.35 L158.68,1320.13 L159.56,1319.91 L160.44,1319.69 L161.32,1319.46 L162.21,1319.23 L163.09,1318.99 L163.97,1318.75 L164.85,1318.51 L165.73,1318.26 L166.61,1318.01 L167.49,1317.76 L168.38,1317.5 L169.26,1317.24 L170.14,1316.97 L171.02,1316.7 L171.9,1316.42 L172.78,1316.14 L173.67,1315.85 L174.55,1315.57 L175.43,1315.27 L176.31,1314.97 L177.19,1314.67 L178.07,1314.36 L178.95,1314.05 L179.84,1313.73 L180.72,1313.41 L181.6,1313.09 L182.48,1312.75 L183.36,1312.42 L184.24,1312.08 L185.13,1311.73 L186.01,1311.38 L186.89,1311.03 L187.77,1310.66 L188.65,1310.3 L189.53,1309.93 L190.41,1309.55 L191.3,1309.17 L192.18,1308.78 L193.06,1308.39 L193.94,1307.99 L194.82,1307.59 L195.7,1307.18 L196.59,1306.77 L197.47,1306.35 L198.35,1305.92 L199.23,1305.49 L200.11,1305.06 L200.99,1304.62 L201.87,1304.17 L202.76,1303.72 L203.64,1303.26 L204.52,1302.79 L205.4,1302.32 L206.28,1301.85 L207.16,1301.36 L208.05,1300.88 L208.93,1300.38 L209.81,1299.88 L210.69,1299.38 L211.57,1298.86 L212.45,1298.34 L213.33,1297.82 L214.22,1297.29 L215.1,1296.75 L215.98,1296.21 L216.86,1295.66 L217.74,1295.1 L218.62,1294.54 L219.51,1293.97 L220.39,1293.4 L221.27,1292.82 L222.15,1292.23 L223.03,1291.64 L223.91,1291.04 L224.79,1290.43 L225.68,1289.81 L226.56,1289.19 L227.44,1288.57 L228.32,1287.93 L229.2,1287.29 L230.08,1286.65 L230.97,1285.99 L231.85,1285.33 L232.73,1284.67 L233.61,1283.99 L234.49,1283.31 L235.37,1282.62 L236.25,1281.93 L237.14,1281.23 L238.02,1280.52 L238.9,1279.8 L239.78,1279.08 L240.66,1278.35 L241.54,1277.61 L242.43,1276.87 L243.31,1276.12 L244.19,1275.36 L245.07,1274.6 L245.95,1273.82 L246.83,1273.04 L247.71,1272.26 L248.6,1271.46 L249.48,1270.66 L250.36,1269.85 L251.24,1269.04 L252.12,1268.21 L253,1267.38 L253.89,1266.54 L254.77,1265.7 L255.65,1264.84 L256.53,1263.98 L257.41,1263.12 L258.29,1262.24 L259.17,1261.36 L260.06,1260.46 L260.94,1259.57 L261.82,1258.66 L262.7,1257.74 L263.58,1256.82 L264.46,1255.89 L265.35,1254.95 L266.23,1254.01 L267.11,1253.05 L267.99,1252.09 L268.87,1251.12 L269.75,1250.14 L270.63,1249.16 L271.52,1248.16 L272.4,1247.16 L273.28,1246.15 L274.16,1245.13 L275.04,1244.1 L275.92,1243.06 L276.81,1242.02 L277.69,1240.96 L278.57,1239.9 L279.45,1238.83 L280.33,1237.75 L281.21,1236.66 L282.09,1235.56 L282.98,1234.46 L283.86,1233.34 L284.74,1232.22 L285.62,1231.08 L286.5,1229.94 L287.38,1228.78 L288.27,1227.62 L289.15,1226.45 L290.03,1225.27 L290.91,1224.08 L291.79,1222.87 L292.67,1221.66 L293.55,1220.44 L294.44,1219.21 L295.32,1217.97 L296.2,1216.71 L297.08,1215.45 L297.96,1214.18 L298.84,1212.89 L299.73,1211.6 L300.61,1210.29 L301.49,1208.97 L302.37,1207.64 L303.25,1206.3 L304.13,1204.95 L305.01,1203.59 L305.9,1202.22 L306.78,1200.83 L307.66,1199.43 L308.54,1198.02 L309.42,1196.6 L310.3,1195.16 L311.19,1193.71 L312.07,1192.25 L312.95,1190.78 L313.83,1189.29 L314.71,1187.79 L315.59,1186.28 L316.47,1184.76 L317.36,1183.22 L318.24,1181.66 L319.12,1180.1 L320,1178.52 L320.88,1176.92 L321.76,1175.31 L322.65,1173.69 L323.53,1172.05 L324.41,1170.39 L325.29,1168.72 L326.17,1167.04 L327.05,1165.34 L327.93,1163.63 L328.82,1161.9 L329.7,1160.15 L330.58,1158.39 L331.46,1156.61 L332.34,1154.82 L333.22,1153.01 L334.11,1151.19 L334.99,1149.34 L335.87,1147.48 L336.75,1145.61 L337.63,1143.71 L338.51,1141.8 L339.39,1139.88 L340.28,1137.93 L341.16,1135.97 L342.04,1133.99 L342.92,1132 L343.8,1129.98 L344.68,1127.95 L345.57,1125.9 L346.45,1123.83 L347.33,1121.75 L348.21,1119.64 L349.09,1117.52 L349.97,1115.38 L350.85,1113.22 L351.74,1111.05 L352.62,1108.85 L353.5,1106.64 L354.38,1104.41 L355.26,1102.16 L356.14,1099.89 L357.03,1097.61 L357.91,1095.31 L358.79,1092.98 L359.67,1090.65 L360.55,1088.29 L361.43,1085.91 L362.31,1083.52 L363.2,1081.11 L364.08,1078.69 L364.96,1076.24 L365.84,1073.78 L366.72,1071.3 L367.6,1068.81 L368.48,1066.3 L369.37,1063.77 L370.25,1061.22 L371.13,1058.66 L372.01,1056.09 L372.89,1053.5 L373.77,1050.89 L374.66,1048.27 L375.54,1045.64 L376.42,1042.99 L377.3,1040.32 L378.18,1037.65 L379.06,1034.96 L379.94,1032.26 L380.83,1029.54 L381.71,1026.82 L382.59,1024.08 L383.47,1021.34 L384.35,1018.58 L385.23,1015.81 L386.12,1013.03 L387,1010.25 L387.88,1007.46 L388.76,1004.66 L389.64,1001.85 L390.52,999.04 L391.4,996.22 L392.29,993.39 L393.17,990.56 L394.05,987.73 L394.93,984.9 L395.81,982.06 L396.69,979.22 L397.58,976.39 L398.46,973.55 L399.34,970.71 L400.22,967.88 L401.1,965.04 L401.98,962.22 L402.86,959.39 L403.75,956.57 L404.63,953.76 L405.51,950.96 L406.39,948.16 L407.27,945.37 L408.15,942.6 L409.04,939.83 L409.92,937.08 L410.8,934.34 L411.68,931.61 L412.56,928.9 L413.44,926.21 L414.32,923.54 L415.21,920.88 L416.09,918.24 L416.97,915.63 L417.85,913.03 L418.73,910.46 L419.61,907.92 L420.5,905.4 L421.38,902.91 L422.26,900.44 L423.14,898.01 L424.02,895.61 L424.9,893.24 L425.78,890.9 L426.67,888.6 L427.55,886.33 L428.43,884.1 L429.31,881.91 L430.19,879.76 L431.07,877.65 L431.96,875.58 L432.84,873.56 L433.72,871.58 L434.6,869.65 L435.48,867.76 L436.36,865.93 L437.24,864.15 L438.13,862.41 L439.01,860.73 L439.89,859.11 L440.77,857.54 L441.65,856.02 L442.53,854.57 L443.42,853.17 L444.3,851.84 L445.18,850.56 L446.06,849.35 L446.94,848.2 L447.82,847.12 L448.7,846.1 L449.59,845.15 L450.47,844.27 L451.35,843.46 L452.23,842.71 L453.11,842.04 L453.99,841.44 L454.88,840.91 L455.76,840.46 L456.64,840.07 L457.52,839.77 L458.4,839.53 L459.28,839.37 L460.16,839.29 L461.05,839.29 L461.93,839.36 L462.81,839.5 L463.69,839.73 L464.57,840.03 L465.45,840.41 L466.34,840.86 L467.22,841.39 L468.1,842 L468.98,842.69 L469.86,843.45 L470.74,844.29 L471.62,845.2 L472.51,846.19 L473.39,847.26 L474.27,848.39 L475.15,849.61 L476.03,850.89 L476.91,852.25 L477.8,853.67 L478.68,855.17 L479.56,856.74 L480.44,858.37 L481.32,860.07 L482.2,861.84 L483.08,863.67 L483.97,865.57 L484.85,867.53 L485.73,869.55 L486.61,871.63 L487.49,873.77 L488.37,875.96 L489.26,878.21 L490.14,880.52 L491.02,882.88 L491.9,885.29 L492.78,887.75 L493.66,890.26 L494.54,892.81 L495.43,895.41 L496.31,898.05 L497.19,900.74 L498.07,903.47 L498.95,906.23 L499.83,909.04 L500.72,911.88 L501.6,914.75 L502.48,917.65 L503.36,920.59 L504.24,923.56 L505.12,926.55 L506,929.57 L506.89,932.62 L507.77,935.69 L508.65,938.78 L509.53,941.89 L510.41,945.02 L511.29,948.17 L512.18,951.33 L513.06,954.51 L513.94,957.7 L514.82,960.9 L515.7,964.11 L516.58,967.33 L517.46,970.56 L518.35,973.79 L519.23,977.03 L520.11,980.27 L520.99,983.51 L521.87,986.76 L522.75,990 L523.64,993.24 L524.52,996.48 L525.4,999.71 L526.28,1002.94 L527.16,1006.17 L528.04,1009.38 L528.92,1012.59 L529.81,1015.78 L530.69,1018.97 L531.57,1022.15 L532.45,1025.31 L533.33,1028.46 L534.21,1031.59 L535.1,1034.71 L535.98,1037.81 L536.86,1040.9 L537.74,1043.97 L538.62,1047.02 L539.5,1050.05 L540.38,1053.05 L541.27,1056.04 L542.15,1059.01 L543.03,1061.96 L543.91,1064.88 L544.79,1067.78 L545.67,1070.65 L546.56,1073.5 L547.44,1076.33 L548.32,1079.13 L549.2,1081.9 L550.08,1084.65 L550.96,1087.37 L551.84,1090.07 L552.73,1092.73 L553.61,1095.37 L554.49,1097.99 L555.37,1100.57 L556.25,1103.12 L557.13,1105.65 L558.02,1108.14 L558.9,1110.61 L559.78,1113.05 L560.66,1115.46 L561.54,1117.84 L562.42,1120.19 L563.3,1122.51 L564.19,1124.8 L565.07,1127.06 L565.95,1129.29 L566.83,1131.49 L567.71,1133.66 L568.59,1135.81 L569.47,1137.92 L570.36,1140 L571.24,1142.06 L572.12,1144.09 L573,1146.08 L573.88,1148.05 L574.76,1149.99 L575.65,1151.91 L576.53,1153.79 L577.41,1155.65 L578.29,1157.48 L579.17,1159.28 L580.05,1161.06 L580.93,1162.81 L581.82,1164.53 L582.7,1166.23 L583.58,1167.91 L584.46,1169.55 L585.34,1171.18 L586.22,1172.78 L587.11,1174.35 L587.99,1175.91 L588.87,1177.44 L589.75,1178.94 L590.63,1180.43 L591.51,1181.89 L592.39,1183.34 L593.28,1184.76 L594.16,1186.16 L595.04,1187.54 L595.92,1188.9 L596.8,1190.25 L597.68,1191.57 L598.57,1192.88 L599.45,1194.17 L600.33,1195.44 L601.21,1196.7 L602.09,1197.94 L602.97,1199.16 L603.85,1200.37 L604.74,1201.57 L605.62,1202.75 L606.5,1203.92 L607.38,1205.07 L608.26,1206.21 L609.14,1207.34 L610.03,1208.46 L610.91,1209.57 L611.79,1210.66 L612.67,1211.75 L613.55,1212.82 L614.43,1213.89 L615.31,1214.94 L616.2,1215.99 L617.08,1217.03 L617.96,1218.06 L618.84,1219.09 L619.72,1220.1 L620.6,1221.11 L621.49,1222.11 L622.37,1223.11 L623.25,1224.1 L624.13,1225.09 L625.01,1226.07 L625.89,1227.05 L626.77,1228.02 L627.66,1228.99 L628.54,1229.95 L629.42,1230.91 L630.3,1231.87 L631.18,1232.82 L632.06,1233.78 L632.95,1234.72 L633.83,1235.67 L634.71,1236.62 L635.59,1237.56 L636.47,1238.5 L637.35,1239.44 L638.23,1240.38 L639.12,1241.32 L640,1242.26 L640.88,1243.19 L641.76,1244.13 L642.64,1245.06 L643.52,1246 L644.41,1246.93 L645.29,1247.87 L646.17,1248.8 L647.05,1249.74 L647.93,1250.67 L648.81,1251.6 L649.69,1252.54 L650.58,1253.47 L651.46,1254.41 L652.34,1255.35 L653.22,1256.28 L654.1,1257.22 L654.98,1258.15 L655.87,1259.09 L656.75,1260.03 L657.63,1260.96 L658.51,1261.9 L659.39,1262.84 L660.27,1263.78 L661.15,1264.71 L662.04,1265.65 L662.92,1266.59 L663.8,1267.53 L664.68,1268.46 L665.56,1269.4 L666.44,1270.34 L667.33,1271.27 L668.21,1272.21 L669.09,1273.14 L669.97,1274.07 L670.85,1275.01 L671.73,1275.94 L672.61,1276.87 L673.5,1277.8 L674.38,1278.72 L675.26,1279.65 L676.14,1280.57 L677.02,1281.49 L677.9,1282.41 L678.79,1283.33 L679.67,1284.25 L680.55,1285.16 L681.43,1286.07 L682.31,1286.98 L683.19,1287.88 L684.07,1288.78 L684.96,1289.68 L685.84,1290.57 L686.72,1291.46 L687.6,1292.35 L688.48,1293.23 L689.36,1294.11 L690.25,1294.99 L691.13,1295.86 L692.01,1296.73 L692.89,1297.59 L693.77,1298.44 L694.65,1299.3 L695.53,1300.14 L696.42,1300.98 L697.3,1301.82 L698.18,1302.65 L699.06,1303.47 L699.94,1304.29 L700.82,1305.11 L701.71,1305.91 L702.59,1306.72 L703.47,1307.51 L704.35,1308.3 L705.23,1309.08 L706.11,1309.86 L706.99,1310.63 L707.88,1311.39 L708.76,1312.14 L709.64,1312.89 L710.52,1313.63 L711.4,1314.37 L712.28,1315.09 L713.17,1315.81 L714.05,1316.52 L714.93,1317.23 L715.81,1317.92 L716.69,1318.61 L717.57,1319.29 L718.45,1319.97 L719.34,1320.63 L720.22,1321.29 L721.1,1321.94 L721.98,1322.58 L722.86,1323.22 L723.74,1323.84 L724.63,1324.46 L725.51,1325.07 L726.39,1325.67 L727.27,1326.27 L728.15,1326.85 L729.03,1327.43 L729.91,1328 L730.8,1328.56 L731.68,1329.12 L732.56,1329.66 L733.44,1330.2 L734.32,1330.73 L735.2,1331.25 L736.09,1331.76 L736.97,1332.27 L737.85,1332.76 L738.73,1333.25 L739.61,1333.73 L740.49,1334.21 L741.37,1334.67 L742.26,1335.13 L743.14,1335.58 L744.02,1336.02 L744.9,1336.45 L745.78,1336.88 L746.66,1337.3 L747.55,1337.71 L748.43,1338.11 L749.31,1338.51 L750.19,1338.9 L751.07,1339.28 L751.95,1339.65 L752.83,1340.02 L753.72,1340.38 L754.6,1340.73 L755.48,1341.08 L756.36,1341.42 L757.24,1341.75 L758.12,1342.08 L759.01,1342.4 L759.89,1342.71 L760.77,1343.02 L761.65,1343.32 L762.53,1343.61 L763.41,1343.9 L764.29,1344.18 L765.18,1344.45 L766.06,1344.72 L766.94,1344.98 L767.82,1345.24 L768.7,1345.49 L769.58,1345.74 L770.46,1345.98 L771.35,1346.21 L772.23,1346.44 L773.11,1346.67 L773.99,1346.89 L774.87,1347.1 L775.75,1347.31 L776.64,1347.51 L777.52,1347.71 L778.4,1347.9 L779.28,1348.09 L780.16,1348.28 L781.04,1348.46 L781.92,1348.64 L782.81,1348.81 L783.69,1348.98 L784.57,1349.14 L785.45,1349.3 L786.33,1349.45 L787.21,1349.6 L788.1,1349.75 L788.98,1349.9 L789.86,1350.04 L790.74,1350.17 L791.62,1350.31 L792.5,1350.44 L793.38,1350.56 L794.27,1350.68 L795.15,1350.8 L796.03,1350.92 L796.91,1351.03 L797.79,1351.14 L798.67,1351.25 L799.56,1351.36 L800.44,1351.46 L801.32,1351.56 L802.2,1351.65 L803.08,1351.75 L803.96,1351.84 L804.84,1351.93 L805.73,1352.02 L806.61,1352.1 L807.49,1352.18 L808.37,1352.26 L809.25,1352.34 L810.13,1352.41 L811.02,1352.49 L811.9,1352.56 L812.78,1352.63 L813.66,1352.7 L814.54,1352.76 L815.42,1352.83 L816.3,1352.89 L817.19,1352.95 L818.07,1353.01 L818.95,1353.07 L819.83,1353.12 L820.71,1353.18 L821.59,1353.23 L822.48,1353.28 L823.36,1353.33 L824.24,1353.38 L825.12,1353.43 L826,1353.47 L826.88,1353.52 L827.76,1353.56 L828.65,1353.6 L829.53,1353.64 L830.41,1353.68 L831.29,1353.72 L832.17,1353.76 L833.05,1353.8 L833.94,1353.84 L834.82,1353.87 L835.7,1353.9 L836.58,1353.94 L837.46,1353.97 L838.34,1354 L839.22,1354.03 L840.11,1354.06 L840.99,1354.09 L841.87,1354.12 L842.75,1354.15 L843.63,1354.18 L844.51,1354.21 L845.4,1354.23 L846.28,1354.26 L847.16,1354.28 L848.04,1354.31 L848.92,1354.33 L849.8,1354.35 L850.68,1354.38 L851.57,1354.4 L852.45,1354.42 L853.33,1354.44 L854.21,1354.46 L855.09,1354.48 L855.97,1354.5 L856.86,1354.52 L857.74,1354.54 L858.62,1354.56 L859.5,1354.58" stroke="#4a8522" stroke-width="7" fill="none"/></g>
<text transform="translate(549.5,843.3) scale(1,1.05)" font-family="'Liberation Serif','Times New Roman',serif" font-size="38.5">529.4 eV</text>
<text transform="translate(569.5,898.3) scale(1,1.05)" font-family="'Liberation Serif','Times New Roman',serif" font-size="38.5">O 1s</text>
<path d="M472.00,827.80 L528.75,827.80" stroke="#a8a8a8" stroke-width="2.4"/>
<path d="M540.75,827.80 L526.75,832.80 L526.75,822.80 z" fill="#000"/>
<g clip-path="url(#clipd)" fill="none" stroke-linejoin="round">
<path d="M929,1423.2 H1721" stroke="#d04040" stroke-width="1.4"/>
<path d="M929,1419.25 H1721" stroke="#8a8a8a" stroke-width="5"/>
<path d="M929.1,1217.3 L935.9,1176.5 L978.1,1036.3 L1021.6,937 L1065.1,877.7 L1108.7,846.7 L1151,838.5 L1193.5,847.6 L1236.5,879.7 L1279.5,929.5 L1322.5,986 L1365.5,1041 L1408.5,1097 L1451.5,1150 L1495,1208 L1538.5,1265.5 L1581,1313 L1623.5,1358 L1666,1398 L1706,1415.5" stroke="#e01b22" stroke-width="2.6"/>
</g>
<g fill="#1a1a1a" clip-path="url(#clipd)"><circle cx="933.63" cy="1164.16" r="4.9"/><circle cx="942.76" cy="1148.65" r="4.9"/><circle cx="951.76" cy="1133.06" r="4.9"/><circle cx="960.63" cy="1117.4" r="4.9"/><circle cx="969.42" cy="1101.69" r="4.9"/><circle cx="978.15" cy="1085.95" r="4.9"/><circle cx="986.84" cy="1070.18" r="4.9"/><circle cx="995.51" cy="1054.41" r="4.9"/><circle cx="1004.19" cy="1038.64" r="4.9"/><circle cx="1012.91" cy="1022.89" r="4.9"/><circle cx="1021.69" cy="1007.18" r="4.9"/><circle cx="1030.58" cy="991.53" r="4.9"/><circle cx="1039.6" cy="975.95" r="4.9"/><circle cx="1048.79" cy="960.48" r="4.9"/><circle cx="1058.21" cy="945.14" r="4.9"/><circle cx="1067.91" cy="929.98" r="4.9"/><circle cx="1077.97" cy="915.05" r="4.9"/><circle cx="1088.46" cy="900.42" r="4.9"/><circle cx="1099.5" cy="886.21" r="4.9"/><circle cx="1111.23" cy="872.56" r="4.9"/><circle cx="1123.83" cy="859.72" r="4.9"/><circle cx="1137.55" cy="848.07" r="4.9"/><circle cx="1152.61" cy="838.25" r="4.9"/><circle cx="1169.16" cy="831.24" r="4.9"/><circle cx="1186.86" cy="828.29" r="4.9"/><circle cx="1204.71" cy="830.13" r="4.9"/><circle cx="1221.59" cy="836.28" r="4.9"/><circle cx="1237" cy="845.54" r="4.9"/><circle cx="1251.01" cy="856.82" r="4.9"/><circle cx="1263.86" cy="869.42" r="4.9"/><circle cx="1275.78" cy="882.9" r="4.9"/><circle cx="1286.97" cy="897" r="4.9"/><circle cx="1297.58" cy="911.54" r="4.9"/><circle cx="1307.73" cy="926.41" r="4.9"/><circle cx="1317.51" cy="941.52" r="4.9"/><circle cx="1326.99" cy="956.82" r="4.9"/><circle cx="1336.23" cy="972.26" r="4.9"/><circle cx="1345.29" cy="987.82" r="4.9"/><circle cx="1354.2" cy="1003.46" r="4.9"/><circle cx="1363.01" cy="1019.16" r="4.9"/><circle cx="1371.74" cy="1034.9" r="4.9"/><circle cx="1380.43" cy="1050.66" r="4.9"/><circle cx="1389.1" cy="1066.43" r="4.9"/><circle cx="1397.78" cy="1082.2" r="4.9"/><circle cx="1406.5" cy="1097.95" r="4.9"/><circle cx="1415.27" cy="1113.67" r="4.9"/><circle cx="1424.12" cy="1129.34" r="4.9"/><circle cx="1433.09" cy="1144.95" r="4.9"/><circle cx="1442.19" cy="1160.48" r="4.9"/><circle cx="1451.44" cy="1175.92" r="4.9"/><circle cx="1460.89" cy="1191.24" r="4.9"/><circle cx="1470.56" cy="1206.42" r="4.9"/><circle cx="1480.47" cy="1221.45" r="4.9"/><circle cx="1490.67" cy="1236.28" r="4.9"/><circle cx="1501.19" cy="1250.88" r="4.9"/><circle cx="1512.07" cy="1265.22" r="4.9"/><circle cx="1523.34" cy="1279.25" r="4.9"/><circle cx="1535.06" cy="1292.92" r="4.9"/><circle cx="1547.26" cy="1306.15" r="4.9"/><circle cx="1559.97" cy="1318.89" r="4.9"/><circle cx="1573.25" cy="1331.05" r="4.9"/><circle cx="1587.1" cy="1342.54" r="4.9"/><circle cx="1601.54" cy="1353.28" r="4.9"/><circle cx="1616.57" cy="1363.18" r="4.9"/><circle cx="1632.16" cy="1372.18" r="4.9"/><circle cx="1648.26" cy="1380.22" r="4.9"/><circle cx="1664.81" cy="1387.27" r="4.9"/><circle cx="1681.75" cy="1393.37" r="4.9"/><circle cx="1698.99" cy="1398.53" r="4.9"/><circle cx="1716.46" cy="1402.85" r="4.9"/></g>
<g clip-path="url(#clipd)"><path d="M929,1171.88 L929.88,1170.42 L930.76,1168.95 L931.64,1167.48 L932.52,1166.01 L933.4,1164.54 L934.29,1163.06 L935.17,1161.57 L936.05,1160.09 L936.93,1158.6 L937.81,1157.1 L938.69,1155.61 L939.57,1154.11 L940.45,1152.6 L941.33,1151.1 L942.21,1149.59 L943.1,1148.08 L943.98,1146.56 L944.86,1145.04 L945.74,1143.52 L946.62,1142 L947.5,1140.47 L948.38,1138.94 L949.26,1137.41 L950.14,1135.87 L951.02,1134.34 L951.91,1132.8 L952.79,1131.25 L953.67,1129.71 L954.55,1128.16 L955.43,1126.61 L956.31,1125.06 L957.19,1123.5 L958.07,1121.94 L958.95,1120.38 L959.83,1118.82 L960.72,1117.26 L961.6,1115.69 L962.48,1114.12 L963.36,1112.55 L964.24,1110.98 L965.12,1109.41 L966,1107.83 L966.88,1106.26 L967.76,1104.68 L968.64,1103.1 L969.53,1101.51 L970.41,1099.93 L971.29,1098.34 L972.17,1096.76 L973.05,1095.17 L973.93,1093.58 L974.81,1091.99 L975.69,1090.4 L976.57,1088.81 L977.45,1087.21 L978.33,1085.62 L979.22,1084.02 L980.1,1082.42 L980.98,1080.83 L981.86,1079.23 L982.74,1077.63 L983.62,1076.03 L984.5,1074.43 L985.38,1072.83 L986.26,1071.23 L987.14,1069.62 L988.03,1068.02 L988.91,1066.42 L989.79,1064.82 L990.67,1063.21 L991.55,1061.61 L992.43,1060.01 L993.31,1058.4 L994.19,1056.8 L995.07,1055.2 L995.95,1053.6 L996.84,1051.99 L997.72,1050.39 L998.6,1048.79 L999.48,1047.19 L1000.36,1045.59 L1001.24,1043.99 L1002.12,1042.39 L1003,1040.79 L1003.88,1039.19 L1004.76,1037.6 L1005.65,1036 L1006.53,1034.41 L1007.41,1032.81 L1008.29,1031.22 L1009.17,1029.63 L1010.05,1028.04 L1010.93,1026.45 L1011.81,1024.86 L1012.69,1023.28 L1013.57,1021.7 L1014.45,1020.11 L1015.34,1018.53 L1016.22,1016.95 L1017.1,1015.38 L1017.98,1013.8 L1018.86,1012.23 L1019.74,1010.66 L1020.62,1009.09 L1021.5,1007.52 L1022.38,1005.96 L1023.26,1004.4 L1024.15,1002.84 L1025.03,1001.28 L1025.91,999.72 L1026.79,998.17 L1027.67,996.62 L1028.55,995.08 L1029.43,993.53 L1030.31,991.99 L1031.19,990.46 L1032.07,988.92 L1032.96,987.39 L1033.84,985.86 L1034.72,984.34 L1035.6,982.82 L1036.48,981.3 L1037.36,979.78 L1038.24,978.27 L1039.12,976.76 L1040,975.26 L1040.88,973.76 L1041.77,972.27 L1042.65,970.77 L1043.53,969.29 L1044.41,967.8 L1045.29,966.32 L1046.17,964.85 L1047.05,963.38 L1047.93,961.91 L1048.81,960.45 L1049.69,958.99 L1050.58,957.54 L1051.46,956.09 L1052.34,954.64 L1053.22,953.2 L1054.1,951.77 L1054.98,950.34 L1055.86,948.92 L1056.74,947.5 L1057.62,946.08 L1058.5,944.68 L1059.38,943.27 L1060.27,941.87 L1061.15,940.48 L1062.03,939.1 L1062.91,937.71 L1063.79,936.34 L1064.67,934.97 L1065.55,933.61 L1066.43,932.25 L1067.31,930.9 L1068.19,929.55 L1069.08,928.21 L1069.96,926.88 L1070.84,925.55 L1071.72,924.23 L1072.6,922.91 L1073.48,921.6 L1074.36,920.3 L1075.24,919.01 L1076.12,917.72 L1077,916.44 L1077.89,915.16 L1078.77,913.89 L1079.65,912.63 L1080.53,911.38 L1081.41,910.13 L1082.29,908.89 L1083.17,907.66 L1084.05,906.43 L1084.93,905.22 L1085.81,904.01 L1086.7,902.8 L1087.58,901.61 L1088.46,900.42 L1089.34,899.24 L1090.22,898.07 L1091.1,896.9 L1091.98,895.74 L1092.86,894.6 L1093.74,893.45 L1094.62,892.32 L1095.51,891.2 L1096.39,890.08 L1097.27,888.97 L1098.15,887.87 L1099.03,886.78 L1099.91,885.7 L1100.79,884.62 L1101.67,883.56 L1102.55,882.5 L1103.43,881.45 L1104.31,880.41 L1105.2,879.38 L1106.08,878.36 L1106.96,877.34 L1107.84,876.34 L1108.72,875.34 L1109.6,874.35 L1110.48,873.38 L1111.36,872.41 L1112.24,871.45 L1113.12,870.5 L1114.01,869.56 L1114.89,868.63 L1115.77,867.71 L1116.65,866.79 L1117.53,865.89 L1118.41,865 L1119.29,864.12 L1120.17,863.24 L1121.05,862.38 L1121.93,861.52 L1122.82,860.68 L1123.7,859.85 L1124.58,859.02 L1125.46,858.21 L1126.34,857.4 L1127.22,856.61 L1128.1,855.82 L1128.98,855.05 L1129.86,854.29 L1130.74,853.53 L1131.63,852.79 L1132.51,852.06 L1133.39,851.34 L1134.27,850.62 L1135.15,849.92 L1136.03,849.23 L1136.91,848.55 L1137.79,847.88 L1138.67,847.22 L1139.55,846.58 L1140.43,845.94 L1141.32,845.31 L1142.2,844.7 L1143.08,844.09 L1143.96,843.5 L1144.84,842.91 L1145.72,842.34 L1146.6,841.78 L1147.48,841.23 L1148.36,840.69 L1149.24,840.16 L1150.13,839.65 L1151.01,839.14 L1151.89,838.64 L1152.77,838.16 L1153.65,837.69 L1154.53,837.23 L1155.41,836.78 L1156.29,836.34 L1157.17,835.91 L1158.05,835.5 L1158.94,835.09 L1159.82,834.7 L1160.7,834.32 L1161.58,833.95 L1162.46,833.59 L1163.34,833.24 L1164.22,832.91 L1165.1,832.58 L1165.98,832.27 L1166.86,831.97 L1167.75,831.68 L1168.63,831.4 L1169.51,831.14 L1170.39,830.88 L1171.27,830.64 L1172.15,830.41 L1173.03,830.19 L1173.91,829.98 L1174.79,829.78 L1175.67,829.6 L1176.56,829.43 L1177.44,829.27 L1178.32,829.12 L1179.2,828.98 L1180.08,828.86 L1180.96,828.74 L1181.84,828.64 L1182.72,828.55 L1183.6,828.47 L1184.48,828.41 L1185.36,828.35 L1186.25,828.31 L1187.13,828.28 L1188.01,828.26 L1188.89,828.25 L1189.77,828.25 L1190.65,828.27 L1191.53,828.3 L1192.41,828.34 L1193.29,828.39 L1194.17,828.45 L1195.06,828.53 L1195.94,828.62 L1196.82,828.72 L1197.7,828.83 L1198.58,828.95 L1199.46,829.08 L1200.34,829.23 L1201.22,829.39 L1202.1,829.56 L1202.98,829.74 L1203.87,829.93 L1204.75,830.13 L1205.63,830.35 L1206.51,830.58 L1207.39,830.82 L1208.27,831.07 L1209.15,831.33 L1210.03,831.61 L1210.91,831.89 L1211.79,832.19 L1212.68,832.5 L1213.56,832.82 L1214.44,833.16 L1215.32,833.5 L1216.2,833.86 L1217.08,834.22 L1217.96,834.6 L1218.84,834.99 L1219.72,835.39 L1220.6,835.81 L1221.48,836.23 L1222.37,836.67 L1223.25,837.11 L1224.13,837.57 L1225.01,838.04 L1225.89,838.52 L1226.77,839.01 L1227.65,839.52 L1228.53,840.03 L1229.41,840.56 L1230.29,841.09 L1231.18,841.64 L1232.06,842.2 L1232.94,842.77 L1233.82,843.35 L1234.7,843.94 L1235.58,844.54 L1236.46,845.16 L1237.34,845.78 L1238.22,846.41 L1239.1,847.06 L1239.99,847.72 L1240.87,848.38 L1241.75,849.06 L1242.63,849.75 L1243.51,850.45 L1244.39,851.16 L1245.27,851.88 L1246.15,852.6 L1247.03,853.35 L1247.91,854.1 L1248.8,854.86 L1249.68,855.63 L1250.56,856.41 L1251.44,857.2 L1252.32,858 L1253.2,858.81 L1254.08,859.64 L1254.96,860.47 L1255.84,861.31 L1256.72,862.16 L1257.61,863.02 L1258.49,863.89 L1259.37,864.77 L1260.25,865.67 L1261.13,866.57 L1262.01,867.47 L1262.89,868.39 L1263.77,869.32 L1264.65,870.26 L1265.53,871.21 L1266.41,872.17 L1267.3,873.13 L1268.18,874.11 L1269.06,875.09 L1269.94,876.08 L1270.82,877.09 L1271.7,878.1 L1272.58,879.12 L1273.46,880.15 L1274.34,881.19 L1275.22,882.23 L1276.11,883.29 L1276.99,884.35 L1277.87,885.42 L1278.75,886.51 L1279.63,887.6 L1280.51,888.69 L1281.39,889.8 L1282.27,890.91 L1283.15,892.04 L1284.03,893.17 L1284.92,894.31 L1285.8,895.45 L1286.68,896.61 L1287.56,897.77 L1288.44,898.94 L1289.32,900.12 L1290.2,901.31 L1291.08,902.5 L1291.96,903.7 L1292.84,904.91 L1293.73,906.13 L1294.61,907.35 L1295.49,908.58 L1296.37,909.82 L1297.25,911.06 L1298.13,912.32 L1299.01,913.58 L1299.89,914.84 L1300.77,916.12 L1301.65,917.4 L1302.54,918.68 L1303.42,919.98 L1304.3,921.28 L1305.18,922.58 L1306.06,923.9 L1306.94,925.21 L1307.82,926.54 L1308.7,927.87 L1309.58,929.21 L1310.46,930.56 L1311.34,931.91 L1312.23,933.26 L1313.11,934.62 L1313.99,935.99 L1314.87,937.37 L1315.75,938.75 L1316.63,940.13 L1317.51,941.52 L1318.39,942.92 L1319.27,944.32 L1320.15,945.73 L1321.04,947.14 L1321.92,948.56 L1322.8,949.98 L1323.68,951.41 L1324.56,952.84 L1325.44,954.28 L1326.32,955.72 L1327.2,957.17 L1328.08,958.62 L1328.96,960.08 L1329.85,961.54 L1330.73,963 L1331.61,964.47 L1332.49,965.95 L1333.37,967.43 L1334.25,968.91 L1335.13,970.4 L1336.01,971.89 L1336.89,973.38 L1337.77,974.88 L1338.66,976.38 L1339.54,977.89 L1340.42,979.4 L1341.3,980.91 L1342.18,982.43 L1343.06,983.95 L1343.94,985.48 L1344.82,987 L1345.7,988.53 L1346.58,990.07 L1347.46,991.6 L1348.35,993.14 L1349.23,994.69 L1350.11,996.23 L1350.99,997.78 L1351.87,999.33 L1352.75,1000.89 L1353.63,1002.44 L1354.51,1004 L1355.39,1005.56 L1356.27,1007.13 L1357.16,1008.69 L1358.04,1010.26 L1358.92,1011.83 L1359.8,1013.4 L1360.68,1014.98 L1361.56,1016.56 L1362.44,1018.13 L1363.32,1019.71 L1364.2,1021.3 L1365.08,1022.88 L1365.97,1024.46 L1366.85,1026.05 L1367.73,1027.64 L1368.61,1029.23 L1369.49,1030.82 L1370.37,1032.41 L1371.25,1034 L1372.13,1035.6 L1373.01,1037.19 L1373.89,1038.79 L1374.78,1040.39 L1375.66,1041.99 L1376.54,1043.59 L1377.42,1045.19 L1378.3,1046.79 L1379.18,1048.39 L1380.06,1049.99 L1380.94,1051.59 L1381.82,1053.19 L1382.7,1054.79 L1383.59,1056.4 L1384.47,1058 L1385.35,1059.6 L1386.23,1061.21 L1387.11,1062.81 L1387.99,1064.41 L1388.87,1066.01 L1389.75,1067.62 L1390.63,1069.22 L1391.51,1070.82 L1392.39,1072.42 L1393.28,1074.02 L1394.16,1075.62 L1395.04,1077.22 L1395.92,1078.82 L1396.8,1080.42 L1397.68,1082.02 L1398.56,1083.62 L1399.44,1085.21 L1400.32,1086.81 L1401.2,1088.4 L1402.09,1090 L1402.97,1091.59 L1403.85,1093.18 L1404.73,1094.77 L1405.61,1096.36 L1406.49,1097.94 L1407.37,1099.53 L1408.25,1101.11 L1409.13,1102.7 L1410.01,1104.28 L1410.9,1105.86 L1411.78,1107.43 L1412.66,1109.01 L1413.54,1110.58 L1414.42,1112.16 L1415.3,1113.73 L1416.18,1115.3 L1417.06,1116.86 L1417.94,1118.43 L1418.82,1119.99 L1419.71,1121.55 L1420.59,1123.11 L1421.47,1124.66 L1422.35,1126.22 L1423.23,1127.77 L1424.11,1129.32 L1424.99,1130.86 L1425.87,1132.41 L1426.75,1133.95 L1427.63,1135.49 L1428.52,1137.02 L1429.4,1138.55 L1430.28,1140.09 L1431.16,1141.61 L1432.04,1143.14 L1432.92,1144.66 L1433.8,1146.18 L1434.68,1147.69 L1435.56,1149.21 L1436.44,1150.72 L1437.32,1152.22 L1438.21,1153.73 L1439.09,1155.23 L1439.97,1156.73 L1440.85,1158.22 L1441.73,1159.71 L1442.61,1161.2 L1443.49,1162.68 L1444.37,1164.16 L1445.25,1165.64 L1446.13,1167.11 L1447.02,1168.58 L1447.9,1170.05 L1448.78,1171.51 L1449.66,1172.97 L1450.54,1174.43 L1451.42,1175.88 L1452.3,1177.33 L1453.18,1178.77 L1454.06,1180.21 L1454.94,1181.65 L1455.83,1183.08 L1456.71,1184.51 L1457.59,1185.93 L1458.47,1187.35 L1459.35,1188.77 L1460.23,1190.18 L1461.11,1191.59 L1461.99,1192.99 L1462.87,1194.39 L1463.75,1195.79 L1464.64,1197.18 L1465.52,1198.57 L1466.4,1199.95 L1467.28,1201.33 L1468.16,1202.7 L1469.04,1204.07 L1469.92,1205.44 L1470.8,1206.8 L1471.68,1208.16 L1472.56,1209.51 L1473.44,1210.86 L1474.33,1212.2 L1475.21,1213.54 L1476.09,1214.88 L1476.97,1216.2 L1477.85,1217.53 L1478.73,1218.85 L1479.61,1220.17 L1480.49,1221.48 L1481.37,1222.78 L1482.25,1224.08 L1483.14,1225.38 L1484.02,1226.67 L1484.9,1227.96 L1485.78,1229.24 L1486.66,1230.52 L1487.54,1231.79 L1488.42,1233.06 L1489.3,1234.32 L1490.18,1235.58 L1491.06,1236.84 L1491.95,1238.08 L1492.83,1239.33 L1493.71,1240.57 L1494.59,1241.8 L1495.47,1243.03 L1496.35,1244.25 L1497.23,1245.47 L1498.11,1246.68 L1498.99,1247.89 L1499.87,1249.1 L1500.76,1250.29 L1501.64,1251.49 L1502.52,1252.67 L1503.4,1253.86 L1504.28,1255.04 L1505.16,1256.21 L1506.04,1257.38 L1506.92,1258.54 L1507.8,1259.7 L1508.68,1260.85 L1509.57,1261.99 L1510.45,1263.14 L1511.33,1264.27 L1512.21,1265.4 L1513.09,1266.53 L1513.97,1267.65 L1514.85,1268.77 L1515.73,1269.88 L1516.61,1270.98 L1517.49,1272.08 L1518.37,1273.18 L1519.26,1274.27 L1520.14,1275.35 L1521.02,1276.43 L1521.9,1277.5 L1522.78,1278.57 L1523.66,1279.64 L1524.54,1280.69 L1525.42,1281.75 L1526.3,1282.79 L1527.18,1283.84 L1528.07,1284.87 L1528.95,1285.91 L1529.83,1286.93 L1530.71,1287.95 L1531.59,1288.97 L1532.47,1289.98 L1533.35,1290.98 L1534.23,1291.98 L1535.11,1292.98 L1535.99,1293.97 L1536.88,1294.95 L1537.76,1295.93 L1538.64,1296.91 L1539.52,1297.87 L1540.4,1298.84 L1541.28,1299.79 L1542.16,1300.75 L1543.04,1301.69 L1543.92,1302.64 L1544.8,1303.57 L1545.69,1304.51 L1546.57,1305.43 L1547.45,1306.35 L1548.33,1307.27 L1549.21,1308.18 L1550.09,1309.09 L1550.97,1309.99 L1551.85,1310.88 L1552.73,1311.77 L1553.61,1312.66 L1554.49,1313.54 L1555.38,1314.41 L1556.26,1315.28 L1557.14,1316.14 L1558.02,1317 L1558.9,1317.86 L1559.78,1318.71 L1560.66,1319.55 L1561.54,1320.39 L1562.42,1321.22 L1563.3,1322.05 L1564.19,1322.87 L1565.07,1323.69 L1565.95,1324.5 L1566.83,1325.31 L1567.71,1326.12 L1568.59,1326.91 L1569.47,1327.71 L1570.35,1328.5 L1571.23,1329.28 L1572.11,1330.06 L1573,1330.83 L1573.88,1331.6 L1574.76,1332.36 L1575.64,1333.12 L1576.52,1333.87 L1577.4,1334.62 L1578.28,1335.37 L1579.16,1336.1 L1580.04,1336.84 L1580.92,1337.57 L1581.81,1338.29 L1582.69,1339.01 L1583.57,1339.73 L1584.45,1340.44 L1585.33,1341.14 L1586.21,1341.84 L1587.09,1342.54 L1587.97,1343.23 L1588.85,1343.91 L1589.73,1344.6 L1590.62,1345.27 L1591.5,1345.94 L1592.38,1346.61 L1593.26,1347.28 L1594.14,1347.93 L1595.02,1348.59 L1595.9,1349.24 L1596.78,1349.88 L1597.66,1350.52 L1598.54,1351.16 L1599.42,1351.79 L1600.31,1352.41 L1601.19,1353.03 L1602.07,1353.65 L1602.95,1354.26 L1603.83,1354.87 L1604.71,1355.48 L1605.59,1356.08 L1606.47,1356.67 L1607.35,1357.26 L1608.23,1357.85 L1609.12,1358.43 L1610,1359.01 L1610.88,1359.58 L1611.76,1360.15 L1612.64,1360.72 L1613.52,1361.28 L1614.4,1361.83 L1615.28,1362.39 L1616.16,1362.93 L1617.04,1363.48 L1617.93,1364.02 L1618.81,1364.55 L1619.69,1365.09 L1620.57,1365.61 L1621.45,1366.14 L1622.33,1366.66 L1623.21,1367.17 L1624.09,1367.68 L1624.97,1368.19 L1625.85,1368.69 L1626.74,1369.19 L1627.62,1369.69 L1628.5,1370.18 L1629.38,1370.67 L1630.26,1371.15 L1631.14,1371.63 L1632.02,1372.11 L1632.9,1372.58 L1633.78,1373.05 L1634.66,1373.51 L1635.55,1373.97 L1636.43,1374.43 L1637.31,1374.88 L1638.19,1375.33 L1639.07,1375.78 L1639.95,1376.22 L1640.83,1376.66 L1641.71,1377.1 L1642.59,1377.53 L1643.47,1377.95 L1644.35,1378.38 L1645.24,1378.8 L1646.12,1379.22 L1647,1379.63 L1647.88,1380.04 L1648.76,1380.45 L1649.64,1380.85 L1650.52,1381.25 L1651.4,1381.65 L1652.28,1382.04 L1653.16,1382.43 L1654.05,1382.82 L1654.93,1383.2 L1655.81,1383.58 L1656.69,1383.95 L1657.57,1384.33 L1658.45,1384.7 L1659.33,1385.06 L1660.21,1385.43 L1661.09,1385.79 L1661.97,1386.14 L1662.86,1386.5 L1663.74,1386.85 L1664.62,1387.2 L1665.5,1387.54 L1666.38,1387.88 L1667.26,1388.22 L1668.14,1388.56 L1669.02,1388.89 L1669.9,1389.22 L1670.78,1389.54 L1671.67,1389.87 L1672.55,1390.19 L1673.43,1390.51 L1674.31,1390.82 L1675.19,1391.13 L1676.07,1391.44 L1676.95,1391.75 L1677.83,1392.05 L1678.71,1392.35 L1679.59,1392.65 L1680.47,1392.94 L1681.36,1393.24 L1682.24,1393.53 L1683.12,1393.81 L1684,1394.1 L1684.88,1394.38 L1685.76,1394.66 L1686.64,1394.93 L1687.52,1395.21 L1688.4,1395.48 L1689.28,1395.74 L1690.17,1396.01 L1691.05,1396.27 L1691.93,1396.53 L1692.81,1396.79 L1693.69,1397.05 L1694.57,1397.3 L1695.45,1397.55 L1696.33,1397.8 L1697.21,1398.05 L1698.09,1398.29 L1698.98,1398.53 L1699.86,1398.77 L1700.74,1399 L1701.62,1399.24 L1702.5,1399.47 L1703.38,1399.7 L1704.26,1399.93 L1705.14,1400.15 L1706.02,1400.37 L1706.9,1400.6 L1707.79,1400.81 L1708.67,1401.03 L1709.55,1401.24 L1710.43,1401.45 L1711.31,1401.66 L1712.19,1401.87 L1713.07,1402.08 L1713.95,1402.28 L1714.83,1402.48 L1715.71,1402.68 L1716.6,1402.88 L1717.48,1403.07 L1718.36,1403.27 L1719.24,1403.46 L1720.12,1403.65 L1721,1403.83" stroke="#46821e" stroke-width="8.4" fill="none"/></g>
<text transform="translate(1321,832) scale(1,1.05)" font-family="'Liberation Serif','Times New Roman',serif" font-size="38.5">1302.9 eV</text>
<text transform="translate(1371,890.8) scale(1,1.05)" font-family="'Liberation Serif','Times New Roman',serif" font-size="38.5">Mg<tspan font-size="26" dy="-17">2+</tspan></text>
<path d="M1217.70,822.40 L1307.00,822.40" stroke="#a8a8a8" stroke-width="2.4"/>
<path d="M1319.00,822.40 L1305.00,827.40 L1305.00,817.40 z" fill="#000"/>
<rect x="67.9" y="7.3" width="791.5" height="636.3" fill="none" stroke="#3a3a3a" stroke-width="3.5" stroke-linejoin="round"/>
<rect x="929.2" y="7.3" width="791.8" height="636.4" fill="none" stroke="#3a3a3a" stroke-width="3.5" stroke-linejoin="round"/>
<rect x="67.7" y="794.5" width="791.4" height="636.1" fill="none" stroke="#3a3a3a" stroke-width="3.5" stroke-linejoin="round"/>
<rect x="929.3" y="794.5" width="791.7" height="636.1" fill="none" stroke="#3a3a3a" stroke-width="3.5" stroke-linejoin="round"/>
</svg>
</body></html>
